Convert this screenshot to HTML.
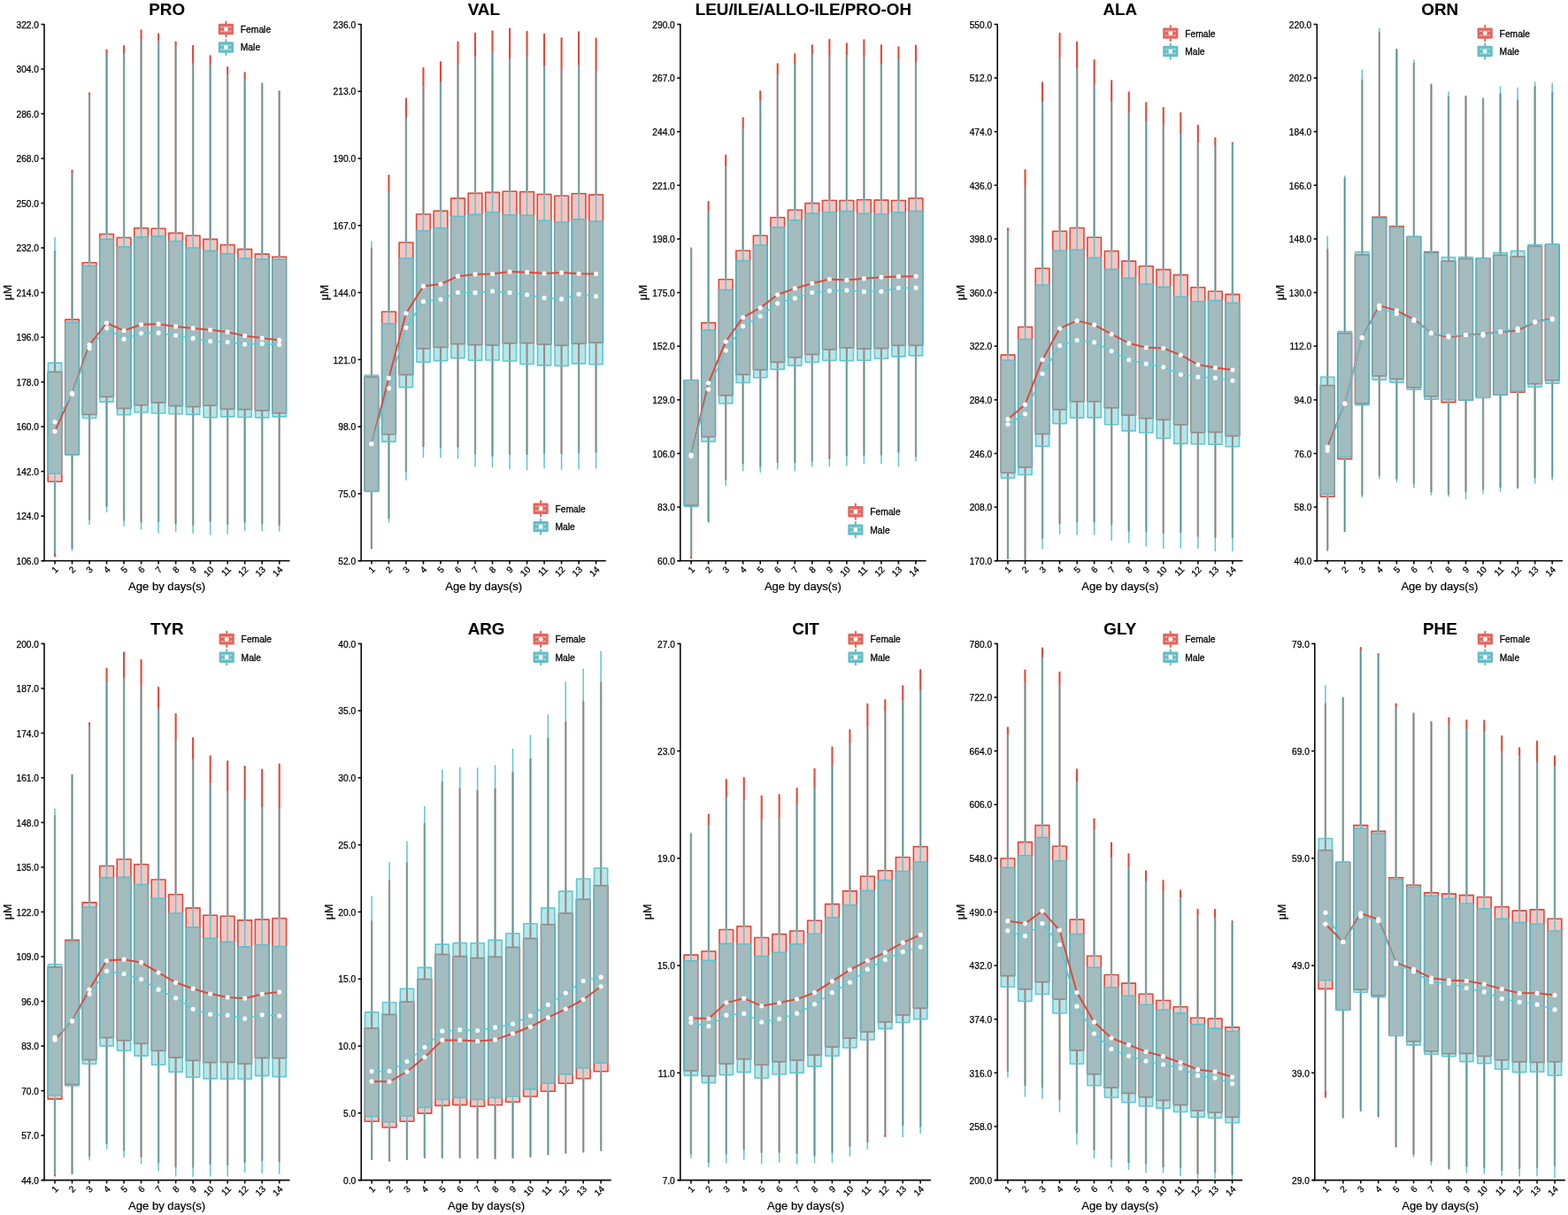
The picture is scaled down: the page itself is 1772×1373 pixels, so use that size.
<!DOCTYPE html>
<html lang="en">
<head>
<meta charset="utf-8">
<title>Amino acid concentrations by age in days</title>
<style>
html,body{margin:0;padding:0;background:#fff;}
body{width:1772px;height:1373px;overflow:hidden;}
svg{display:block;font-family:"Liberation Sans", sans-serif;}
</style>
</head>
<body>
<svg width="1772" height="1373" viewBox="0 0 1772 1373">
<rect width="1772" height="1373" fill="#fff"/>
<g>
<text x="188.7" y="17.2" text-anchor="middle" font-size="18.8" font-weight="bold" fill="#000" stroke="#000" stroke-width="0.1">PRO</text>
<g stroke="#dd4a3c" stroke-width="2.1" stroke-linecap="round" fill="none">
<line x1="62" x2="62" y1="284.2" y2="420.3"/>
<line x1="62" x2="62" y1="544.2" y2="628.5"/>
<line x1="81.52" x2="81.52" y1="192.7" y2="361.1"/>
<line x1="81.52" x2="81.52" y1="513.6" y2="618.9"/>
<line x1="101.03" x2="101.03" y1="105.4" y2="296.7"/>
<line x1="101.03" x2="101.03" y1="468.4" y2="586.8"/>
<line x1="120.55" x2="120.55" y1="56.5" y2="264.5"/>
<line x1="120.55" x2="120.55" y1="448.4" y2="571.8"/>
<line x1="140.06" x2="140.06" y1="52" y2="268.5"/>
<line x1="140.06" x2="140.06" y1="461.5" y2="587.4"/>
<line x1="159.58" x2="159.58" y1="34.2" y2="257.7"/>
<line x1="159.58" x2="159.58" y1="457.8" y2="589.5"/>
<line x1="179.09" x2="179.09" y1="38.3" y2="258.3"/>
<line x1="179.09" x2="179.09" y1="455" y2="588.9"/>
<line x1="198.61" x2="198.61" y1="47.5" y2="263.4"/>
<line x1="198.61" x2="198.61" y1="458.6" y2="591.1"/>
<line x1="218.12" x2="218.12" y1="51.8" y2="266.3"/>
<line x1="218.12" x2="218.12" y1="459.6" y2="593.1"/>
<line x1="237.64" x2="237.64" y1="63.2" y2="270.4"/>
<line x1="237.64" x2="237.64" y1="458.2" y2="588.5"/>
<line x1="257.15" x2="257.15" y1="76.1" y2="276.7"/>
<line x1="257.15" x2="257.15" y1="462.3" y2="591.7"/>
<line x1="276.67" x2="276.67" y1="82.4" y2="281.6"/>
<line x1="276.67" x2="276.67" y1="462.7" y2="589.5"/>
<line x1="296.18" x2="296.18" y1="94.8" y2="287.1"/>
<line x1="296.18" x2="296.18" y1="463.9" y2="591.5"/>
<line x1="315.7" x2="315.7" y1="103.4" y2="290.2"/>
<line x1="315.7" x2="315.7" y1="466.8" y2="593.1"/>
</g>
<g stroke="#db4a3d" stroke-width="1.6" stroke-linejoin="round" fill="#f3c5c1">
<rect x="54.15" y="420.3" width="15.7" height="123.9"/>
<rect x="73.67" y="361.1" width="15.7" height="152.5"/>
<rect x="93.18" y="296.7" width="15.7" height="171.7"/>
<rect x="112.7" y="264.5" width="15.7" height="183.9"/>
<rect x="132.21" y="268.5" width="15.7" height="193"/>
<rect x="151.73" y="257.7" width="15.7" height="200.1"/>
<rect x="171.24" y="258.3" width="15.7" height="196.7"/>
<rect x="190.76" y="263.4" width="15.7" height="195.2"/>
<rect x="210.27" y="266.3" width="15.7" height="193.3"/>
<rect x="229.79" y="270.4" width="15.7" height="187.8"/>
<rect x="249.3" y="276.7" width="15.7" height="185.6"/>
<rect x="268.82" y="281.6" width="15.7" height="181.1"/>
<rect x="288.33" y="287.1" width="15.7" height="176.8"/>
<rect x="307.85" y="290.2" width="15.7" height="176.6"/>
</g>
<g fill="#a4bbbe"><rect x="54.4" y="420.3" width="15.2" height="114.9"/><rect x="73.92" y="364" width="15.2" height="149.6"/><rect x="93.43" y="300.2" width="15.2" height="168.2"/><rect x="112.95" y="270.2" width="15.2" height="178.2"/><rect x="132.46" y="278.9" width="15.2" height="182.6"/><rect x="151.98" y="267.7" width="15.2" height="190.1"/><rect x="171.49" y="266.9" width="15.2" height="188.1"/><rect x="191.01" y="272.6" width="15.2" height="186"/><rect x="210.52" y="280" width="15.2" height="179.6"/><rect x="230.04" y="283.4" width="15.2" height="174.8"/><rect x="249.55" y="286.9" width="15.2" height="175.4"/><rect x="269.07" y="292" width="15.2" height="170.7"/><rect x="288.58" y="292.8" width="15.2" height="171.1"/><rect x="308.1" y="293" width="15.2" height="173.8"/></g>
<g fill="#b6e6e9"><rect x="54.4" y="410.1" width="15.2" height="10.2"/><rect x="93.43" y="468.4" width="15.2" height="4.1"/><rect x="112.95" y="448.4" width="15.2" height="5.7"/><rect x="132.46" y="461.5" width="15.2" height="7.3"/><rect x="151.98" y="457.8" width="15.2" height="8.2"/><rect x="171.49" y="455" width="15.2" height="12"/><rect x="191.01" y="458.6" width="15.2" height="9.2"/><rect x="210.52" y="459.6" width="15.2" height="8.8"/><rect x="230.04" y="458.2" width="15.2" height="13.5"/><rect x="249.55" y="462.3" width="15.2" height="8.6"/><rect x="269.07" y="462.7" width="15.2" height="8.8"/><rect x="288.58" y="463.9" width="15.2" height="8"/><rect x="308.1" y="466.8" width="15.2" height="4.1"/></g>
<g stroke="#968a88" stroke-width="1.7" fill="none">
<line x1="55.1" x2="68.9" y1="420.3" y2="420.3"/>
<line x1="62" x2="62" y1="410.9" y2="420.3" stroke-width="2.1"/>
<line x1="94.13" x2="107.93" y1="468.4" y2="468.4"/>
<line x1="101.03" x2="101.03" y1="468.4" y2="471.7" stroke-width="2.1"/>
<line x1="113.65" x2="127.45" y1="448.4" y2="448.4"/>
<line x1="120.55" x2="120.55" y1="448.4" y2="453.3" stroke-width="2.1"/>
<line x1="133.16" x2="146.96" y1="461.5" y2="461.5"/>
<line x1="140.06" x2="140.06" y1="461.5" y2="468" stroke-width="2.1"/>
<line x1="152.68" x2="166.48" y1="457.8" y2="457.8"/>
<line x1="159.58" x2="159.58" y1="457.8" y2="465.2" stroke-width="2.1"/>
<line x1="172.19" x2="185.99" y1="455" y2="455"/>
<line x1="179.09" x2="179.09" y1="455" y2="466.2" stroke-width="2.1"/>
<line x1="191.71" x2="205.51" y1="458.6" y2="458.6"/>
<line x1="198.61" x2="198.61" y1="458.6" y2="467" stroke-width="2.1"/>
<line x1="211.22" x2="225.02" y1="459.6" y2="459.6"/>
<line x1="218.12" x2="218.12" y1="459.6" y2="467.6" stroke-width="2.1"/>
<line x1="230.74" x2="244.54" y1="458.2" y2="458.2"/>
<line x1="237.64" x2="237.64" y1="458.2" y2="470.9" stroke-width="2.1"/>
<line x1="250.25" x2="264.05" y1="462.3" y2="462.3"/>
<line x1="257.15" x2="257.15" y1="462.3" y2="470.1" stroke-width="2.1"/>
<line x1="269.77" x2="283.57" y1="462.7" y2="462.7"/>
<line x1="276.67" x2="276.67" y1="462.7" y2="470.7" stroke-width="2.1"/>
<line x1="289.28" x2="303.08" y1="463.9" y2="463.9"/>
<line x1="296.18" x2="296.18" y1="463.9" y2="471.1" stroke-width="2.1"/>
<line x1="308.8" x2="322.6" y1="466.8" y2="466.8"/>
<line x1="315.7" x2="315.7" y1="466.8" y2="470.1" stroke-width="2.1"/>
</g>
<g stroke="#62c4ce" stroke-width="1.5" stroke-linecap="round" fill="none">
<line x1="62" x2="62" y1="268.6" y2="410.1"/>
<line x1="62" x2="62" y1="535.2" y2="624.3"/>
<line x1="81.52" x2="81.52" y1="196.1" y2="364"/>
<line x1="81.52" x2="81.52" y1="513.6" y2="621.9"/>
<line x1="101.03" x2="101.03" y1="107.8" y2="300.2"/>
<line x1="101.03" x2="101.03" y1="472.5" y2="592.4"/>
<line x1="120.55" x2="120.55" y1="62.5" y2="270.2"/>
<line x1="120.55" x2="120.55" y1="454.1" y2="578.6"/>
<line x1="140.06" x2="140.06" y1="61.5" y2="278.9"/>
<line x1="140.06" x2="140.06" y1="468.8" y2="594.2"/>
<line x1="159.58" x2="159.58" y1="45.6" y2="267.7"/>
<line x1="159.58" x2="159.58" y1="466" y2="597.9"/>
<line x1="179.09" x2="179.09" y1="46.6" y2="266.9"/>
<line x1="179.09" x2="179.09" y1="467" y2="602"/>
<line x1="198.61" x2="198.61" y1="53.1" y2="272.6"/>
<line x1="198.61" x2="198.61" y1="467.8" y2="600.7"/>
<line x1="218.12" x2="218.12" y1="72.5" y2="280"/>
<line x1="218.12" x2="218.12" y1="468.4" y2="602.6"/>
<line x1="237.64" x2="237.64" y1="74.1" y2="283.4"/>
<line x1="237.64" x2="237.64" y1="471.7" y2="604"/>
<line x1="257.15" x2="257.15" y1="85.5" y2="286.9"/>
<line x1="257.15" x2="257.15" y1="470.9" y2="602.8"/>
<line x1="276.67" x2="276.67" y1="91.1" y2="292"/>
<line x1="276.67" x2="276.67" y1="471.5" y2="599.3"/>
<line x1="296.18" x2="296.18" y1="94.5" y2="292.8"/>
<line x1="296.18" x2="296.18" y1="471.9" y2="599.7"/>
<line x1="315.7" x2="315.7" y1="103.1" y2="293"/>
<line x1="315.7" x2="315.7" y1="470.9" y2="600.1"/>
</g>
<g stroke="#e8c9c4" stroke-width="2.5" fill="none"><line x1="62" x2="62" y1="283.2" y2="410.1"/><line x1="62" x2="62" y1="544.2" y2="625"/><line x1="81.52" x2="81.52" y1="195.4" y2="361.1"/><line x1="81.52" x2="81.52" y1="513.6" y2="619.9"/><line x1="101.03" x2="101.03" y1="107.1" y2="296.7"/><line x1="101.03" x2="101.03" y1="472.5" y2="587.8"/><line x1="120.55" x2="120.55" y1="61.8" y2="264.5"/><line x1="120.55" x2="120.55" y1="454.1" y2="572.8"/><line x1="140.06" x2="140.06" y1="60.8" y2="268.5"/><line x1="140.06" x2="140.06" y1="468.8" y2="588.4"/><line x1="159.58" x2="159.58" y1="44.9" y2="257.7"/><line x1="159.58" x2="159.58" y1="466" y2="590.5"/><line x1="179.09" x2="179.09" y1="45.9" y2="258.3"/><line x1="179.09" x2="179.09" y1="467" y2="589.9"/><line x1="198.61" x2="198.61" y1="52.4" y2="263.4"/><line x1="198.61" x2="198.61" y1="467.8" y2="592.1"/><line x1="218.12" x2="218.12" y1="71.8" y2="266.3"/><line x1="218.12" x2="218.12" y1="468.4" y2="594.1"/><line x1="237.64" x2="237.64" y1="73.4" y2="270.4"/><line x1="237.64" x2="237.64" y1="471.7" y2="589.5"/><line x1="257.15" x2="257.15" y1="84.8" y2="276.7"/><line x1="257.15" x2="257.15" y1="470.9" y2="592.7"/><line x1="276.67" x2="276.67" y1="90.4" y2="281.6"/><line x1="276.67" x2="276.67" y1="471.5" y2="590.5"/><line x1="296.18" x2="296.18" y1="93.8" y2="287.1"/><line x1="296.18" x2="296.18" y1="471.9" y2="592.5"/><line x1="315.7" x2="315.7" y1="102.4" y2="290.2"/><line x1="315.7" x2="315.7" y1="470.9" y2="594.1"/></g>
<g stroke="#4f979b" stroke-width="1.5" fill="none"><line x1="62" x2="62" y1="283.2" y2="410.1"/><line x1="62" x2="62" y1="544.2" y2="625"/><line x1="81.52" x2="81.52" y1="195.4" y2="361.1"/><line x1="81.52" x2="81.52" y1="513.6" y2="619.9"/><line x1="101.03" x2="101.03" y1="107.1" y2="296.7"/><line x1="101.03" x2="101.03" y1="472.5" y2="587.8"/><line x1="120.55" x2="120.55" y1="61.8" y2="264.5"/><line x1="120.55" x2="120.55" y1="454.1" y2="572.8"/><line x1="140.06" x2="140.06" y1="60.8" y2="268.5"/><line x1="140.06" x2="140.06" y1="468.8" y2="588.4"/><line x1="159.58" x2="159.58" y1="44.9" y2="257.7"/><line x1="159.58" x2="159.58" y1="466" y2="590.5"/><line x1="179.09" x2="179.09" y1="45.9" y2="258.3"/><line x1="179.09" x2="179.09" y1="467" y2="589.9"/><line x1="198.61" x2="198.61" y1="52.4" y2="263.4"/><line x1="198.61" x2="198.61" y1="467.8" y2="592.1"/><line x1="218.12" x2="218.12" y1="71.8" y2="266.3"/><line x1="218.12" x2="218.12" y1="468.4" y2="594.1"/><line x1="237.64" x2="237.64" y1="73.4" y2="270.4"/><line x1="237.64" x2="237.64" y1="471.7" y2="589.5"/><line x1="257.15" x2="257.15" y1="84.8" y2="276.7"/><line x1="257.15" x2="257.15" y1="470.9" y2="592.7"/><line x1="276.67" x2="276.67" y1="90.4" y2="281.6"/><line x1="276.67" x2="276.67" y1="471.5" y2="590.5"/><line x1="296.18" x2="296.18" y1="93.8" y2="287.1"/><line x1="296.18" x2="296.18" y1="471.9" y2="592.5"/><line x1="315.7" x2="315.7" y1="102.4" y2="290.2"/><line x1="315.7" x2="315.7" y1="470.9" y2="594.1"/></g>
<g stroke="rgba(78,192,203,0.85)" stroke-width="1.6" stroke-linejoin="round" fill="none">
<rect x="54.4" y="410.1" width="15.2" height="125.1"/>
<rect x="73.92" y="364" width="15.2" height="149.6"/>
<rect x="93.43" y="300.2" width="15.2" height="172.3"/>
<rect x="112.95" y="270.2" width="15.2" height="183.9"/>
<rect x="132.46" y="278.9" width="15.2" height="189.9"/>
<rect x="151.98" y="267.7" width="15.2" height="198.3"/>
<rect x="171.49" y="266.9" width="15.2" height="200.1"/>
<rect x="191.01" y="272.6" width="15.2" height="195.2"/>
<rect x="210.52" y="280" width="15.2" height="188.4"/>
<rect x="230.04" y="283.4" width="15.2" height="188.3"/>
<rect x="249.55" y="286.9" width="15.2" height="184"/>
<rect x="269.07" y="292" width="15.2" height="179.5"/>
<rect x="288.58" y="292.8" width="15.2" height="179.1"/>
<rect x="308.1" y="293" width="15.2" height="177.9"/>
</g>
<polyline points="62,487.4 81.52,444.4 101.03,389.7 120.55,365 140.06,373.6 159.58,366.8 179.09,366.2 198.61,368.9 218.12,370.9 237.64,372.8 257.15,375.2 276.67,379.5 296.18,382.1 315.7,384.4" fill="none" stroke="#e0493b" stroke-width="2.0" stroke-linejoin="round"/>
<polyline points="62,476.8 81.52,445.4 101.03,393.6 120.55,370.9 140.06,383.2 159.58,376.6 179.09,376.2 198.61,379.1 218.12,382.3 237.64,385.6 257.15,386.6 276.67,389.1 296.18,388.5 315.7,389.5" fill="none" stroke="#5ccbd6" stroke-width="1.6" stroke-linejoin="round"/>
<g fill="#fff">
<circle cx="62" cy="487.4" r="2.6"/>
<circle cx="81.52" cy="444.4" r="2.6"/>
<circle cx="101.03" cy="389.7" r="2.6"/>
<circle cx="120.55" cy="365" r="2.6"/>
<circle cx="140.06" cy="373.6" r="2.6"/>
<circle cx="159.58" cy="366.8" r="2.6"/>
<circle cx="179.09" cy="366.2" r="2.6"/>
<circle cx="198.61" cy="368.9" r="2.6"/>
<circle cx="218.12" cy="370.9" r="2.6"/>
<circle cx="237.64" cy="372.8" r="2.6"/>
<circle cx="257.15" cy="375.2" r="2.6"/>
<circle cx="276.67" cy="379.5" r="2.6"/>
<circle cx="296.18" cy="382.1" r="2.6"/>
<circle cx="315.7" cy="384.4" r="2.6"/>
</g>
<g fill="#fff">
<circle cx="62" cy="476.8" r="2.6"/>
<circle cx="81.52" cy="445.4" r="2.6"/>
<circle cx="101.03" cy="393.6" r="2.6"/>
<circle cx="120.55" cy="370.9" r="2.6"/>
<circle cx="140.06" cy="383.2" r="2.6"/>
<circle cx="159.58" cy="376.6" r="2.6"/>
<circle cx="179.09" cy="376.2" r="2.6"/>
<circle cx="198.61" cy="379.1" r="2.6"/>
<circle cx="218.12" cy="382.3" r="2.6"/>
<circle cx="237.64" cy="385.6" r="2.6"/>
<circle cx="257.15" cy="386.6" r="2.6"/>
<circle cx="276.67" cy="389.1" r="2.6"/>
<circle cx="296.18" cy="388.5" r="2.6"/>
<circle cx="315.7" cy="389.5" r="2.6"/>
</g>
<g stroke="#0a0a0a" stroke-width="1.6" fill="none">
<line x1="50" x2="50" y1="26.9" y2="634.35"/>
<line x1="47.4" x2="327.5" y1="633.7" y2="633.7"/>
<line x1="46.4" x2="50" y1="27.5" y2="27.5"/>
<line x1="46.4" x2="50" y1="78.02" y2="78.02"/>
<line x1="46.4" x2="50" y1="128.53" y2="128.53"/>
<line x1="46.4" x2="50" y1="179.05" y2="179.05"/>
<line x1="46.4" x2="50" y1="229.57" y2="229.57"/>
<line x1="46.4" x2="50" y1="280.08" y2="280.08"/>
<line x1="46.4" x2="50" y1="330.6" y2="330.6"/>
<line x1="46.4" x2="50" y1="381.12" y2="381.12"/>
<line x1="46.4" x2="50" y1="431.63" y2="431.63"/>
<line x1="46.4" x2="50" y1="482.15" y2="482.15"/>
<line x1="46.4" x2="50" y1="532.67" y2="532.67"/>
<line x1="46.4" x2="50" y1="583.18" y2="583.18"/>
<line x1="46.4" x2="50" y1="633.7" y2="633.7"/>
<line x1="62" x2="62" y1="633.7" y2="637.5"/>
<line x1="81.52" x2="81.52" y1="633.7" y2="637.5"/>
<line x1="101.03" x2="101.03" y1="633.7" y2="637.5"/>
<line x1="120.55" x2="120.55" y1="633.7" y2="637.5"/>
<line x1="140.06" x2="140.06" y1="633.7" y2="637.5"/>
<line x1="159.58" x2="159.58" y1="633.7" y2="637.5"/>
<line x1="179.09" x2="179.09" y1="633.7" y2="637.5"/>
<line x1="198.61" x2="198.61" y1="633.7" y2="637.5"/>
<line x1="218.12" x2="218.12" y1="633.7" y2="637.5"/>
<line x1="237.64" x2="237.64" y1="633.7" y2="637.5"/>
<line x1="257.15" x2="257.15" y1="633.7" y2="637.5"/>
<line x1="276.67" x2="276.67" y1="633.7" y2="637.5"/>
<line x1="296.18" x2="296.18" y1="633.7" y2="637.5"/>
<line x1="315.7" x2="315.7" y1="633.7" y2="637.5"/>
</g>
<g font-size="10.2" fill="#000" stroke="#000" stroke-width="0.25" text-anchor="end">
<text x="44" y="31.7">322.0</text>
<text x="44" y="82.22">304.0</text>
<text x="44" y="132.73">286.0</text>
<text x="44" y="183.25">268.0</text>
<text x="44" y="233.77">250.0</text>
<text x="44" y="284.28">232.0</text>
<text x="44" y="334.8">214.0</text>
<text x="44" y="385.32">196.0</text>
<text x="44" y="435.83">178.0</text>
<text x="44" y="486.35">160.0</text>
<text x="44" y="536.87">142.0</text>
<text x="44" y="587.38">124.0</text>
<text x="44" y="637.9">106.0</text>
</g>
<g font-size="10.2" fill="#000" stroke="#000" stroke-width="0.25" text-anchor="end">
<text transform="translate(66.6,644.3) rotate(-45)">1</text>
<text transform="translate(86.12,644.3) rotate(-45)">2</text>
<text transform="translate(105.63,644.3) rotate(-45)">3</text>
<text transform="translate(125.15,644.3) rotate(-45)">4</text>
<text transform="translate(144.66,644.3) rotate(-45)">5</text>
<text transform="translate(164.18,644.3) rotate(-45)">6</text>
<text transform="translate(183.69,644.3) rotate(-45)">7</text>
<text transform="translate(203.21,644.3) rotate(-45)">8</text>
<text transform="translate(222.72,644.3) rotate(-45)">9</text>
<text transform="translate(242.24,644.3) rotate(-45)">10</text>
<text transform="translate(261.75,644.3) rotate(-45)">11</text>
<text transform="translate(281.27,644.3) rotate(-45)">12</text>
<text transform="translate(300.78,644.3) rotate(-45)">13</text>
<text transform="translate(320.3,644.3) rotate(-45)">14</text>
</g>
<text x="188.6" y="667.4" text-anchor="middle" font-size="13.05" fill="#000" stroke="#000" stroke-width="0.2">Age by days(s)</text>
<text transform="translate(12.5,330.6) rotate(-90)" text-anchor="middle" font-size="12.4" fill="#000" stroke="#000" stroke-width="0.2">μM</text>
<line x1="255.4" x2="255.4" y1="24.4" y2="41.6" stroke="#e1675f" stroke-width="2" stroke-linecap="round"/>
<rect x="246.8" y="26.8" width="17.2" height="12.4" rx="1.2" fill="#e1675f"/>
<path d="M249.2 30.6H261.6M249.2 35.4H261.6" stroke="#fff" stroke-opacity="0.45" stroke-width="1.6" stroke-dasharray="2.6 0.6" fill="none"/>
<circle cx="255.4" cy="33" r="2.4" fill="#fff"/>
<text x="271.8" y="37" font-size="10.3" fill="#000" stroke="#000" stroke-width="0.3">Female</text>
<line x1="255.4" x2="255.4" y1="44.85" y2="62.05" stroke="#64bdc6" stroke-width="2" stroke-linecap="round"/>
<rect x="246.8" y="47.25" width="17.2" height="12.4" rx="1.2" fill="#64bdc6"/>
<path d="M249.2 51.05H261.6M249.2 55.85H261.6" stroke="#fff" stroke-opacity="0.45" stroke-width="1.6" stroke-dasharray="2.6 0.6" fill="none"/>
<circle cx="255.4" cy="53.45" r="2.4" fill="#fff"/>
<text x="271.8" y="57.45" font-size="10.3" fill="#000" stroke="#000" stroke-width="0.3">Male</text>
</g>
<g>
<text x="546.8" y="17.2" text-anchor="middle" font-size="18.8" font-weight="bold" fill="#000" stroke="#000" stroke-width="0.1">VAL</text>
<g stroke="#dd4a3c" stroke-width="2.1" stroke-linecap="round" fill="none">
<line x1="419.9" x2="419.9" y1="281.2" y2="426"/>
<line x1="419.9" x2="419.9" y1="554.8" y2="619.4"/>
<line x1="439.42" x2="439.42" y1="198.2" y2="352.2"/>
<line x1="439.42" x2="439.42" y1="490.8" y2="585.3"/>
<line x1="458.93" x2="458.93" y1="111.5" y2="274"/>
<line x1="458.93" x2="458.93" y1="423.5" y2="532.5"/>
<line x1="478.45" x2="478.45" y1="77.1" y2="242"/>
<line x1="478.45" x2="478.45" y1="394" y2="504"/>
<line x1="497.96" x2="497.96" y1="70.3" y2="238.4"/>
<line x1="497.96" x2="497.96" y1="392.5" y2="505.2"/>
<line x1="517.48" x2="517.48" y1="47.9" y2="224.1"/>
<line x1="517.48" x2="517.48" y1="388.7" y2="504.6"/>
<line x1="536.99" x2="536.99" y1="37.7" y2="218.4"/>
<line x1="536.99" x2="536.99" y1="389.7" y2="512.5"/>
<line x1="556.51" x2="556.51" y1="35.3" y2="217.4"/>
<line x1="556.51" x2="556.51" y1="390.1" y2="514.8"/>
<line x1="576.02" x2="576.02" y1="32.6" y2="216.2"/>
<line x1="576.02" x2="576.02" y1="387.9" y2="513"/>
<line x1="595.54" x2="595.54" y1="35.9" y2="216.8"/>
<line x1="595.54" x2="595.54" y1="387.7" y2="512.8"/>
<line x1="615.05" x2="615.05" y1="38.7" y2="219.5"/>
<line x1="615.05" x2="615.05" y1="389.1" y2="512.1"/>
<line x1="634.57" x2="634.57" y1="43.2" y2="221.3"/>
<line x1="634.57" x2="634.57" y1="390.3" y2="512.1"/>
<line x1="654.08" x2="654.08" y1="36.3" y2="218.8"/>
<line x1="654.08" x2="654.08" y1="388.3" y2="511.1"/>
<line x1="673.6" x2="673.6" y1="43.6" y2="220.1"/>
<line x1="673.6" x2="673.6" y1="387.2" y2="510.5"/>
</g>
<g stroke="#db4a3d" stroke-width="1.6" stroke-linejoin="round" fill="#f3c5c1">
<rect x="412.05" y="426" width="15.7" height="128.8"/>
<rect x="431.57" y="352.2" width="15.7" height="138.6"/>
<rect x="451.08" y="274" width="15.7" height="149.5"/>
<rect x="470.6" y="242" width="15.7" height="152"/>
<rect x="490.11" y="238.4" width="15.7" height="154.1"/>
<rect x="509.63" y="224.1" width="15.7" height="164.6"/>
<rect x="529.14" y="218.4" width="15.7" height="171.3"/>
<rect x="548.66" y="217.4" width="15.7" height="172.7"/>
<rect x="568.17" y="216.2" width="15.7" height="171.7"/>
<rect x="587.69" y="216.8" width="15.7" height="170.9"/>
<rect x="607.2" y="219.5" width="15.7" height="169.6"/>
<rect x="626.72" y="221.3" width="15.7" height="169"/>
<rect x="646.23" y="218.8" width="15.7" height="169.5"/>
<rect x="665.75" y="220.1" width="15.7" height="167.1"/>
</g>
<g fill="#a4bbbe"><rect x="412.3" y="426" width="15.2" height="128.8"/><rect x="431.82" y="365.8" width="15.2" height="125"/><rect x="451.33" y="291.8" width="15.2" height="131.7"/><rect x="470.85" y="260.8" width="15.2" height="133.2"/><rect x="490.36" y="257.7" width="15.2" height="134.8"/><rect x="509.88" y="244.5" width="15.2" height="144.2"/><rect x="529.39" y="242.4" width="15.2" height="147.3"/><rect x="548.91" y="239.8" width="15.2" height="150.3"/><rect x="568.42" y="242.8" width="15.2" height="145.1"/><rect x="587.94" y="243.3" width="15.2" height="144.4"/><rect x="607.45" y="249.2" width="15.2" height="139.9"/><rect x="626.97" y="251" width="15.2" height="139.3"/><rect x="646.48" y="247.9" width="15.2" height="140.4"/><rect x="666" y="250" width="15.2" height="137.2"/></g>
<g fill="#b6e6e9"><rect x="412.3" y="424" width="15.2" height="2"/><rect x="412.3" y="554.8" width="15.2" height="0.6"/><rect x="431.82" y="490.8" width="15.2" height="8.3"/><rect x="451.33" y="423.5" width="15.2" height="14.1"/><rect x="470.85" y="394" width="15.2" height="15.3"/><rect x="490.36" y="392.5" width="15.2" height="15.1"/><rect x="509.88" y="388.7" width="15.2" height="15.9"/><rect x="529.39" y="389.7" width="15.2" height="17.5"/><rect x="548.91" y="390.1" width="15.2" height="16.9"/><rect x="568.42" y="387.9" width="15.2" height="20.1"/><rect x="587.94" y="387.7" width="15.2" height="23.8"/><rect x="607.45" y="389.1" width="15.2" height="23.8"/><rect x="626.97" y="390.3" width="15.2" height="23.1"/><rect x="646.48" y="388.3" width="15.2" height="22.6"/><rect x="666" y="387.2" width="15.2" height="24.5"/></g>
<g stroke="#968a88" stroke-width="1.7" fill="none">
<line x1="413" x2="426.8" y1="426" y2="426"/>
<line x1="419.9" x2="419.9" y1="424.8" y2="426" stroke-width="2.1"/>
<line x1="432.52" x2="446.32" y1="490.8" y2="490.8"/>
<line x1="439.42" x2="439.42" y1="490.8" y2="498.3" stroke-width="2.1"/>
<line x1="452.03" x2="465.83" y1="423.5" y2="423.5"/>
<line x1="458.93" x2="458.93" y1="423.5" y2="436.8" stroke-width="2.1"/>
<line x1="471.55" x2="485.35" y1="394" y2="394"/>
<line x1="478.45" x2="478.45" y1="394" y2="408.5" stroke-width="2.1"/>
<line x1="491.06" x2="504.86" y1="392.5" y2="392.5"/>
<line x1="497.96" x2="497.96" y1="392.5" y2="406.8" stroke-width="2.1"/>
<line x1="510.58" x2="524.38" y1="388.7" y2="388.7"/>
<line x1="517.48" x2="517.48" y1="388.7" y2="403.8" stroke-width="2.1"/>
<line x1="530.09" x2="543.89" y1="389.7" y2="389.7"/>
<line x1="536.99" x2="536.99" y1="389.7" y2="406.4" stroke-width="2.1"/>
<line x1="549.61" x2="563.41" y1="390.1" y2="390.1"/>
<line x1="556.51" x2="556.51" y1="390.1" y2="406.2" stroke-width="2.1"/>
<line x1="569.12" x2="582.92" y1="387.9" y2="387.9"/>
<line x1="576.02" x2="576.02" y1="387.9" y2="407.2" stroke-width="2.1"/>
<line x1="588.64" x2="602.44" y1="387.7" y2="387.7"/>
<line x1="595.54" x2="595.54" y1="387.7" y2="410.7" stroke-width="2.1"/>
<line x1="608.15" x2="621.95" y1="389.1" y2="389.1"/>
<line x1="615.05" x2="615.05" y1="389.1" y2="412.1" stroke-width="2.1"/>
<line x1="627.67" x2="641.47" y1="390.3" y2="390.3"/>
<line x1="634.57" x2="634.57" y1="390.3" y2="412.6" stroke-width="2.1"/>
<line x1="647.18" x2="660.98" y1="388.3" y2="388.3"/>
<line x1="654.08" x2="654.08" y1="388.3" y2="410.1" stroke-width="2.1"/>
<line x1="666.7" x2="680.5" y1="387.2" y2="387.2"/>
<line x1="673.6" x2="673.6" y1="387.2" y2="410.9" stroke-width="2.1"/>
</g>
<g stroke="#62c4ce" stroke-width="1.5" stroke-linecap="round" fill="none">
<line x1="419.9" x2="419.9" y1="272.7" y2="424"/>
<line x1="419.9" x2="419.9" y1="555.4" y2="617.7"/>
<line x1="439.42" x2="439.42" y1="216.9" y2="365.8"/>
<line x1="439.42" x2="439.42" y1="499.1" y2="590.3"/>
<line x1="458.93" x2="458.93" y1="133.7" y2="291.8"/>
<line x1="458.93" x2="458.93" y1="437.6" y2="542.3"/>
<line x1="478.45" x2="478.45" y1="99.2" y2="260.8"/>
<line x1="478.45" x2="478.45" y1="409.3" y2="516.5"/>
<line x1="497.96" x2="497.96" y1="93.5" y2="257.7"/>
<line x1="497.96" x2="497.96" y1="407.6" y2="516.7"/>
<line x1="517.48" x2="517.48" y1="72.7" y2="244.5"/>
<line x1="517.48" x2="517.48" y1="404.6" y2="517.9"/>
<line x1="536.99" x2="536.99" y1="64.9" y2="242.4"/>
<line x1="536.99" x2="536.99" y1="407.2" y2="527.3"/>
<line x1="556.51" x2="556.51" y1="61.1" y2="239.8"/>
<line x1="556.51" x2="556.51" y1="407" y2="527.7"/>
<line x1="576.02" x2="576.02" y1="66.6" y2="242.8"/>
<line x1="576.02" x2="576.02" y1="408" y2="529.9"/>
<line x1="595.54" x2="595.54" y1="64.5" y2="243.3"/>
<line x1="595.54" x2="595.54" y1="411.5" y2="530.7"/>
<line x1="615.05" x2="615.05" y1="75.3" y2="249.2"/>
<line x1="615.05" x2="615.05" y1="412.9" y2="529.1"/>
<line x1="634.57" x2="634.57" y1="79.4" y2="251"/>
<line x1="634.57" x2="634.57" y1="413.4" y2="530.5"/>
<line x1="654.08" x2="654.08" y1="74.3" y2="247.9"/>
<line x1="654.08" x2="654.08" y1="410.9" y2="530.1"/>
<line x1="673.6" x2="673.6" y1="80.7" y2="250"/>
<line x1="673.6" x2="673.6" y1="411.7" y2="529.1"/>
</g>
<g stroke="#e8c9c4" stroke-width="2.5" fill="none"><line x1="419.9" x2="419.9" y1="280.2" y2="424"/><line x1="419.9" x2="419.9" y1="555.4" y2="618.4"/><line x1="439.42" x2="439.42" y1="216.2" y2="352.2"/><line x1="439.42" x2="439.42" y1="499.1" y2="586.3"/><line x1="458.93" x2="458.93" y1="133" y2="274"/><line x1="458.93" x2="458.93" y1="437.6" y2="533.5"/><line x1="478.45" x2="478.45" y1="98.5" y2="242"/><line x1="478.45" x2="478.45" y1="409.3" y2="505"/><line x1="497.96" x2="497.96" y1="92.8" y2="238.4"/><line x1="497.96" x2="497.96" y1="407.6" y2="506.2"/><line x1="517.48" x2="517.48" y1="72" y2="224.1"/><line x1="517.48" x2="517.48" y1="404.6" y2="505.6"/><line x1="536.99" x2="536.99" y1="64.2" y2="218.4"/><line x1="536.99" x2="536.99" y1="407.2" y2="513.5"/><line x1="556.51" x2="556.51" y1="60.4" y2="217.4"/><line x1="556.51" x2="556.51" y1="407" y2="515.8"/><line x1="576.02" x2="576.02" y1="65.9" y2="216.2"/><line x1="576.02" x2="576.02" y1="408" y2="514"/><line x1="595.54" x2="595.54" y1="63.8" y2="216.8"/><line x1="595.54" x2="595.54" y1="411.5" y2="513.8"/><line x1="615.05" x2="615.05" y1="74.6" y2="219.5"/><line x1="615.05" x2="615.05" y1="412.9" y2="513.1"/><line x1="634.57" x2="634.57" y1="78.7" y2="221.3"/><line x1="634.57" x2="634.57" y1="413.4" y2="513.1"/><line x1="654.08" x2="654.08" y1="73.6" y2="218.8"/><line x1="654.08" x2="654.08" y1="410.9" y2="512.1"/><line x1="673.6" x2="673.6" y1="80" y2="220.1"/><line x1="673.6" x2="673.6" y1="411.7" y2="511.5"/></g>
<g stroke="#4f979b" stroke-width="1.5" fill="none"><line x1="419.9" x2="419.9" y1="280.2" y2="424"/><line x1="419.9" x2="419.9" y1="555.4" y2="618.4"/><line x1="439.42" x2="439.42" y1="216.2" y2="352.2"/><line x1="439.42" x2="439.42" y1="499.1" y2="586.3"/><line x1="458.93" x2="458.93" y1="133" y2="274"/><line x1="458.93" x2="458.93" y1="437.6" y2="533.5"/><line x1="478.45" x2="478.45" y1="98.5" y2="242"/><line x1="478.45" x2="478.45" y1="409.3" y2="505"/><line x1="497.96" x2="497.96" y1="92.8" y2="238.4"/><line x1="497.96" x2="497.96" y1="407.6" y2="506.2"/><line x1="517.48" x2="517.48" y1="72" y2="224.1"/><line x1="517.48" x2="517.48" y1="404.6" y2="505.6"/><line x1="536.99" x2="536.99" y1="64.2" y2="218.4"/><line x1="536.99" x2="536.99" y1="407.2" y2="513.5"/><line x1="556.51" x2="556.51" y1="60.4" y2="217.4"/><line x1="556.51" x2="556.51" y1="407" y2="515.8"/><line x1="576.02" x2="576.02" y1="65.9" y2="216.2"/><line x1="576.02" x2="576.02" y1="408" y2="514"/><line x1="595.54" x2="595.54" y1="63.8" y2="216.8"/><line x1="595.54" x2="595.54" y1="411.5" y2="513.8"/><line x1="615.05" x2="615.05" y1="74.6" y2="219.5"/><line x1="615.05" x2="615.05" y1="412.9" y2="513.1"/><line x1="634.57" x2="634.57" y1="78.7" y2="221.3"/><line x1="634.57" x2="634.57" y1="413.4" y2="513.1"/><line x1="654.08" x2="654.08" y1="73.6" y2="218.8"/><line x1="654.08" x2="654.08" y1="410.9" y2="512.1"/><line x1="673.6" x2="673.6" y1="80" y2="220.1"/><line x1="673.6" x2="673.6" y1="411.7" y2="511.5"/></g>
<g stroke="rgba(78,192,203,0.85)" stroke-width="1.6" stroke-linejoin="round" fill="none">
<rect x="412.3" y="424" width="15.2" height="131.4"/>
<rect x="431.82" y="365.8" width="15.2" height="133.3"/>
<rect x="451.33" y="291.8" width="15.2" height="145.8"/>
<rect x="470.85" y="260.8" width="15.2" height="148.5"/>
<rect x="490.36" y="257.7" width="15.2" height="149.9"/>
<rect x="509.88" y="244.5" width="15.2" height="160.1"/>
<rect x="529.39" y="242.4" width="15.2" height="164.8"/>
<rect x="548.91" y="239.8" width="15.2" height="167.2"/>
<rect x="568.42" y="242.8" width="15.2" height="165.2"/>
<rect x="587.94" y="243.3" width="15.2" height="168.2"/>
<rect x="607.45" y="249.2" width="15.2" height="163.7"/>
<rect x="626.97" y="251" width="15.2" height="162.4"/>
<rect x="646.48" y="247.9" width="15.2" height="163"/>
<rect x="666" y="250" width="15.2" height="161.7"/>
</g>
<polyline points="419.9,501.6 439.42,427.2 458.93,354 478.45,323.4 497.96,321 517.48,312.2 536.99,309.9 556.51,309.5 576.02,307.1 595.54,307.7 615.05,309.1 634.57,308.1 654.08,309.3 673.6,309.5" fill="none" stroke="#e0493b" stroke-width="2.0" stroke-linejoin="round"/>
<polyline points="419.9,501.6 439.42,438.8 458.93,370.3 478.45,340.7 497.96,338.3 517.48,330.5 536.99,330.7 556.51,329.1 576.02,330.7 595.54,333 615.05,336.7 634.57,337.9 654.08,332.4 673.6,334.8" fill="none" stroke="#5ccbd6" stroke-width="1.6" stroke-linejoin="round"/>
<g fill="#fff">
<circle cx="419.9" cy="501.6" r="2.6"/>
<circle cx="439.42" cy="427.2" r="2.6"/>
<circle cx="458.93" cy="354" r="2.6"/>
<circle cx="478.45" cy="323.4" r="2.6"/>
<circle cx="497.96" cy="321" r="2.6"/>
<circle cx="517.48" cy="312.2" r="2.6"/>
<circle cx="536.99" cy="309.9" r="2.6"/>
<circle cx="556.51" cy="309.5" r="2.6"/>
<circle cx="576.02" cy="307.1" r="2.6"/>
<circle cx="595.54" cy="307.7" r="2.6"/>
<circle cx="615.05" cy="309.1" r="2.6"/>
<circle cx="634.57" cy="308.1" r="2.6"/>
<circle cx="654.08" cy="309.3" r="2.6"/>
<circle cx="673.6" cy="309.5" r="2.6"/>
</g>
<g fill="#fff">
<circle cx="419.9" cy="501.6" r="2.6"/>
<circle cx="439.42" cy="438.8" r="2.6"/>
<circle cx="458.93" cy="370.3" r="2.6"/>
<circle cx="478.45" cy="340.7" r="2.6"/>
<circle cx="497.96" cy="338.3" r="2.6"/>
<circle cx="517.48" cy="330.5" r="2.6"/>
<circle cx="536.99" cy="330.7" r="2.6"/>
<circle cx="556.51" cy="329.1" r="2.6"/>
<circle cx="576.02" cy="330.7" r="2.6"/>
<circle cx="595.54" cy="333" r="2.6"/>
<circle cx="615.05" cy="336.7" r="2.6"/>
<circle cx="634.57" cy="337.9" r="2.6"/>
<circle cx="654.08" cy="332.4" r="2.6"/>
<circle cx="673.6" cy="334.8" r="2.6"/>
</g>
<g stroke="#0a0a0a" stroke-width="1.6" fill="none">
<line x1="408.1" x2="408.1" y1="26.9" y2="634.35"/>
<line x1="405.5" x2="684.8" y1="633.7" y2="633.7"/>
<line x1="404.5" x2="408.1" y1="27.5" y2="27.5"/>
<line x1="404.5" x2="408.1" y1="103.28" y2="103.28"/>
<line x1="404.5" x2="408.1" y1="179.05" y2="179.05"/>
<line x1="404.5" x2="408.1" y1="254.83" y2="254.83"/>
<line x1="404.5" x2="408.1" y1="330.6" y2="330.6"/>
<line x1="404.5" x2="408.1" y1="406.38" y2="406.38"/>
<line x1="404.5" x2="408.1" y1="482.15" y2="482.15"/>
<line x1="404.5" x2="408.1" y1="557.93" y2="557.93"/>
<line x1="404.5" x2="408.1" y1="633.7" y2="633.7"/>
<line x1="419.9" x2="419.9" y1="633.7" y2="637.5"/>
<line x1="439.42" x2="439.42" y1="633.7" y2="637.5"/>
<line x1="458.93" x2="458.93" y1="633.7" y2="637.5"/>
<line x1="478.45" x2="478.45" y1="633.7" y2="637.5"/>
<line x1="497.96" x2="497.96" y1="633.7" y2="637.5"/>
<line x1="517.48" x2="517.48" y1="633.7" y2="637.5"/>
<line x1="536.99" x2="536.99" y1="633.7" y2="637.5"/>
<line x1="556.51" x2="556.51" y1="633.7" y2="637.5"/>
<line x1="576.02" x2="576.02" y1="633.7" y2="637.5"/>
<line x1="595.54" x2="595.54" y1="633.7" y2="637.5"/>
<line x1="615.05" x2="615.05" y1="633.7" y2="637.5"/>
<line x1="634.57" x2="634.57" y1="633.7" y2="637.5"/>
<line x1="654.08" x2="654.08" y1="633.7" y2="637.5"/>
<line x1="673.6" x2="673.6" y1="633.7" y2="637.5"/>
</g>
<g font-size="10.2" fill="#000" stroke="#000" stroke-width="0.25" text-anchor="end">
<text x="402.1" y="31.7">236.0</text>
<text x="402.1" y="107.48">213.0</text>
<text x="402.1" y="183.25">190.0</text>
<text x="402.1" y="259.03">167.0</text>
<text x="402.1" y="334.8">144.0</text>
<text x="402.1" y="410.57">121.0</text>
<text x="402.1" y="486.35">98.0</text>
<text x="402.1" y="562.13">75.0</text>
<text x="402.1" y="637.9">52.0</text>
</g>
<g font-size="10.2" fill="#000" stroke="#000" stroke-width="0.25" text-anchor="end">
<text transform="translate(424.5,644.3) rotate(-45)">1</text>
<text transform="translate(444.02,644.3) rotate(-45)">2</text>
<text transform="translate(463.53,644.3) rotate(-45)">3</text>
<text transform="translate(483.05,644.3) rotate(-45)">4</text>
<text transform="translate(502.56,644.3) rotate(-45)">5</text>
<text transform="translate(522.08,644.3) rotate(-45)">6</text>
<text transform="translate(541.59,644.3) rotate(-45)">7</text>
<text transform="translate(561.11,644.3) rotate(-45)">8</text>
<text transform="translate(580.62,644.3) rotate(-45)">9</text>
<text transform="translate(600.14,644.3) rotate(-45)">10</text>
<text transform="translate(619.65,644.3) rotate(-45)">11</text>
<text transform="translate(639.17,644.3) rotate(-45)">12</text>
<text transform="translate(658.68,644.3) rotate(-45)">13</text>
<text transform="translate(678.2,644.3) rotate(-45)">14</text>
</g>
<text x="546.7" y="667.4" text-anchor="middle" font-size="13.05" fill="#000" stroke="#000" stroke-width="0.2">Age by days(s)</text>
<text transform="translate(370.6,330.6) rotate(-90)" text-anchor="middle" font-size="12.4" fill="#000" stroke="#000" stroke-width="0.2">μM</text>
<line x1="611.1" x2="611.1" y1="566.1" y2="583.3" stroke="#e1675f" stroke-width="2" stroke-linecap="round"/>
<rect x="602.5" y="568.5" width="17.2" height="12.4" rx="1.2" fill="#e1675f"/>
<path d="M604.9 572.3H617.3M604.9 577.1H617.3" stroke="#fff" stroke-opacity="0.45" stroke-width="1.6" stroke-dasharray="2.6 0.6" fill="none"/>
<circle cx="611.1" cy="574.7" r="2.4" fill="#fff"/>
<text x="627.5" y="578.7" font-size="10.3" fill="#000" stroke="#000" stroke-width="0.3">Female</text>
<line x1="611.1" x2="611.1" y1="586.55" y2="603.75" stroke="#64bdc6" stroke-width="2" stroke-linecap="round"/>
<rect x="602.5" y="588.95" width="17.2" height="12.4" rx="1.2" fill="#64bdc6"/>
<path d="M604.9 592.75H617.3M604.9 597.55H617.3" stroke="#fff" stroke-opacity="0.45" stroke-width="1.6" stroke-dasharray="2.6 0.6" fill="none"/>
<circle cx="611.1" cy="595.15" r="2.4" fill="#fff"/>
<text x="627.5" y="599.15" font-size="10.3" fill="#000" stroke="#000" stroke-width="0.3">Male</text>
</g>
<g>
<text x="907.9" y="17.2" text-anchor="middle" font-size="18.8" font-weight="bold" fill="#000" stroke="#000" stroke-width="0.1">LEU/ILE/ALLO-ILE/PRO-OH</text>
<g stroke="#dd4a3c" stroke-width="2.1" stroke-linecap="round" fill="none">
<line x1="781.1" x2="781.1" y1="281.6" y2="429.9"/>
<line x1="781.1" x2="781.1" y1="571" y2="630.4"/>
<line x1="800.63" x2="800.63" y1="228" y2="364.8"/>
<line x1="800.63" x2="800.63" y1="493.6" y2="588.3"/>
<line x1="820.16" x2="820.16" y1="175.6" y2="315.7"/>
<line x1="820.16" x2="820.16" y1="446.8" y2="541.6"/>
<line x1="839.69" x2="839.69" y1="133.2" y2="283.2"/>
<line x1="839.69" x2="839.69" y1="423.3" y2="523.3"/>
<line x1="859.22" x2="859.22" y1="103.2" y2="266.3"/>
<line x1="859.22" x2="859.22" y1="417.8" y2="526.8"/>
<line x1="878.75" x2="878.75" y1="72.4" y2="245.7"/>
<line x1="878.75" x2="878.75" y1="409.3" y2="521.9"/>
<line x1="898.28" x2="898.28" y1="61.2" y2="237.3"/>
<line x1="898.28" x2="898.28" y1="403.8" y2="522.3"/>
<line x1="917.82" x2="917.82" y1="51.2" y2="229.6"/>
<line x1="917.82" x2="917.82" y1="400.5" y2="520.7"/>
<line x1="937.35" x2="937.35" y1="44.9" y2="226.5"/>
<line x1="937.35" x2="937.35" y1="395" y2="517.8"/>
<line x1="956.88" x2="956.88" y1="49.3" y2="226.5"/>
<line x1="956.88" x2="956.88" y1="393" y2="514.6"/>
<line x1="976.41" x2="976.41" y1="45.3" y2="225.7"/>
<line x1="976.41" x2="976.41" y1="394.2" y2="513.8"/>
<line x1="995.94" x2="995.94" y1="51.2" y2="226.1"/>
<line x1="995.94" x2="995.94" y1="393.6" y2="513.6"/>
<line x1="1015.47" x2="1015.47" y1="53.2" y2="226.5"/>
<line x1="1015.47" x2="1015.47" y1="390.3" y2="510.5"/>
<line x1="1035" x2="1035" y1="51.6" y2="224.1"/>
<line x1="1035" x2="1035" y1="390.3" y2="515.2"/>
</g>
<g stroke="#db4a3d" stroke-width="1.6" stroke-linejoin="round" fill="#f3c5c1">
<rect x="773.25" y="429.9" width="15.7" height="141.1"/>
<rect x="792.78" y="364.8" width="15.7" height="128.8"/>
<rect x="812.31" y="315.7" width="15.7" height="131.1"/>
<rect x="831.84" y="283.2" width="15.7" height="140.1"/>
<rect x="851.37" y="266.3" width="15.7" height="151.5"/>
<rect x="870.9" y="245.7" width="15.7" height="163.6"/>
<rect x="890.43" y="237.3" width="15.7" height="166.5"/>
<rect x="909.97" y="229.6" width="15.7" height="170.9"/>
<rect x="929.5" y="226.5" width="15.7" height="168.5"/>
<rect x="949.03" y="226.5" width="15.7" height="166.5"/>
<rect x="968.56" y="225.7" width="15.7" height="168.5"/>
<rect x="988.09" y="226.1" width="15.7" height="167.5"/>
<rect x="1007.62" y="226.5" width="15.7" height="163.8"/>
<rect x="1027.15" y="224.1" width="15.7" height="166.2"/>
</g>
<g fill="#a4bbbe"><rect x="773.5" y="429.9" width="15.2" height="141.1"/><rect x="793.03" y="373" width="15.2" height="120.6"/><rect x="812.56" y="327.5" width="15.2" height="119.3"/><rect x="832.09" y="294.6" width="15.2" height="128.7"/><rect x="851.62" y="277.1" width="15.2" height="140.7"/><rect x="871.15" y="256.9" width="15.2" height="152.4"/><rect x="890.68" y="248.8" width="15.2" height="155"/><rect x="910.22" y="241" width="15.2" height="159.5"/><rect x="929.75" y="239.8" width="15.2" height="155.2"/><rect x="949.28" y="238.6" width="15.2" height="154.4"/><rect x="968.81" y="241.4" width="15.2" height="152.8"/><rect x="988.34" y="242" width="15.2" height="151.6"/><rect x="1007.87" y="240" width="15.2" height="150.3"/><rect x="1027.4" y="238.6" width="15.2" height="151.7"/></g>
<g fill="#b6e6e9"><rect x="773.5" y="429.5" width="15.2" height="0.4"/><rect x="773.5" y="571" width="15.2" height="1.5"/><rect x="793.03" y="493.6" width="15.2" height="5.3"/><rect x="812.56" y="446.8" width="15.2" height="9.2"/><rect x="832.09" y="423.3" width="15.2" height="9.2"/><rect x="851.62" y="417.8" width="15.2" height="9"/><rect x="871.15" y="409.3" width="15.2" height="8.1"/><rect x="890.68" y="403.8" width="15.2" height="9.3"/><rect x="910.22" y="400.5" width="15.2" height="8.8"/><rect x="929.75" y="395" width="15.2" height="12.2"/><rect x="949.28" y="393" width="15.2" height="14.6"/><rect x="968.81" y="394.2" width="15.2" height="13"/><rect x="988.34" y="393.6" width="15.2" height="11.6"/><rect x="1007.87" y="390.3" width="15.2" height="12.6"/><rect x="1027.4" y="390.3" width="15.2" height="11.6"/></g>
<g stroke="#968a88" stroke-width="1.7" fill="none">
<line x1="774.2" x2="788" y1="571" y2="571"/>
<line x1="781.1" x2="781.1" y1="571" y2="571.7" stroke-width="2.1"/>
<line x1="793.73" x2="807.53" y1="493.6" y2="493.6"/>
<line x1="800.63" x2="800.63" y1="493.6" y2="498.1" stroke-width="2.1"/>
<line x1="813.26" x2="827.06" y1="446.8" y2="446.8"/>
<line x1="820.16" x2="820.16" y1="446.8" y2="455.2" stroke-width="2.1"/>
<line x1="832.79" x2="846.59" y1="423.3" y2="423.3"/>
<line x1="839.69" x2="839.69" y1="423.3" y2="431.7" stroke-width="2.1"/>
<line x1="852.32" x2="866.12" y1="417.8" y2="417.8"/>
<line x1="859.22" x2="859.22" y1="417.8" y2="426" stroke-width="2.1"/>
<line x1="871.85" x2="885.65" y1="409.3" y2="409.3"/>
<line x1="878.75" x2="878.75" y1="409.3" y2="416.6" stroke-width="2.1"/>
<line x1="891.38" x2="905.18" y1="403.8" y2="403.8"/>
<line x1="898.28" x2="898.28" y1="403.8" y2="412.3" stroke-width="2.1"/>
<line x1="910.92" x2="924.72" y1="400.5" y2="400.5"/>
<line x1="917.82" x2="917.82" y1="400.5" y2="408.5" stroke-width="2.1"/>
<line x1="930.45" x2="944.25" y1="395" y2="395"/>
<line x1="937.35" x2="937.35" y1="395" y2="406.4" stroke-width="2.1"/>
<line x1="949.98" x2="963.78" y1="393" y2="393"/>
<line x1="956.88" x2="956.88" y1="393" y2="406.8" stroke-width="2.1"/>
<line x1="969.51" x2="983.31" y1="394.2" y2="394.2"/>
<line x1="976.41" x2="976.41" y1="394.2" y2="406.4" stroke-width="2.1"/>
<line x1="989.04" x2="1002.84" y1="393.6" y2="393.6"/>
<line x1="995.94" x2="995.94" y1="393.6" y2="404.4" stroke-width="2.1"/>
<line x1="1008.57" x2="1022.37" y1="390.3" y2="390.3"/>
<line x1="1015.47" x2="1015.47" y1="390.3" y2="402.1" stroke-width="2.1"/>
<line x1="1028.1" x2="1041.9" y1="390.3" y2="390.3"/>
<line x1="1035" x2="1035" y1="390.3" y2="401.1" stroke-width="2.1"/>
</g>
<g stroke="#62c4ce" stroke-width="1.5" stroke-linecap="round" fill="none">
<line x1="781.1" x2="781.1" y1="279.8" y2="429.5"/>
<line x1="781.1" x2="781.1" y1="572.5" y2="628.2"/>
<line x1="800.63" x2="800.63" y1="238.9" y2="373"/>
<line x1="800.63" x2="800.63" y1="498.9" y2="590.7"/>
<line x1="820.16" x2="820.16" y1="189" y2="327.5"/>
<line x1="820.16" x2="820.16" y1="456" y2="548.4"/>
<line x1="839.69" x2="839.69" y1="146.1" y2="294.6"/>
<line x1="839.69" x2="839.69" y1="432.5" y2="532.1"/>
<line x1="859.22" x2="859.22" y1="114.9" y2="277.1"/>
<line x1="859.22" x2="859.22" y1="426.8" y2="533.6"/>
<line x1="878.75" x2="878.75" y1="85.3" y2="256.9"/>
<line x1="878.75" x2="878.75" y1="417.4" y2="529.9"/>
<line x1="898.28" x2="898.28" y1="73.1" y2="248.8"/>
<line x1="898.28" x2="898.28" y1="413.1" y2="531.9"/>
<line x1="917.82" x2="917.82" y1="62.5" y2="241"/>
<line x1="917.82" x2="917.82" y1="409.3" y2="526.9"/>
<line x1="937.35" x2="937.35" y1="62.7" y2="239.8"/>
<line x1="937.35" x2="937.35" y1="407.2" y2="526.7"/>
<line x1="956.88" x2="956.88" y1="63.3" y2="238.6"/>
<line x1="956.88" x2="956.88" y1="407.6" y2="526.3"/>
<line x1="976.41" x2="976.41" y1="64.9" y2="241.4"/>
<line x1="976.41" x2="976.41" y1="407.2" y2="523.8"/>
<line x1="995.94" x2="995.94" y1="72.7" y2="242"/>
<line x1="995.94" x2="995.94" y1="405.2" y2="523.4"/>
<line x1="1015.47" x2="1015.47" y1="67.8" y2="240"/>
<line x1="1015.47" x2="1015.47" y1="402.9" y2="526.7"/>
<line x1="1035" x2="1035" y1="71.3" y2="238.6"/>
<line x1="1035" x2="1035" y1="401.9" y2="520.8"/>
</g>
<g stroke="#e8c9c4" stroke-width="2.5" fill="none"><line x1="781.1" x2="781.1" y1="280.6" y2="429.5"/><line x1="781.1" x2="781.1" y1="572.5" y2="628.9"/><line x1="800.63" x2="800.63" y1="238.2" y2="364.8"/><line x1="800.63" x2="800.63" y1="498.9" y2="589.3"/><line x1="820.16" x2="820.16" y1="188.3" y2="315.7"/><line x1="820.16" x2="820.16" y1="456" y2="542.6"/><line x1="839.69" x2="839.69" y1="145.4" y2="283.2"/><line x1="839.69" x2="839.69" y1="432.5" y2="524.3"/><line x1="859.22" x2="859.22" y1="114.2" y2="266.3"/><line x1="859.22" x2="859.22" y1="426.8" y2="527.8"/><line x1="878.75" x2="878.75" y1="84.6" y2="245.7"/><line x1="878.75" x2="878.75" y1="417.4" y2="522.9"/><line x1="898.28" x2="898.28" y1="72.4" y2="237.3"/><line x1="898.28" x2="898.28" y1="413.1" y2="523.3"/><line x1="917.82" x2="917.82" y1="61.8" y2="229.6"/><line x1="917.82" x2="917.82" y1="409.3" y2="521.7"/><line x1="937.35" x2="937.35" y1="62" y2="226.5"/><line x1="937.35" x2="937.35" y1="407.2" y2="518.8"/><line x1="956.88" x2="956.88" y1="62.6" y2="226.5"/><line x1="956.88" x2="956.88" y1="407.6" y2="515.6"/><line x1="976.41" x2="976.41" y1="64.2" y2="225.7"/><line x1="976.41" x2="976.41" y1="407.2" y2="514.8"/><line x1="995.94" x2="995.94" y1="72" y2="226.1"/><line x1="995.94" x2="995.94" y1="405.2" y2="514.6"/><line x1="1015.47" x2="1015.47" y1="67.1" y2="226.5"/><line x1="1015.47" x2="1015.47" y1="402.9" y2="511.5"/><line x1="1035" x2="1035" y1="70.6" y2="224.1"/><line x1="1035" x2="1035" y1="401.9" y2="516.2"/></g>
<g stroke="#4f979b" stroke-width="1.5" fill="none"><line x1="781.1" x2="781.1" y1="280.6" y2="429.5"/><line x1="781.1" x2="781.1" y1="572.5" y2="628.9"/><line x1="800.63" x2="800.63" y1="238.2" y2="364.8"/><line x1="800.63" x2="800.63" y1="498.9" y2="589.3"/><line x1="820.16" x2="820.16" y1="188.3" y2="315.7"/><line x1="820.16" x2="820.16" y1="456" y2="542.6"/><line x1="839.69" x2="839.69" y1="145.4" y2="283.2"/><line x1="839.69" x2="839.69" y1="432.5" y2="524.3"/><line x1="859.22" x2="859.22" y1="114.2" y2="266.3"/><line x1="859.22" x2="859.22" y1="426.8" y2="527.8"/><line x1="878.75" x2="878.75" y1="84.6" y2="245.7"/><line x1="878.75" x2="878.75" y1="417.4" y2="522.9"/><line x1="898.28" x2="898.28" y1="72.4" y2="237.3"/><line x1="898.28" x2="898.28" y1="413.1" y2="523.3"/><line x1="917.82" x2="917.82" y1="61.8" y2="229.6"/><line x1="917.82" x2="917.82" y1="409.3" y2="521.7"/><line x1="937.35" x2="937.35" y1="62" y2="226.5"/><line x1="937.35" x2="937.35" y1="407.2" y2="518.8"/><line x1="956.88" x2="956.88" y1="62.6" y2="226.5"/><line x1="956.88" x2="956.88" y1="407.6" y2="515.6"/><line x1="976.41" x2="976.41" y1="64.2" y2="225.7"/><line x1="976.41" x2="976.41" y1="407.2" y2="514.8"/><line x1="995.94" x2="995.94" y1="72" y2="226.1"/><line x1="995.94" x2="995.94" y1="405.2" y2="514.6"/><line x1="1015.47" x2="1015.47" y1="67.1" y2="226.5"/><line x1="1015.47" x2="1015.47" y1="402.9" y2="511.5"/><line x1="1035" x2="1035" y1="70.6" y2="224.1"/><line x1="1035" x2="1035" y1="401.9" y2="516.2"/></g>
<g stroke="rgba(78,192,203,0.85)" stroke-width="1.6" stroke-linejoin="round" fill="none">
<rect x="773.5" y="429.5" width="15.2" height="143"/>
<rect x="793.03" y="373" width="15.2" height="125.9"/>
<rect x="812.56" y="327.5" width="15.2" height="128.5"/>
<rect x="832.09" y="294.6" width="15.2" height="137.9"/>
<rect x="851.62" y="277.1" width="15.2" height="149.7"/>
<rect x="871.15" y="256.9" width="15.2" height="160.5"/>
<rect x="890.68" y="248.8" width="15.2" height="164.3"/>
<rect x="910.22" y="241" width="15.2" height="168.3"/>
<rect x="929.75" y="239.8" width="15.2" height="167.4"/>
<rect x="949.28" y="238.6" width="15.2" height="169"/>
<rect x="968.81" y="241.4" width="15.2" height="165.8"/>
<rect x="988.34" y="242" width="15.2" height="163.2"/>
<rect x="1007.87" y="240" width="15.2" height="162.9"/>
<rect x="1027.4" y="238.6" width="15.2" height="163.3"/>
</g>
<polyline points="781.1,514.2 800.63,432.9 820.16,386 839.69,358.7 859.22,347.9 878.75,333 898.28,325.9 917.82,320.3 937.35,315.5 956.88,316.5 976.41,314.8 995.94,313.2 1015.47,312.4 1035,312.2" fill="none" stroke="#e0493b" stroke-width="2.0" stroke-linejoin="round"/>
<polyline points="781.1,515.6 800.63,439.9 820.16,396 839.69,368.7 859.22,357.3 878.75,342.8 898.28,337.1 917.82,330.5 937.35,328.7 956.88,328.1 976.41,329.7 995.94,329.3 1015.47,325.4 1035,325.2" fill="none" stroke="#5ccbd6" stroke-width="1.6" stroke-linejoin="round"/>
<g fill="#fff">
<circle cx="781.1" cy="514.2" r="2.6"/>
<circle cx="800.63" cy="432.9" r="2.6"/>
<circle cx="820.16" cy="386" r="2.6"/>
<circle cx="839.69" cy="358.7" r="2.6"/>
<circle cx="859.22" cy="347.9" r="2.6"/>
<circle cx="878.75" cy="333" r="2.6"/>
<circle cx="898.28" cy="325.9" r="2.6"/>
<circle cx="917.82" cy="320.3" r="2.6"/>
<circle cx="937.35" cy="315.5" r="2.6"/>
<circle cx="956.88" cy="316.5" r="2.6"/>
<circle cx="976.41" cy="314.8" r="2.6"/>
<circle cx="995.94" cy="313.2" r="2.6"/>
<circle cx="1015.47" cy="312.4" r="2.6"/>
<circle cx="1035" cy="312.2" r="2.6"/>
</g>
<g fill="#fff">
<circle cx="781.1" cy="515.6" r="2.6"/>
<circle cx="800.63" cy="439.9" r="2.6"/>
<circle cx="820.16" cy="396" r="2.6"/>
<circle cx="839.69" cy="368.7" r="2.6"/>
<circle cx="859.22" cy="357.3" r="2.6"/>
<circle cx="878.75" cy="342.8" r="2.6"/>
<circle cx="898.28" cy="337.1" r="2.6"/>
<circle cx="917.82" cy="330.5" r="2.6"/>
<circle cx="937.35" cy="328.7" r="2.6"/>
<circle cx="956.88" cy="328.1" r="2.6"/>
<circle cx="976.41" cy="329.7" r="2.6"/>
<circle cx="995.94" cy="329.3" r="2.6"/>
<circle cx="1015.47" cy="325.4" r="2.6"/>
<circle cx="1035" cy="325.2" r="2.6"/>
</g>
<g stroke="#0a0a0a" stroke-width="1.6" fill="none">
<line x1="768.8" x2="768.8" y1="26.9" y2="634.35"/>
<line x1="766.2" x2="1046.6" y1="633.7" y2="633.7"/>
<line x1="765.2" x2="768.8" y1="27.5" y2="27.5"/>
<line x1="765.2" x2="768.8" y1="88.12" y2="88.12"/>
<line x1="765.2" x2="768.8" y1="148.74" y2="148.74"/>
<line x1="765.2" x2="768.8" y1="209.36" y2="209.36"/>
<line x1="765.2" x2="768.8" y1="269.98" y2="269.98"/>
<line x1="765.2" x2="768.8" y1="330.6" y2="330.6"/>
<line x1="765.2" x2="768.8" y1="391.22" y2="391.22"/>
<line x1="765.2" x2="768.8" y1="451.84" y2="451.84"/>
<line x1="765.2" x2="768.8" y1="512.46" y2="512.46"/>
<line x1="765.2" x2="768.8" y1="573.08" y2="573.08"/>
<line x1="765.2" x2="768.8" y1="633.7" y2="633.7"/>
<line x1="781.1" x2="781.1" y1="633.7" y2="637.5"/>
<line x1="800.63" x2="800.63" y1="633.7" y2="637.5"/>
<line x1="820.16" x2="820.16" y1="633.7" y2="637.5"/>
<line x1="839.69" x2="839.69" y1="633.7" y2="637.5"/>
<line x1="859.22" x2="859.22" y1="633.7" y2="637.5"/>
<line x1="878.75" x2="878.75" y1="633.7" y2="637.5"/>
<line x1="898.28" x2="898.28" y1="633.7" y2="637.5"/>
<line x1="917.82" x2="917.82" y1="633.7" y2="637.5"/>
<line x1="937.35" x2="937.35" y1="633.7" y2="637.5"/>
<line x1="956.88" x2="956.88" y1="633.7" y2="637.5"/>
<line x1="976.41" x2="976.41" y1="633.7" y2="637.5"/>
<line x1="995.94" x2="995.94" y1="633.7" y2="637.5"/>
<line x1="1015.47" x2="1015.47" y1="633.7" y2="637.5"/>
<line x1="1035" x2="1035" y1="633.7" y2="637.5"/>
</g>
<g font-size="10.2" fill="#000" stroke="#000" stroke-width="0.25" text-anchor="end">
<text x="762.8" y="31.7">290.0</text>
<text x="762.8" y="92.32">267.0</text>
<text x="762.8" y="152.94">244.0</text>
<text x="762.8" y="213.56">221.0</text>
<text x="762.8" y="274.18">198.0</text>
<text x="762.8" y="334.8">175.0</text>
<text x="762.8" y="395.42">152.0</text>
<text x="762.8" y="456.04">129.0</text>
<text x="762.8" y="516.66">106.0</text>
<text x="762.8" y="577.28">83.0</text>
<text x="762.8" y="637.9">60.0</text>
</g>
<g font-size="10.2" fill="#000" stroke="#000" stroke-width="0.25" text-anchor="end">
<text transform="translate(785.7,644.3) rotate(-45)">1</text>
<text transform="translate(805.23,644.3) rotate(-45)">2</text>
<text transform="translate(824.76,644.3) rotate(-45)">3</text>
<text transform="translate(844.29,644.3) rotate(-45)">4</text>
<text transform="translate(863.82,644.3) rotate(-45)">5</text>
<text transform="translate(883.35,644.3) rotate(-45)">6</text>
<text transform="translate(902.88,644.3) rotate(-45)">7</text>
<text transform="translate(922.42,644.3) rotate(-45)">8</text>
<text transform="translate(941.95,644.3) rotate(-45)">9</text>
<text transform="translate(961.48,644.3) rotate(-45)">10</text>
<text transform="translate(981.01,644.3) rotate(-45)">11</text>
<text transform="translate(1000.54,644.3) rotate(-45)">12</text>
<text transform="translate(1020.07,644.3) rotate(-45)">13</text>
<text transform="translate(1039.6,644.3) rotate(-45)">14</text>
</g>
<text x="907.4" y="667.4" text-anchor="middle" font-size="13.05" fill="#000" stroke="#000" stroke-width="0.2">Age by days(s)</text>
<text transform="translate(731.3,330.6) rotate(-90)" text-anchor="middle" font-size="12.4" fill="#000" stroke="#000" stroke-width="0.2">μM</text>
<line x1="966.9" x2="966.9" y1="569.6" y2="586.8" stroke="#e1675f" stroke-width="2" stroke-linecap="round"/>
<rect x="958.3" y="572" width="17.2" height="12.4" rx="1.2" fill="#e1675f"/>
<path d="M960.7 575.8H973.1M960.7 580.6H973.1" stroke="#fff" stroke-opacity="0.45" stroke-width="1.6" stroke-dasharray="2.6 0.6" fill="none"/>
<circle cx="966.9" cy="578.2" r="2.4" fill="#fff"/>
<text x="983.3" y="582.2" font-size="10.3" fill="#000" stroke="#000" stroke-width="0.3">Female</text>
<line x1="966.9" x2="966.9" y1="590.05" y2="607.25" stroke="#64bdc6" stroke-width="2" stroke-linecap="round"/>
<rect x="958.3" y="592.45" width="17.2" height="12.4" rx="1.2" fill="#64bdc6"/>
<path d="M960.7 596.25H973.1M960.7 601.05H973.1" stroke="#fff" stroke-opacity="0.45" stroke-width="1.6" stroke-dasharray="2.6 0.6" fill="none"/>
<circle cx="966.9" cy="598.65" r="2.4" fill="#fff"/>
<text x="983.3" y="602.65" font-size="10.3" fill="#000" stroke="#000" stroke-width="0.3">Male</text>
</g>
<g>
<text x="1265.8" y="17.2" text-anchor="middle" font-size="18.8" font-weight="bold" fill="#000" stroke="#000" stroke-width="0.1">ALA</text>
<g stroke="#dd4a3c" stroke-width="2.1" stroke-linecap="round" fill="none">
<line x1="1139" x2="1139" y1="258.3" y2="401.1"/>
<line x1="1139" x2="1139" y1="534.3" y2="631"/>
<line x1="1158.53" x2="1158.53" y1="192.3" y2="369.5"/>
<line x1="1158.53" x2="1158.53" y1="528" y2="632.4"/>
<line x1="1178.06" x2="1178.06" y1="93.4" y2="303.2"/>
<line x1="1178.06" x2="1178.06" y1="490.4" y2="608"/>
<line x1="1197.59" x2="1197.59" y1="37.9" y2="261.2"/>
<line x1="1197.59" x2="1197.59" y1="462.8" y2="591"/>
<line x1="1217.12" x2="1217.12" y1="47.7" y2="257.5"/>
<line x1="1217.12" x2="1217.12" y1="453.8" y2="589.3"/>
<line x1="1236.65" x2="1236.65" y1="68.1" y2="268.3"/>
<line x1="1236.65" x2="1236.65" y1="453.8" y2="589.3"/>
<line x1="1256.18" x2="1256.18" y1="91.4" y2="283.8"/>
<line x1="1256.18" x2="1256.18" y1="460.9" y2="592"/>
<line x1="1275.72" x2="1275.72" y1="104.4" y2="295.1"/>
<line x1="1275.72" x2="1275.72" y1="469.1" y2="599.7"/>
<line x1="1295.25" x2="1295.25" y1="116.4" y2="300.8"/>
<line x1="1295.25" x2="1295.25" y1="472.7" y2="600.1"/>
<line x1="1314.78" x2="1314.78" y1="121.7" y2="304.6"/>
<line x1="1314.78" x2="1314.78" y1="474.3" y2="601.9"/>
<line x1="1334.31" x2="1334.31" y1="127.9" y2="310.6"/>
<line x1="1334.31" x2="1334.31" y1="480" y2="601.1"/>
<line x1="1353.84" x2="1353.84" y1="141.9" y2="324.8"/>
<line x1="1353.84" x2="1353.84" y1="488.8" y2="605.6"/>
<line x1="1373.37" x2="1373.37" y1="156" y2="329.3"/>
<line x1="1373.37" x2="1373.37" y1="488.4" y2="606.6"/>
<line x1="1392.9" x2="1392.9" y1="161.5" y2="332.6"/>
<line x1="1392.9" x2="1392.9" y1="492.6" y2="606.8"/>
</g>
<g stroke="#db4a3d" stroke-width="1.6" stroke-linejoin="round" fill="#f3c5c1">
<rect x="1131.15" y="401.1" width="15.7" height="133.2"/>
<rect x="1150.68" y="369.5" width="15.7" height="158.5"/>
<rect x="1170.21" y="303.2" width="15.7" height="187.2"/>
<rect x="1189.74" y="261.2" width="15.7" height="201.6"/>
<rect x="1209.27" y="257.5" width="15.7" height="196.3"/>
<rect x="1228.8" y="268.3" width="15.7" height="185.5"/>
<rect x="1248.33" y="283.8" width="15.7" height="177.1"/>
<rect x="1267.87" y="295.1" width="15.7" height="174"/>
<rect x="1287.4" y="300.8" width="15.7" height="171.9"/>
<rect x="1306.93" y="304.6" width="15.7" height="169.7"/>
<rect x="1326.46" y="310.6" width="15.7" height="169.4"/>
<rect x="1345.99" y="324.8" width="15.7" height="164"/>
<rect x="1365.52" y="329.3" width="15.7" height="159.1"/>
<rect x="1385.05" y="332.6" width="15.7" height="160"/>
</g>
<g fill="#a4bbbe"><rect x="1131.4" y="407" width="15.2" height="127.3"/><rect x="1150.93" y="383.4" width="15.2" height="144.6"/><rect x="1170.46" y="322" width="15.2" height="168.4"/><rect x="1189.99" y="283.2" width="15.2" height="179.6"/><rect x="1209.52" y="282.2" width="15.2" height="171.6"/><rect x="1229.05" y="291.2" width="15.2" height="162.6"/><rect x="1248.58" y="304.4" width="15.2" height="156.5"/><rect x="1268.12" y="314.4" width="15.2" height="154.7"/><rect x="1287.65" y="321" width="15.2" height="151.7"/><rect x="1307.18" y="324.4" width="15.2" height="149.9"/><rect x="1326.71" y="335.2" width="15.2" height="144.8"/><rect x="1346.24" y="340.7" width="15.2" height="148.1"/><rect x="1365.77" y="339.5" width="15.2" height="148.9"/><rect x="1385.3" y="342.4" width="15.2" height="150.2"/></g>
<g fill="#b6e6e9"><rect x="1131.4" y="534.3" width="15.2" height="5.9"/><rect x="1150.93" y="528" width="15.2" height="8.5"/><rect x="1170.46" y="490.4" width="15.2" height="14"/><rect x="1189.99" y="462.8" width="15.2" height="15.8"/><rect x="1209.52" y="453.8" width="15.2" height="18.3"/><rect x="1229.05" y="453.8" width="15.2" height="18.1"/><rect x="1248.58" y="460.9" width="15.2" height="18.9"/><rect x="1268.12" y="469.1" width="15.2" height="17.8"/><rect x="1287.65" y="472.7" width="15.2" height="16.3"/><rect x="1307.18" y="474.3" width="15.2" height="21"/><rect x="1326.71" y="480" width="15.2" height="21.4"/><rect x="1346.24" y="488.8" width="15.2" height="13"/><rect x="1365.77" y="488.4" width="15.2" height="13.8"/><rect x="1385.3" y="492.6" width="15.2" height="12.2"/></g>
<g stroke="#968a88" stroke-width="1.7" fill="none">
<line x1="1132.1" x2="1145.9" y1="534.3" y2="534.3"/>
<line x1="1139" x2="1139" y1="534.3" y2="539.4" stroke-width="2.1"/>
<line x1="1151.63" x2="1165.43" y1="528" y2="528"/>
<line x1="1158.53" x2="1158.53" y1="528" y2="535.7" stroke-width="2.1"/>
<line x1="1171.16" x2="1184.96" y1="490.4" y2="490.4"/>
<line x1="1178.06" x2="1178.06" y1="490.4" y2="503.6" stroke-width="2.1"/>
<line x1="1190.69" x2="1204.49" y1="462.8" y2="462.8"/>
<line x1="1197.59" x2="1197.59" y1="462.8" y2="477.8" stroke-width="2.1"/>
<line x1="1210.22" x2="1224.02" y1="453.8" y2="453.8"/>
<line x1="1217.12" x2="1217.12" y1="453.8" y2="471.3" stroke-width="2.1"/>
<line x1="1229.75" x2="1243.55" y1="453.8" y2="453.8"/>
<line x1="1236.65" x2="1236.65" y1="453.8" y2="471.1" stroke-width="2.1"/>
<line x1="1249.28" x2="1263.08" y1="460.9" y2="460.9"/>
<line x1="1256.18" x2="1256.18" y1="460.9" y2="479" stroke-width="2.1"/>
<line x1="1268.82" x2="1282.62" y1="469.1" y2="469.1"/>
<line x1="1275.72" x2="1275.72" y1="469.1" y2="486.1" stroke-width="2.1"/>
<line x1="1288.35" x2="1302.15" y1="472.7" y2="472.7"/>
<line x1="1295.25" x2="1295.25" y1="472.7" y2="488.2" stroke-width="2.1"/>
<line x1="1307.88" x2="1321.68" y1="474.3" y2="474.3"/>
<line x1="1314.78" x2="1314.78" y1="474.3" y2="494.5" stroke-width="2.1"/>
<line x1="1327.41" x2="1341.21" y1="480" y2="480"/>
<line x1="1334.31" x2="1334.31" y1="480" y2="500.6" stroke-width="2.1"/>
<line x1="1346.94" x2="1360.74" y1="488.8" y2="488.8"/>
<line x1="1353.84" x2="1353.84" y1="488.8" y2="501" stroke-width="2.1"/>
<line x1="1366.47" x2="1380.27" y1="488.4" y2="488.4"/>
<line x1="1373.37" x2="1373.37" y1="488.4" y2="501.4" stroke-width="2.1"/>
<line x1="1386" x2="1399.8" y1="492.6" y2="492.6"/>
<line x1="1392.9" x2="1392.9" y1="492.6" y2="504" stroke-width="2.1"/>
</g>
<g stroke="#62c4ce" stroke-width="1.5" stroke-linecap="round" fill="none">
<line x1="1139" x2="1139" y1="262.1" y2="407"/>
<line x1="1139" x2="1139" y1="540.2" y2="630.9"/>
<line x1="1158.53" x2="1158.53" y1="211.6" y2="383.4"/>
<line x1="1158.53" x2="1158.53" y1="536.5" y2="632.7"/>
<line x1="1178.06" x2="1178.06" y1="116.3" y2="322"/>
<line x1="1178.06" x2="1178.06" y1="504.4" y2="620.1"/>
<line x1="1197.59" x2="1197.59" y1="66" y2="283.2"/>
<line x1="1197.59" x2="1197.59" y1="478.6" y2="603.5"/>
<line x1="1217.12" x2="1217.12" y1="78.2" y2="282.2"/>
<line x1="1217.12" x2="1217.12" y1="472.1" y2="603.9"/>
<line x1="1236.65" x2="1236.65" y1="96.6" y2="291.2"/>
<line x1="1236.65" x2="1236.65" y1="471.9" y2="603.9"/>
<line x1="1256.18" x2="1256.18" y1="115.5" y2="304.4"/>
<line x1="1256.18" x2="1256.18" y1="479.8" y2="610.4"/>
<line x1="1275.72" x2="1275.72" y1="128.4" y2="314.4"/>
<line x1="1275.72" x2="1275.72" y1="486.9" y2="613.2"/>
<line x1="1295.25" x2="1295.25" y1="138" y2="321"/>
<line x1="1295.25" x2="1295.25" y1="489" y2="617.1"/>
<line x1="1314.78" x2="1314.78" y1="142" y2="324.4"/>
<line x1="1314.78" x2="1314.78" y1="495.3" y2="619.5"/>
<line x1="1334.31" x2="1334.31" y1="152.4" y2="335.2"/>
<line x1="1334.31" x2="1334.31" y1="501.4" y2="619.3"/>
<line x1="1353.84" x2="1353.84" y1="162.2" y2="340.7"/>
<line x1="1353.84" x2="1353.84" y1="501.8" y2="619.5"/>
<line x1="1373.37" x2="1373.37" y1="165.1" y2="339.5"/>
<line x1="1373.37" x2="1373.37" y1="502.2" y2="622.4"/>
<line x1="1392.9" x2="1392.9" y1="162.8" y2="342.4"/>
<line x1="1392.9" x2="1392.9" y1="504.8" y2="622.8"/>
</g>
<g stroke="#e8c9c4" stroke-width="2.5" fill="none"><line x1="1139" x2="1139" y1="261.4" y2="401.1"/><line x1="1139" x2="1139" y1="540.2" y2="631.6"/><line x1="1158.53" x2="1158.53" y1="210.9" y2="369.5"/><line x1="1158.53" x2="1158.53" y1="536.5" y2="633.4"/><line x1="1178.06" x2="1178.06" y1="115.6" y2="303.2"/><line x1="1178.06" x2="1178.06" y1="504.4" y2="609"/><line x1="1197.59" x2="1197.59" y1="65.3" y2="261.2"/><line x1="1197.59" x2="1197.59" y1="478.6" y2="592"/><line x1="1217.12" x2="1217.12" y1="77.5" y2="257.5"/><line x1="1217.12" x2="1217.12" y1="472.1" y2="590.3"/><line x1="1236.65" x2="1236.65" y1="95.9" y2="268.3"/><line x1="1236.65" x2="1236.65" y1="471.9" y2="590.3"/><line x1="1256.18" x2="1256.18" y1="114.8" y2="283.8"/><line x1="1256.18" x2="1256.18" y1="479.8" y2="593"/><line x1="1275.72" x2="1275.72" y1="127.7" y2="295.1"/><line x1="1275.72" x2="1275.72" y1="486.9" y2="600.7"/><line x1="1295.25" x2="1295.25" y1="137.3" y2="300.8"/><line x1="1295.25" x2="1295.25" y1="489" y2="601.1"/><line x1="1314.78" x2="1314.78" y1="141.3" y2="304.6"/><line x1="1314.78" x2="1314.78" y1="495.3" y2="602.9"/><line x1="1334.31" x2="1334.31" y1="151.7" y2="310.6"/><line x1="1334.31" x2="1334.31" y1="501.4" y2="602.1"/><line x1="1353.84" x2="1353.84" y1="161.5" y2="324.8"/><line x1="1353.84" x2="1353.84" y1="501.8" y2="606.6"/><line x1="1373.37" x2="1373.37" y1="164.4" y2="329.3"/><line x1="1373.37" x2="1373.37" y1="502.2" y2="607.6"/><line x1="1392.9" x2="1392.9" y1="162.1" y2="332.6"/><line x1="1392.9" x2="1392.9" y1="504.8" y2="607.8"/></g>
<g stroke="#4f979b" stroke-width="1.5" fill="none"><line x1="1139" x2="1139" y1="261.4" y2="401.1"/><line x1="1139" x2="1139" y1="540.2" y2="631.6"/><line x1="1158.53" x2="1158.53" y1="210.9" y2="369.5"/><line x1="1158.53" x2="1158.53" y1="536.5" y2="633.4"/><line x1="1178.06" x2="1178.06" y1="115.6" y2="303.2"/><line x1="1178.06" x2="1178.06" y1="504.4" y2="609"/><line x1="1197.59" x2="1197.59" y1="65.3" y2="261.2"/><line x1="1197.59" x2="1197.59" y1="478.6" y2="592"/><line x1="1217.12" x2="1217.12" y1="77.5" y2="257.5"/><line x1="1217.12" x2="1217.12" y1="472.1" y2="590.3"/><line x1="1236.65" x2="1236.65" y1="95.9" y2="268.3"/><line x1="1236.65" x2="1236.65" y1="471.9" y2="590.3"/><line x1="1256.18" x2="1256.18" y1="114.8" y2="283.8"/><line x1="1256.18" x2="1256.18" y1="479.8" y2="593"/><line x1="1275.72" x2="1275.72" y1="127.7" y2="295.1"/><line x1="1275.72" x2="1275.72" y1="486.9" y2="600.7"/><line x1="1295.25" x2="1295.25" y1="137.3" y2="300.8"/><line x1="1295.25" x2="1295.25" y1="489" y2="601.1"/><line x1="1314.78" x2="1314.78" y1="141.3" y2="304.6"/><line x1="1314.78" x2="1314.78" y1="495.3" y2="602.9"/><line x1="1334.31" x2="1334.31" y1="151.7" y2="310.6"/><line x1="1334.31" x2="1334.31" y1="501.4" y2="602.1"/><line x1="1353.84" x2="1353.84" y1="161.5" y2="324.8"/><line x1="1353.84" x2="1353.84" y1="501.8" y2="606.6"/><line x1="1373.37" x2="1373.37" y1="164.4" y2="329.3"/><line x1="1373.37" x2="1373.37" y1="502.2" y2="607.6"/><line x1="1392.9" x2="1392.9" y1="162.1" y2="332.6"/><line x1="1392.9" x2="1392.9" y1="504.8" y2="607.8"/></g>
<g stroke="rgba(78,192,203,0.85)" stroke-width="1.6" stroke-linejoin="round" fill="none">
<rect x="1131.4" y="407" width="15.2" height="133.2"/>
<rect x="1150.93" y="383.4" width="15.2" height="153.1"/>
<rect x="1170.46" y="322" width="15.2" height="182.4"/>
<rect x="1189.99" y="283.2" width="15.2" height="195.4"/>
<rect x="1209.52" y="282.2" width="15.2" height="189.9"/>
<rect x="1229.05" y="291.2" width="15.2" height="180.7"/>
<rect x="1248.58" y="304.4" width="15.2" height="175.4"/>
<rect x="1268.12" y="314.4" width="15.2" height="172.5"/>
<rect x="1287.65" y="321" width="15.2" height="168"/>
<rect x="1307.18" y="324.4" width="15.2" height="170.9"/>
<rect x="1326.71" y="335.2" width="15.2" height="166.2"/>
<rect x="1346.24" y="340.7" width="15.2" height="161.1"/>
<rect x="1365.77" y="339.5" width="15.2" height="162.7"/>
<rect x="1385.3" y="342.4" width="15.2" height="162.4"/>
</g>
<polyline points="1139,473.7 1158.53,457.2 1178.06,406.4 1197.59,371.1 1217.12,362.4 1236.65,367.1 1256.18,377.7 1275.72,387.9 1295.25,392.8 1314.78,393.6 1334.31,401.1 1353.84,412.1 1373.37,415.6 1392.9,418" fill="none" stroke="#e0493b" stroke-width="2.0" stroke-linejoin="round"/>
<polyline points="1139,479.6 1158.53,467.8 1178.06,422.3 1197.59,390.5 1217.12,384.6 1236.65,386.8 1256.18,396.8 1275.72,406.6 1295.25,411.1 1314.78,414.8 1334.31,423.3 1353.84,426 1373.37,427 1392.9,430.1" fill="none" stroke="#5ccbd6" stroke-width="1.6" stroke-linejoin="round"/>
<g fill="#fff">
<circle cx="1139" cy="473.7" r="2.6"/>
<circle cx="1158.53" cy="457.2" r="2.6"/>
<circle cx="1178.06" cy="406.4" r="2.6"/>
<circle cx="1197.59" cy="371.1" r="2.6"/>
<circle cx="1217.12" cy="362.4" r="2.6"/>
<circle cx="1236.65" cy="367.1" r="2.6"/>
<circle cx="1256.18" cy="377.7" r="2.6"/>
<circle cx="1275.72" cy="387.9" r="2.6"/>
<circle cx="1295.25" cy="392.8" r="2.6"/>
<circle cx="1314.78" cy="393.6" r="2.6"/>
<circle cx="1334.31" cy="401.1" r="2.6"/>
<circle cx="1353.84" cy="412.1" r="2.6"/>
<circle cx="1373.37" cy="415.6" r="2.6"/>
<circle cx="1392.9" cy="418" r="2.6"/>
</g>
<g fill="#fff">
<circle cx="1139" cy="479.6" r="2.6"/>
<circle cx="1158.53" cy="467.8" r="2.6"/>
<circle cx="1178.06" cy="422.3" r="2.6"/>
<circle cx="1197.59" cy="390.5" r="2.6"/>
<circle cx="1217.12" cy="384.6" r="2.6"/>
<circle cx="1236.65" cy="386.8" r="2.6"/>
<circle cx="1256.18" cy="396.8" r="2.6"/>
<circle cx="1275.72" cy="406.6" r="2.6"/>
<circle cx="1295.25" cy="411.1" r="2.6"/>
<circle cx="1314.78" cy="414.8" r="2.6"/>
<circle cx="1334.31" cy="423.3" r="2.6"/>
<circle cx="1353.84" cy="426" r="2.6"/>
<circle cx="1373.37" cy="427" r="2.6"/>
<circle cx="1392.9" cy="430.1" r="2.6"/>
</g>
<g stroke="#0a0a0a" stroke-width="1.6" fill="none">
<line x1="1127.2" x2="1127.2" y1="26.9" y2="634.35"/>
<line x1="1124.6" x2="1404.4" y1="633.7" y2="633.7"/>
<line x1="1123.6" x2="1127.2" y1="27.5" y2="27.5"/>
<line x1="1123.6" x2="1127.2" y1="88.12" y2="88.12"/>
<line x1="1123.6" x2="1127.2" y1="148.74" y2="148.74"/>
<line x1="1123.6" x2="1127.2" y1="209.36" y2="209.36"/>
<line x1="1123.6" x2="1127.2" y1="269.98" y2="269.98"/>
<line x1="1123.6" x2="1127.2" y1="330.6" y2="330.6"/>
<line x1="1123.6" x2="1127.2" y1="391.22" y2="391.22"/>
<line x1="1123.6" x2="1127.2" y1="451.84" y2="451.84"/>
<line x1="1123.6" x2="1127.2" y1="512.46" y2="512.46"/>
<line x1="1123.6" x2="1127.2" y1="573.08" y2="573.08"/>
<line x1="1123.6" x2="1127.2" y1="633.7" y2="633.7"/>
<line x1="1139" x2="1139" y1="633.7" y2="637.5"/>
<line x1="1158.53" x2="1158.53" y1="633.7" y2="637.5"/>
<line x1="1178.06" x2="1178.06" y1="633.7" y2="637.5"/>
<line x1="1197.59" x2="1197.59" y1="633.7" y2="637.5"/>
<line x1="1217.12" x2="1217.12" y1="633.7" y2="637.5"/>
<line x1="1236.65" x2="1236.65" y1="633.7" y2="637.5"/>
<line x1="1256.18" x2="1256.18" y1="633.7" y2="637.5"/>
<line x1="1275.72" x2="1275.72" y1="633.7" y2="637.5"/>
<line x1="1295.25" x2="1295.25" y1="633.7" y2="637.5"/>
<line x1="1314.78" x2="1314.78" y1="633.7" y2="637.5"/>
<line x1="1334.31" x2="1334.31" y1="633.7" y2="637.5"/>
<line x1="1353.84" x2="1353.84" y1="633.7" y2="637.5"/>
<line x1="1373.37" x2="1373.37" y1="633.7" y2="637.5"/>
<line x1="1392.9" x2="1392.9" y1="633.7" y2="637.5"/>
</g>
<g font-size="10.2" fill="#000" stroke="#000" stroke-width="0.25" text-anchor="end">
<text x="1121.2" y="31.7">550.0</text>
<text x="1121.2" y="92.32">512.0</text>
<text x="1121.2" y="152.94">474.0</text>
<text x="1121.2" y="213.56">436.0</text>
<text x="1121.2" y="274.18">398.0</text>
<text x="1121.2" y="334.8">360.0</text>
<text x="1121.2" y="395.42">322.0</text>
<text x="1121.2" y="456.04">284.0</text>
<text x="1121.2" y="516.66">246.0</text>
<text x="1121.2" y="577.28">208.0</text>
<text x="1121.2" y="637.9">170.0</text>
</g>
<g font-size="10.2" fill="#000" stroke="#000" stroke-width="0.25" text-anchor="end">
<text transform="translate(1143.6,644.3) rotate(-45)">1</text>
<text transform="translate(1163.13,644.3) rotate(-45)">2</text>
<text transform="translate(1182.66,644.3) rotate(-45)">3</text>
<text transform="translate(1202.19,644.3) rotate(-45)">4</text>
<text transform="translate(1221.72,644.3) rotate(-45)">5</text>
<text transform="translate(1241.25,644.3) rotate(-45)">6</text>
<text transform="translate(1260.78,644.3) rotate(-45)">7</text>
<text transform="translate(1280.32,644.3) rotate(-45)">8</text>
<text transform="translate(1299.85,644.3) rotate(-45)">9</text>
<text transform="translate(1319.38,644.3) rotate(-45)">10</text>
<text transform="translate(1338.91,644.3) rotate(-45)">11</text>
<text transform="translate(1358.44,644.3) rotate(-45)">12</text>
<text transform="translate(1377.97,644.3) rotate(-45)">13</text>
<text transform="translate(1397.5,644.3) rotate(-45)">14</text>
</g>
<text x="1265.8" y="667.4" text-anchor="middle" font-size="13.05" fill="#000" stroke="#000" stroke-width="0.2">Age by days(s)</text>
<text transform="translate(1089.7,330.6) rotate(-90)" text-anchor="middle" font-size="12.4" fill="#000" stroke="#000" stroke-width="0.2">μM</text>
<line x1="1322.8" x2="1322.8" y1="29" y2="46.2" stroke="#e1675f" stroke-width="2" stroke-linecap="round"/>
<rect x="1314.2" y="31.4" width="17.2" height="12.4" rx="1.2" fill="#e1675f"/>
<path d="M1316.6 35.2H1329M1316.6 40H1329" stroke="#fff" stroke-opacity="0.45" stroke-width="1.6" stroke-dasharray="2.6 0.6" fill="none"/>
<circle cx="1322.8" cy="37.6" r="2.4" fill="#fff"/>
<text x="1339.2" y="41.6" font-size="10.3" fill="#000" stroke="#000" stroke-width="0.3">Female</text>
<line x1="1322.8" x2="1322.8" y1="49.45" y2="66.65" stroke="#64bdc6" stroke-width="2" stroke-linecap="round"/>
<rect x="1314.2" y="51.85" width="17.2" height="12.4" rx="1.2" fill="#64bdc6"/>
<path d="M1316.6 55.65H1329M1316.6 60.45H1329" stroke="#fff" stroke-opacity="0.45" stroke-width="1.6" stroke-dasharray="2.6 0.6" fill="none"/>
<circle cx="1322.8" cy="58.05" r="2.4" fill="#fff"/>
<text x="1339.2" y="62.05" font-size="10.3" fill="#000" stroke="#000" stroke-width="0.3">Male</text>
</g>
<g>
<text x="1627.2" y="17.2" text-anchor="middle" font-size="18.8" font-weight="bold" fill="#000" stroke="#000" stroke-width="0.1">ORN</text>
<g stroke="#dd4a3c" stroke-width="2.1" stroke-linecap="round" fill="none">
<line x1="1500.2" x2="1500.2" y1="282.2" y2="435.6"/>
<line x1="1500.2" x2="1500.2" y1="561.3" y2="620.8"/>
<line x1="1519.74" x2="1519.74" y1="201.9" y2="376.6"/>
<line x1="1519.74" x2="1519.74" y1="518.8" y2="600.1"/>
<line x1="1539.28" x2="1539.28" y1="90.7" y2="287.9"/>
<line x1="1539.28" x2="1539.28" y1="456" y2="558.9"/>
<line x1="1558.82" x2="1558.82" y1="36.7" y2="245.3"/>
<line x1="1558.82" x2="1558.82" y1="424.8" y2="537.1"/>
<line x1="1578.35" x2="1578.35" y1="56.1" y2="255.7"/>
<line x1="1578.35" x2="1578.35" y1="428.4" y2="540.6"/>
<line x1="1597.89" x2="1597.89" y1="72" y2="267.5"/>
<line x1="1597.89" x2="1597.89" y1="437.8" y2="546.1"/>
<line x1="1617.43" x2="1617.43" y1="96" y2="284.9"/>
<line x1="1617.43" x2="1617.43" y1="448" y2="555.2"/>
<line x1="1636.97" x2="1636.97" y1="110.1" y2="295.1"/>
<line x1="1636.97" x2="1636.97" y1="454.6" y2="557.9"/>
<line x1="1656.51" x2="1656.51" y1="109.5" y2="292.4"/>
<line x1="1656.51" x2="1656.51" y1="452.1" y2="555.2"/>
<line x1="1676.05" x2="1676.05" y1="112.8" y2="292"/>
<line x1="1676.05" x2="1676.05" y1="448.4" y2="552.2"/>
<line x1="1695.58" x2="1695.58" y1="106.6" y2="288.3"/>
<line x1="1695.58" x2="1695.58" y1="446" y2="550.1"/>
<line x1="1715.12" x2="1715.12" y1="113.6" y2="290"/>
<line x1="1715.12" x2="1715.12" y1="443.3" y2="551.1"/>
<line x1="1734.66" x2="1734.66" y1="98.3" y2="278.3"/>
<line x1="1734.66" x2="1734.66" y1="433.7" y2="539.2"/>
<line x1="1754.2" x2="1754.2" y1="104.4" y2="276.7"/>
<line x1="1754.2" x2="1754.2" y1="429.7" y2="538.6"/>
</g>
<g stroke="#db4a3d" stroke-width="1.6" stroke-linejoin="round" fill="#f3c5c1">
<rect x="1492.35" y="435.6" width="15.7" height="125.7"/>
<rect x="1511.89" y="376.6" width="15.7" height="142.2"/>
<rect x="1531.43" y="287.9" width="15.7" height="168.1"/>
<rect x="1550.97" y="245.3" width="15.7" height="179.5"/>
<rect x="1570.5" y="255.7" width="15.7" height="172.7"/>
<rect x="1590.04" y="267.5" width="15.7" height="170.3"/>
<rect x="1609.58" y="284.9" width="15.7" height="163.1"/>
<rect x="1629.12" y="295.1" width="15.7" height="159.5"/>
<rect x="1648.66" y="292.4" width="15.7" height="159.7"/>
<rect x="1668.2" y="292" width="15.7" height="156.4"/>
<rect x="1687.73" y="288.3" width="15.7" height="157.7"/>
<rect x="1707.27" y="290" width="15.7" height="153.3"/>
<rect x="1726.81" y="278.3" width="15.7" height="155.4"/>
<rect x="1746.35" y="276.7" width="15.7" height="153"/>
</g>
<g fill="#a4bbbe"><rect x="1492.6" y="435.6" width="15.2" height="122.6"/><rect x="1512.14" y="376.6" width="15.2" height="140.2"/><rect x="1531.68" y="287.9" width="15.2" height="168.1"/><rect x="1551.22" y="246.7" width="15.2" height="178.1"/><rect x="1570.75" y="257.3" width="15.2" height="171.1"/><rect x="1590.29" y="267.5" width="15.2" height="170.3"/><rect x="1609.83" y="285.9" width="15.2" height="162.1"/><rect x="1629.37" y="295.1" width="15.2" height="156.4"/><rect x="1648.91" y="292.4" width="15.2" height="159.7"/><rect x="1668.45" y="292" width="15.2" height="156.4"/><rect x="1687.98" y="288.3" width="15.2" height="157.7"/><rect x="1707.52" y="290" width="15.2" height="151.9"/><rect x="1727.06" y="278.3" width="15.2" height="155.4"/><rect x="1746.6" y="276.7" width="15.2" height="153"/></g>
<g fill="#b6e6e9"><rect x="1492.6" y="426" width="15.2" height="9.6"/><rect x="1512.14" y="374.6" width="15.2" height="2"/><rect x="1531.68" y="284.9" width="15.2" height="3"/><rect x="1531.68" y="456" width="15.2" height="1.6"/><rect x="1551.22" y="424.8" width="15.2" height="4.3"/><rect x="1570.75" y="428.4" width="15.2" height="3.7"/><rect x="1590.29" y="437.8" width="15.2" height="2.5"/><rect x="1609.83" y="448" width="15.2" height="3.1"/><rect x="1629.37" y="290.8" width="15.2" height="4.3"/><rect x="1648.91" y="290.6" width="15.2" height="1.8"/><rect x="1668.45" y="448.4" width="15.2" height="1.1"/><rect x="1687.98" y="285.5" width="15.2" height="2.8"/><rect x="1707.52" y="283.6" width="15.2" height="6.4"/><rect x="1727.06" y="276.5" width="15.2" height="1.8"/><rect x="1727.06" y="433.7" width="15.2" height="3.5"/><rect x="1746.6" y="275.9" width="15.2" height="0.8"/><rect x="1746.6" y="429.7" width="15.2" height="3.4"/></g>
<g stroke="#968a88" stroke-width="1.7" fill="none">
<line x1="1493.3" x2="1507.1" y1="435.6" y2="435.6"/>
<line x1="1500.2" x2="1500.2" y1="426.8" y2="435.6" stroke-width="2.1"/>
<line x1="1512.84" x2="1526.64" y1="376.6" y2="376.6"/>
<line x1="1519.74" x2="1519.74" y1="375.4" y2="376.6" stroke-width="2.1"/>
<line x1="1532.38" x2="1546.18" y1="456" y2="456"/>
<line x1="1539.28" x2="1539.28" y1="456" y2="456.8" stroke-width="2.1"/>
<line x1="1532.38" x2="1546.18" y1="287.9" y2="287.9"/>
<line x1="1539.28" x2="1539.28" y1="285.7" y2="287.9" stroke-width="2.1"/>
<line x1="1551.92" x2="1565.72" y1="424.8" y2="424.8"/>
<line x1="1558.82" x2="1558.82" y1="424.8" y2="428.3" stroke-width="2.1"/>
<line x1="1571.45" x2="1585.25" y1="428.4" y2="428.4"/>
<line x1="1578.35" x2="1578.35" y1="428.4" y2="431.3" stroke-width="2.1"/>
<line x1="1590.99" x2="1604.79" y1="437.8" y2="437.8"/>
<line x1="1597.89" x2="1597.89" y1="437.8" y2="439.5" stroke-width="2.1"/>
<line x1="1610.53" x2="1624.33" y1="448" y2="448"/>
<line x1="1617.43" x2="1617.43" y1="448" y2="450.3" stroke-width="2.1"/>
<line x1="1630.07" x2="1643.87" y1="295.1" y2="295.1"/>
<line x1="1636.97" x2="1636.97" y1="291.6" y2="295.1" stroke-width="2.1"/>
<line x1="1649.61" x2="1663.41" y1="292.4" y2="292.4"/>
<line x1="1656.51" x2="1656.51" y1="291.4" y2="292.4" stroke-width="2.1"/>
<line x1="1688.68" x2="1702.48" y1="288.3" y2="288.3"/>
<line x1="1695.58" x2="1695.58" y1="286.3" y2="288.3" stroke-width="2.1"/>
<line x1="1708.22" x2="1722.02" y1="290" y2="290"/>
<line x1="1715.12" x2="1715.12" y1="284.4" y2="290" stroke-width="2.1"/>
<line x1="1727.76" x2="1741.56" y1="433.7" y2="433.7"/>
<line x1="1734.66" x2="1734.66" y1="433.7" y2="436.4" stroke-width="2.1"/>
<line x1="1727.76" x2="1741.56" y1="278.3" y2="278.3"/>
<line x1="1734.66" x2="1734.66" y1="277.3" y2="278.3" stroke-width="2.1"/>
<line x1="1747.3" x2="1761.1" y1="429.7" y2="429.7"/>
<line x1="1754.2" x2="1754.2" y1="429.7" y2="432.3" stroke-width="2.1"/>
</g>
<g stroke="#62c4ce" stroke-width="1.5" stroke-linecap="round" fill="none">
<line x1="1500.2" x2="1500.2" y1="267" y2="426"/>
<line x1="1500.2" x2="1500.2" y1="558.2" y2="622.8"/>
<line x1="1519.74" x2="1519.74" y1="198.9" y2="374.6"/>
<line x1="1519.74" x2="1519.74" y1="516.8" y2="598.8"/>
<line x1="1539.28" x2="1539.28" y1="79.2" y2="284.9"/>
<line x1="1539.28" x2="1539.28" y1="457.6" y2="561.8"/>
<line x1="1558.82" x2="1558.82" y1="32.3" y2="246.7"/>
<line x1="1558.82" x2="1558.82" y1="429.1" y2="540.9"/>
<line x1="1578.35" x2="1578.35" y1="56.8" y2="257.3"/>
<line x1="1578.35" x2="1578.35" y1="432.1" y2="544.5"/>
<line x1="1597.89" x2="1597.89" y1="68" y2="267.3"/>
<line x1="1597.89" x2="1597.89" y1="440.3" y2="551"/>
<line x1="1617.43" x2="1617.43" y1="95.1" y2="285.9"/>
<line x1="1617.43" x2="1617.43" y1="451.1" y2="559.2"/>
<line x1="1636.97" x2="1636.97" y1="104.1" y2="290.8"/>
<line x1="1636.97" x2="1636.97" y1="451.5" y2="560.8"/>
<line x1="1656.51" x2="1656.51" y1="108.2" y2="290.6"/>
<line x1="1656.51" x2="1656.51" y1="452.1" y2="563.6"/>
<line x1="1676.05" x2="1676.05" y1="110.4" y2="291.8"/>
<line x1="1676.05" x2="1676.05" y1="449.5" y2="557.7"/>
<line x1="1695.58" x2="1695.58" y1="98.2" y2="285.5"/>
<line x1="1695.58" x2="1695.58" y1="446" y2="555.5"/>
<line x1="1715.12" x2="1715.12" y1="99.4" y2="283.6"/>
<line x1="1715.12" x2="1715.12" y1="441.9" y2="551.4"/>
<line x1="1734.66" x2="1734.66" y1="93.1" y2="276.5"/>
<line x1="1734.66" x2="1734.66" y1="437.2" y2="546"/>
<line x1="1754.2" x2="1754.2" y1="94.5" y2="275.9"/>
<line x1="1754.2" x2="1754.2" y1="433.1" y2="542.3"/>
</g>
<g stroke="#e8c9c4" stroke-width="2.5" fill="none"><line x1="1500.2" x2="1500.2" y1="281.2" y2="426"/><line x1="1500.2" x2="1500.2" y1="561.3" y2="621.8"/><line x1="1519.74" x2="1519.74" y1="200.9" y2="374.6"/><line x1="1519.74" x2="1519.74" y1="518.8" y2="599.5"/><line x1="1539.28" x2="1539.28" y1="89.7" y2="284.9"/><line x1="1539.28" x2="1539.28" y1="457.6" y2="559.9"/><line x1="1558.82" x2="1558.82" y1="35.7" y2="245.3"/><line x1="1558.82" x2="1558.82" y1="429.1" y2="538.1"/><line x1="1578.35" x2="1578.35" y1="56.1" y2="255.7"/><line x1="1578.35" x2="1578.35" y1="432.1" y2="541.6"/><line x1="1597.89" x2="1597.89" y1="71" y2="267.3"/><line x1="1597.89" x2="1597.89" y1="440.3" y2="547.1"/><line x1="1617.43" x2="1617.43" y1="95" y2="284.9"/><line x1="1617.43" x2="1617.43" y1="451.1" y2="556.2"/><line x1="1636.97" x2="1636.97" y1="109.1" y2="290.8"/><line x1="1636.97" x2="1636.97" y1="454.6" y2="558.9"/><line x1="1656.51" x2="1656.51" y1="108.5" y2="290.6"/><line x1="1656.51" x2="1656.51" y1="452.1" y2="556.2"/><line x1="1676.05" x2="1676.05" y1="111.8" y2="291.8"/><line x1="1676.05" x2="1676.05" y1="449.5" y2="553.2"/><line x1="1695.58" x2="1695.58" y1="105.6" y2="285.5"/><line x1="1695.58" x2="1695.58" y1="446" y2="551.1"/><line x1="1715.12" x2="1715.12" y1="112.6" y2="283.6"/><line x1="1715.12" x2="1715.12" y1="443.3" y2="552.1"/><line x1="1734.66" x2="1734.66" y1="97.3" y2="276.5"/><line x1="1734.66" x2="1734.66" y1="437.2" y2="540.2"/><line x1="1754.2" x2="1754.2" y1="103.4" y2="275.9"/><line x1="1754.2" x2="1754.2" y1="433.1" y2="539.6"/></g>
<g stroke="#4f979b" stroke-width="1.5" fill="none"><line x1="1500.2" x2="1500.2" y1="281.2" y2="426"/><line x1="1500.2" x2="1500.2" y1="561.3" y2="621.8"/><line x1="1519.74" x2="1519.74" y1="200.9" y2="374.6"/><line x1="1519.74" x2="1519.74" y1="518.8" y2="599.5"/><line x1="1539.28" x2="1539.28" y1="89.7" y2="284.9"/><line x1="1539.28" x2="1539.28" y1="457.6" y2="559.9"/><line x1="1558.82" x2="1558.82" y1="35.7" y2="245.3"/><line x1="1558.82" x2="1558.82" y1="429.1" y2="538.1"/><line x1="1578.35" x2="1578.35" y1="56.1" y2="255.7"/><line x1="1578.35" x2="1578.35" y1="432.1" y2="541.6"/><line x1="1597.89" x2="1597.89" y1="71" y2="267.3"/><line x1="1597.89" x2="1597.89" y1="440.3" y2="547.1"/><line x1="1617.43" x2="1617.43" y1="95" y2="284.9"/><line x1="1617.43" x2="1617.43" y1="451.1" y2="556.2"/><line x1="1636.97" x2="1636.97" y1="109.1" y2="290.8"/><line x1="1636.97" x2="1636.97" y1="454.6" y2="558.9"/><line x1="1656.51" x2="1656.51" y1="108.5" y2="290.6"/><line x1="1656.51" x2="1656.51" y1="452.1" y2="556.2"/><line x1="1676.05" x2="1676.05" y1="111.8" y2="291.8"/><line x1="1676.05" x2="1676.05" y1="449.5" y2="553.2"/><line x1="1695.58" x2="1695.58" y1="105.6" y2="285.5"/><line x1="1695.58" x2="1695.58" y1="446" y2="551.1"/><line x1="1715.12" x2="1715.12" y1="112.6" y2="283.6"/><line x1="1715.12" x2="1715.12" y1="443.3" y2="552.1"/><line x1="1734.66" x2="1734.66" y1="97.3" y2="276.5"/><line x1="1734.66" x2="1734.66" y1="437.2" y2="540.2"/><line x1="1754.2" x2="1754.2" y1="103.4" y2="275.9"/><line x1="1754.2" x2="1754.2" y1="433.1" y2="539.6"/></g>
<g stroke="rgba(78,192,203,0.85)" stroke-width="1.6" stroke-linejoin="round" fill="none">
<rect x="1492.6" y="426" width="15.2" height="132.2"/>
<rect x="1512.14" y="374.6" width="15.2" height="142.2"/>
<rect x="1531.68" y="284.9" width="15.2" height="172.7"/>
<rect x="1551.22" y="246.7" width="15.2" height="182.4"/>
<rect x="1570.75" y="257.3" width="15.2" height="174.8"/>
<rect x="1590.29" y="267.3" width="15.2" height="173"/>
<rect x="1609.83" y="285.9" width="15.2" height="165.2"/>
<rect x="1629.37" y="290.8" width="15.2" height="160.7"/>
<rect x="1648.91" y="290.6" width="15.2" height="161.5"/>
<rect x="1668.45" y="291.8" width="15.2" height="157.7"/>
<rect x="1687.98" y="285.5" width="15.2" height="160.5"/>
<rect x="1707.52" y="283.6" width="15.2" height="158.3"/>
<rect x="1727.06" y="276.5" width="15.2" height="160.7"/>
<rect x="1746.6" y="275.9" width="15.2" height="157.2"/>
</g>
<polyline points="1500.2,505 1519.74,456 1539.28,381.7 1558.82,345.4 1578.35,350.9 1597.89,361.1 1617.43,376.4 1636.97,381.1 1656.51,378.5 1676.05,377.7 1695.58,375 1715.12,373.4 1734.66,363.8 1754.2,360.1" fill="none" stroke="#e0493b" stroke-width="2.0" stroke-linejoin="round"/>
<polyline points="1500.2,509.1 1519.74,456 1539.28,381.7 1558.82,348.5 1578.35,354.6 1597.89,362.4 1617.43,376.4 1636.97,379.7 1656.51,378.5 1676.05,378.9 1695.58,374.6 1715.12,371.3 1734.66,363.8 1754.2,361.1" fill="none" stroke="#5ccbd6" stroke-width="1.6" stroke-linejoin="round"/>
<g fill="#fff">
<circle cx="1500.2" cy="505" r="2.6"/>
<circle cx="1519.74" cy="456" r="2.6"/>
<circle cx="1539.28" cy="381.7" r="2.6"/>
<circle cx="1558.82" cy="345.4" r="2.6"/>
<circle cx="1578.35" cy="350.9" r="2.6"/>
<circle cx="1597.89" cy="361.1" r="2.6"/>
<circle cx="1617.43" cy="376.4" r="2.6"/>
<circle cx="1636.97" cy="381.1" r="2.6"/>
<circle cx="1656.51" cy="378.5" r="2.6"/>
<circle cx="1676.05" cy="377.7" r="2.6"/>
<circle cx="1695.58" cy="375" r="2.6"/>
<circle cx="1715.12" cy="373.4" r="2.6"/>
<circle cx="1734.66" cy="363.8" r="2.6"/>
<circle cx="1754.2" cy="360.1" r="2.6"/>
</g>
<g fill="#fff">
<circle cx="1500.2" cy="509.1" r="2.6"/>
<circle cx="1519.74" cy="456" r="2.6"/>
<circle cx="1539.28" cy="381.7" r="2.6"/>
<circle cx="1558.82" cy="348.5" r="2.6"/>
<circle cx="1578.35" cy="354.6" r="2.6"/>
<circle cx="1597.89" cy="362.4" r="2.6"/>
<circle cx="1617.43" cy="376.4" r="2.6"/>
<circle cx="1636.97" cy="379.7" r="2.6"/>
<circle cx="1656.51" cy="378.5" r="2.6"/>
<circle cx="1676.05" cy="378.9" r="2.6"/>
<circle cx="1695.58" cy="374.6" r="2.6"/>
<circle cx="1715.12" cy="371.3" r="2.6"/>
<circle cx="1734.66" cy="363.8" r="2.6"/>
<circle cx="1754.2" cy="361.1" r="2.6"/>
</g>
<g stroke="#0a0a0a" stroke-width="1.6" fill="none">
<line x1="1488.3" x2="1488.3" y1="26.9" y2="634.35"/>
<line x1="1485.7" x2="1765.9" y1="633.7" y2="633.7"/>
<line x1="1484.7" x2="1488.3" y1="27.5" y2="27.5"/>
<line x1="1484.7" x2="1488.3" y1="88.12" y2="88.12"/>
<line x1="1484.7" x2="1488.3" y1="148.74" y2="148.74"/>
<line x1="1484.7" x2="1488.3" y1="209.36" y2="209.36"/>
<line x1="1484.7" x2="1488.3" y1="269.98" y2="269.98"/>
<line x1="1484.7" x2="1488.3" y1="330.6" y2="330.6"/>
<line x1="1484.7" x2="1488.3" y1="391.22" y2="391.22"/>
<line x1="1484.7" x2="1488.3" y1="451.84" y2="451.84"/>
<line x1="1484.7" x2="1488.3" y1="512.46" y2="512.46"/>
<line x1="1484.7" x2="1488.3" y1="573.08" y2="573.08"/>
<line x1="1484.7" x2="1488.3" y1="633.7" y2="633.7"/>
<line x1="1500.2" x2="1500.2" y1="633.7" y2="637.5"/>
<line x1="1519.74" x2="1519.74" y1="633.7" y2="637.5"/>
<line x1="1539.28" x2="1539.28" y1="633.7" y2="637.5"/>
<line x1="1558.82" x2="1558.82" y1="633.7" y2="637.5"/>
<line x1="1578.35" x2="1578.35" y1="633.7" y2="637.5"/>
<line x1="1597.89" x2="1597.89" y1="633.7" y2="637.5"/>
<line x1="1617.43" x2="1617.43" y1="633.7" y2="637.5"/>
<line x1="1636.97" x2="1636.97" y1="633.7" y2="637.5"/>
<line x1="1656.51" x2="1656.51" y1="633.7" y2="637.5"/>
<line x1="1676.05" x2="1676.05" y1="633.7" y2="637.5"/>
<line x1="1695.58" x2="1695.58" y1="633.7" y2="637.5"/>
<line x1="1715.12" x2="1715.12" y1="633.7" y2="637.5"/>
<line x1="1734.66" x2="1734.66" y1="633.7" y2="637.5"/>
<line x1="1754.2" x2="1754.2" y1="633.7" y2="637.5"/>
</g>
<g font-size="10.2" fill="#000" stroke="#000" stroke-width="0.25" text-anchor="end">
<text x="1482.3" y="31.7">220.0</text>
<text x="1482.3" y="92.32">202.0</text>
<text x="1482.3" y="152.94">184.0</text>
<text x="1482.3" y="213.56">166.0</text>
<text x="1482.3" y="274.18">148.0</text>
<text x="1482.3" y="334.8">130.0</text>
<text x="1482.3" y="395.42">112.0</text>
<text x="1482.3" y="456.04">94.0</text>
<text x="1482.3" y="516.66">76.0</text>
<text x="1482.3" y="577.28">58.0</text>
<text x="1482.3" y="637.9">40.0</text>
</g>
<g font-size="10.2" fill="#000" stroke="#000" stroke-width="0.25" text-anchor="end">
<text transform="translate(1504.8,644.3) rotate(-45)">1</text>
<text transform="translate(1524.34,644.3) rotate(-45)">2</text>
<text transform="translate(1543.88,644.3) rotate(-45)">3</text>
<text transform="translate(1563.42,644.3) rotate(-45)">4</text>
<text transform="translate(1582.95,644.3) rotate(-45)">5</text>
<text transform="translate(1602.49,644.3) rotate(-45)">6</text>
<text transform="translate(1622.03,644.3) rotate(-45)">7</text>
<text transform="translate(1641.57,644.3) rotate(-45)">8</text>
<text transform="translate(1661.11,644.3) rotate(-45)">9</text>
<text transform="translate(1680.65,644.3) rotate(-45)">10</text>
<text transform="translate(1700.18,644.3) rotate(-45)">11</text>
<text transform="translate(1719.72,644.3) rotate(-45)">12</text>
<text transform="translate(1739.26,644.3) rotate(-45)">13</text>
<text transform="translate(1758.8,644.3) rotate(-45)">14</text>
</g>
<text x="1626.9" y="667.4" text-anchor="middle" font-size="13.05" fill="#000" stroke="#000" stroke-width="0.2">Age by days(s)</text>
<text transform="translate(1450.8,330.6) rotate(-90)" text-anchor="middle" font-size="12.4" fill="#000" stroke="#000" stroke-width="0.2">μM</text>
<line x1="1678.2" x2="1678.2" y1="29" y2="46.2" stroke="#e1675f" stroke-width="2" stroke-linecap="round"/>
<rect x="1669.6" y="31.4" width="17.2" height="12.4" rx="1.2" fill="#e1675f"/>
<path d="M1672 35.2H1684.4M1672 40H1684.4" stroke="#fff" stroke-opacity="0.45" stroke-width="1.6" stroke-dasharray="2.6 0.6" fill="none"/>
<circle cx="1678.2" cy="37.6" r="2.4" fill="#fff"/>
<text x="1694.6" y="41.6" font-size="10.3" fill="#000" stroke="#000" stroke-width="0.3">Female</text>
<line x1="1678.2" x2="1678.2" y1="49.45" y2="66.65" stroke="#64bdc6" stroke-width="2" stroke-linecap="round"/>
<rect x="1669.6" y="51.85" width="17.2" height="12.4" rx="1.2" fill="#64bdc6"/>
<path d="M1672 55.65H1684.4M1672 60.45H1684.4" stroke="#fff" stroke-opacity="0.45" stroke-width="1.6" stroke-dasharray="2.6 0.6" fill="none"/>
<circle cx="1678.2" cy="58.05" r="2.4" fill="#fff"/>
<text x="1694.6" y="62.05" font-size="10.3" fill="#000" stroke="#000" stroke-width="0.3">Male</text>
</g>
<g>
<text x="188.7" y="717.1" text-anchor="middle" font-size="18.8" font-weight="bold" fill="#000" stroke="#000" stroke-width="0.1">TYR</text>
<g stroke="#dd4a3c" stroke-width="2.1" stroke-linecap="round" fill="none">
<line x1="62" x2="62" y1="922.3" y2="1092.8"/>
<line x1="62" x2="62" y1="1241.9" y2="1328.6"/>
<line x1="81.52" x2="81.52" y1="875.8" y2="1062.2"/>
<line x1="81.52" x2="81.52" y1="1225.6" y2="1325.8"/>
<line x1="101.03" x2="101.03" y1="817.3" y2="1019.9"/>
<line x1="101.03" x2="101.03" y1="1197.6" y2="1306.3"/>
<line x1="120.55" x2="120.55" y1="755.5" y2="978.5"/>
<line x1="120.55" x2="120.55" y1="1172.6" y2="1291.6"/>
<line x1="140.06" x2="140.06" y1="737.3" y2="971"/>
<line x1="140.06" x2="140.06" y1="1175.8" y2="1299.8"/>
<line x1="159.58" x2="159.58" y1="745.9" y2="976.7"/>
<line x1="159.58" x2="159.58" y1="1179.3" y2="1306.9"/>
<line x1="179.09" x2="179.09" y1="776.9" y2="994"/>
<line x1="179.09" x2="179.09" y1="1187.4" y2="1313.6"/>
<line x1="198.61" x2="198.61" y1="806.9" y2="1010.8"/>
<line x1="198.61" x2="198.61" y1="1195.1" y2="1318.1"/>
<line x1="218.12" x2="218.12" y1="834" y2="1026.1"/>
<line x1="218.12" x2="218.12" y1="1198.4" y2="1318.5"/>
<line x1="237.64" x2="237.64" y1="854.6" y2="1034.2"/>
<line x1="237.64" x2="237.64" y1="1200.6" y2="1315"/>
<line x1="257.15" x2="257.15" y1="860.3" y2="1035.2"/>
<line x1="257.15" x2="257.15" y1="1200.4" y2="1316"/>
<line x1="276.67" x2="276.67" y1="866.2" y2="1039.9"/>
<line x1="276.67" x2="276.67" y1="1202.2" y2="1313"/>
<line x1="296.18" x2="296.18" y1="869.9" y2="1039.1"/>
<line x1="296.18" x2="296.18" y1="1195.5" y2="1310.9"/>
<line x1="315.7" x2="315.7" y1="863.8" y2="1037.7"/>
<line x1="315.7" x2="315.7" y1="1195.7" y2="1312"/>
</g>
<g stroke="#db4a3d" stroke-width="1.6" stroke-linejoin="round" fill="#f3c5c1">
<rect x="54.15" y="1092.8" width="15.7" height="149.1"/>
<rect x="73.67" y="1062.2" width="15.7" height="163.4"/>
<rect x="93.18" y="1019.9" width="15.7" height="177.7"/>
<rect x="112.7" y="978.5" width="15.7" height="194.1"/>
<rect x="132.21" y="971" width="15.7" height="204.8"/>
<rect x="151.73" y="976.7" width="15.7" height="202.6"/>
<rect x="171.24" y="994" width="15.7" height="193.4"/>
<rect x="190.76" y="1010.8" width="15.7" height="184.3"/>
<rect x="210.27" y="1026.1" width="15.7" height="172.3"/>
<rect x="229.79" y="1034.2" width="15.7" height="166.4"/>
<rect x="249.3" y="1035.2" width="15.7" height="165.2"/>
<rect x="268.82" y="1039.9" width="15.7" height="162.3"/>
<rect x="288.33" y="1039.1" width="15.7" height="156.4"/>
<rect x="307.85" y="1037.7" width="15.7" height="158"/>
</g>
<g fill="#a4bbbe"><rect x="54.4" y="1092.8" width="15.2" height="145"/><rect x="73.92" y="1063.8" width="15.2" height="161.8"/><rect x="93.43" y="1025" width="15.2" height="172.6"/><rect x="112.95" y="991.8" width="15.2" height="180.8"/><rect x="132.46" y="991.4" width="15.2" height="184.4"/><rect x="151.98" y="999.5" width="15.2" height="179.8"/><rect x="171.49" y="1015.2" width="15.2" height="172.2"/><rect x="191.01" y="1032" width="15.2" height="163.1"/><rect x="210.52" y="1047.9" width="15.2" height="150.5"/><rect x="230.04" y="1060.3" width="15.2" height="140.3"/><rect x="249.55" y="1064.4" width="15.2" height="136"/><rect x="269.07" y="1069.9" width="15.2" height="132.3"/><rect x="288.58" y="1067.7" width="15.2" height="127.8"/><rect x="308.1" y="1069.5" width="15.2" height="126.2"/></g>
<g fill="#b6e6e9"><rect x="54.4" y="1089.7" width="15.2" height="3.1"/><rect x="73.92" y="1225.6" width="15.2" height="1.4"/><rect x="93.43" y="1197.6" width="15.2" height="4.6"/><rect x="112.95" y="1172.6" width="15.2" height="9.3"/><rect x="132.46" y="1175.8" width="15.2" height="11.4"/><rect x="151.98" y="1179.3" width="15.2" height="13.8"/><rect x="171.49" y="1187.4" width="15.2" height="15.9"/><rect x="191.01" y="1195.1" width="15.2" height="16.3"/><rect x="210.52" y="1198.4" width="15.2" height="18.9"/><rect x="230.04" y="1200.6" width="15.2" height="18.3"/><rect x="249.55" y="1200.4" width="15.2" height="18.9"/><rect x="269.07" y="1202.2" width="15.2" height="17.1"/><rect x="288.58" y="1195.5" width="15.2" height="20.1"/><rect x="308.1" y="1195.7" width="15.2" height="21"/></g>
<g stroke="#968a88" stroke-width="1.7" fill="none">
<line x1="55.1" x2="68.9" y1="1092.8" y2="1092.8"/>
<line x1="62" x2="62" y1="1090.5" y2="1092.8" stroke-width="2.1"/>
<line x1="74.62" x2="88.42" y1="1225.6" y2="1225.6"/>
<line x1="81.52" x2="81.52" y1="1225.6" y2="1226.2" stroke-width="2.1"/>
<line x1="94.13" x2="107.93" y1="1197.6" y2="1197.6"/>
<line x1="101.03" x2="101.03" y1="1197.6" y2="1201.4" stroke-width="2.1"/>
<line x1="113.65" x2="127.45" y1="1172.6" y2="1172.6"/>
<line x1="120.55" x2="120.55" y1="1172.6" y2="1181.1" stroke-width="2.1"/>
<line x1="133.16" x2="146.96" y1="1175.8" y2="1175.8"/>
<line x1="140.06" x2="140.06" y1="1175.8" y2="1186.4" stroke-width="2.1"/>
<line x1="152.68" x2="166.48" y1="1179.3" y2="1179.3"/>
<line x1="159.58" x2="159.58" y1="1179.3" y2="1192.3" stroke-width="2.1"/>
<line x1="172.19" x2="185.99" y1="1187.4" y2="1187.4"/>
<line x1="179.09" x2="179.09" y1="1187.4" y2="1202.5" stroke-width="2.1"/>
<line x1="191.71" x2="205.51" y1="1195.1" y2="1195.1"/>
<line x1="198.61" x2="198.61" y1="1195.1" y2="1210.6" stroke-width="2.1"/>
<line x1="211.22" x2="225.02" y1="1198.4" y2="1198.4"/>
<line x1="218.12" x2="218.12" y1="1198.4" y2="1216.5" stroke-width="2.1"/>
<line x1="230.74" x2="244.54" y1="1200.6" y2="1200.6"/>
<line x1="237.64" x2="237.64" y1="1200.6" y2="1218.1" stroke-width="2.1"/>
<line x1="250.25" x2="264.05" y1="1200.4" y2="1200.4"/>
<line x1="257.15" x2="257.15" y1="1200.4" y2="1218.5" stroke-width="2.1"/>
<line x1="269.77" x2="283.57" y1="1202.2" y2="1202.2"/>
<line x1="276.67" x2="276.67" y1="1202.2" y2="1218.5" stroke-width="2.1"/>
<line x1="289.28" x2="303.08" y1="1195.5" y2="1195.5"/>
<line x1="296.18" x2="296.18" y1="1195.5" y2="1214.8" stroke-width="2.1"/>
<line x1="308.8" x2="322.6" y1="1195.7" y2="1195.7"/>
<line x1="315.7" x2="315.7" y1="1195.7" y2="1215.9" stroke-width="2.1"/>
</g>
<g stroke="#62c4ce" stroke-width="1.5" stroke-linecap="round" fill="none">
<line x1="62" x2="62" y1="914.2" y2="1089.7"/>
<line x1="62" x2="62" y1="1237.8" y2="1326.5"/>
<line x1="81.52" x2="81.52" y1="876.1" y2="1063.8"/>
<line x1="81.52" x2="81.52" y1="1227" y2="1326.5"/>
<line x1="101.03" x2="101.03" y1="820.6" y2="1025"/>
<line x1="101.03" x2="101.03" y1="1202.2" y2="1310.8"/>
<line x1="120.55" x2="120.55" y1="772.1" y2="991.8"/>
<line x1="120.55" x2="120.55" y1="1181.9" y2="1298"/>
<line x1="140.06" x2="140.06" y1="767.4" y2="991.4"/>
<line x1="140.06" x2="140.06" y1="1187.2" y2="1307.8"/>
<line x1="159.58" x2="159.58" y1="776.2" y2="999.5"/>
<line x1="159.58" x2="159.58" y1="1193.1" y2="1314.9"/>
<line x1="179.09" x2="179.09" y1="801.5" y2="1015.2"/>
<line x1="179.09" x2="179.09" y1="1203.3" y2="1323"/>
<line x1="198.61" x2="198.61" y1="837.4" y2="1032"/>
<line x1="198.61" x2="198.61" y1="1211.4" y2="1328.9"/>
<line x1="218.12" x2="218.12" y1="858.8" y2="1047.9"/>
<line x1="218.12" x2="218.12" y1="1217.3" y2="1329.5"/>
<line x1="237.64" x2="237.64" y1="886.3" y2="1060.3"/>
<line x1="237.64" x2="237.64" y1="1218.9" y2="1328.9"/>
<line x1="257.15" x2="257.15" y1="895.1" y2="1064.4"/>
<line x1="257.15" x2="257.15" y1="1219.3" y2="1328.9"/>
<line x1="276.67" x2="276.67" y1="904.7" y2="1069.9"/>
<line x1="276.67" x2="276.67" y1="1219.3" y2="1324.5"/>
<line x1="296.18" x2="296.18" y1="912.8" y2="1067.7"/>
<line x1="296.18" x2="296.18" y1="1215.6" y2="1325.5"/>
<line x1="315.7" x2="315.7" y1="913.8" y2="1069.5"/>
<line x1="315.7" x2="315.7" y1="1216.7" y2="1325.9"/>
</g>
<g stroke="#e8c9c4" stroke-width="2.5" fill="none"><line x1="62" x2="62" y1="921.3" y2="1089.7"/><line x1="62" x2="62" y1="1241.9" y2="1327.2"/><line x1="81.52" x2="81.52" y1="875.4" y2="1062.2"/><line x1="81.52" x2="81.52" y1="1227" y2="1326.8"/><line x1="101.03" x2="101.03" y1="819.9" y2="1019.9"/><line x1="101.03" x2="101.03" y1="1202.2" y2="1307.3"/><line x1="120.55" x2="120.55" y1="771.4" y2="978.5"/><line x1="120.55" x2="120.55" y1="1181.9" y2="1292.6"/><line x1="140.06" x2="140.06" y1="766.7" y2="971"/><line x1="140.06" x2="140.06" y1="1187.2" y2="1300.8"/><line x1="159.58" x2="159.58" y1="775.5" y2="976.7"/><line x1="159.58" x2="159.58" y1="1193.1" y2="1307.9"/><line x1="179.09" x2="179.09" y1="800.8" y2="994"/><line x1="179.09" x2="179.09" y1="1203.3" y2="1314.6"/><line x1="198.61" x2="198.61" y1="836.7" y2="1010.8"/><line x1="198.61" x2="198.61" y1="1211.4" y2="1319.1"/><line x1="218.12" x2="218.12" y1="858.1" y2="1026.1"/><line x1="218.12" x2="218.12" y1="1217.3" y2="1319.5"/><line x1="237.64" x2="237.64" y1="885.6" y2="1034.2"/><line x1="237.64" x2="237.64" y1="1218.9" y2="1316"/><line x1="257.15" x2="257.15" y1="894.4" y2="1035.2"/><line x1="257.15" x2="257.15" y1="1219.3" y2="1317"/><line x1="276.67" x2="276.67" y1="904" y2="1039.9"/><line x1="276.67" x2="276.67" y1="1219.3" y2="1314"/><line x1="296.18" x2="296.18" y1="912.1" y2="1039.1"/><line x1="296.18" x2="296.18" y1="1215.6" y2="1311.9"/><line x1="315.7" x2="315.7" y1="913.1" y2="1037.7"/><line x1="315.7" x2="315.7" y1="1216.7" y2="1313"/></g>
<g stroke="#4f979b" stroke-width="1.5" fill="none"><line x1="62" x2="62" y1="921.3" y2="1089.7"/><line x1="62" x2="62" y1="1241.9" y2="1327.2"/><line x1="81.52" x2="81.52" y1="875.4" y2="1062.2"/><line x1="81.52" x2="81.52" y1="1227" y2="1326.8"/><line x1="101.03" x2="101.03" y1="819.9" y2="1019.9"/><line x1="101.03" x2="101.03" y1="1202.2" y2="1307.3"/><line x1="120.55" x2="120.55" y1="771.4" y2="978.5"/><line x1="120.55" x2="120.55" y1="1181.9" y2="1292.6"/><line x1="140.06" x2="140.06" y1="766.7" y2="971"/><line x1="140.06" x2="140.06" y1="1187.2" y2="1300.8"/><line x1="159.58" x2="159.58" y1="775.5" y2="976.7"/><line x1="159.58" x2="159.58" y1="1193.1" y2="1307.9"/><line x1="179.09" x2="179.09" y1="800.8" y2="994"/><line x1="179.09" x2="179.09" y1="1203.3" y2="1314.6"/><line x1="198.61" x2="198.61" y1="836.7" y2="1010.8"/><line x1="198.61" x2="198.61" y1="1211.4" y2="1319.1"/><line x1="218.12" x2="218.12" y1="858.1" y2="1026.1"/><line x1="218.12" x2="218.12" y1="1217.3" y2="1319.5"/><line x1="237.64" x2="237.64" y1="885.6" y2="1034.2"/><line x1="237.64" x2="237.64" y1="1218.9" y2="1316"/><line x1="257.15" x2="257.15" y1="894.4" y2="1035.2"/><line x1="257.15" x2="257.15" y1="1219.3" y2="1317"/><line x1="276.67" x2="276.67" y1="904" y2="1039.9"/><line x1="276.67" x2="276.67" y1="1219.3" y2="1314"/><line x1="296.18" x2="296.18" y1="912.1" y2="1039.1"/><line x1="296.18" x2="296.18" y1="1215.6" y2="1311.9"/><line x1="315.7" x2="315.7" y1="913.1" y2="1037.7"/><line x1="315.7" x2="315.7" y1="1216.7" y2="1313"/></g>
<g stroke="rgba(78,192,203,0.85)" stroke-width="1.6" stroke-linejoin="round" fill="none">
<rect x="54.4" y="1089.7" width="15.2" height="148.1"/>
<rect x="73.92" y="1063.8" width="15.2" height="163.2"/>
<rect x="93.43" y="1025" width="15.2" height="177.2"/>
<rect x="112.95" y="991.8" width="15.2" height="190.1"/>
<rect x="132.46" y="991.4" width="15.2" height="195.8"/>
<rect x="151.98" y="999.5" width="15.2" height="193.6"/>
<rect x="171.49" y="1015.2" width="15.2" height="188.1"/>
<rect x="191.01" y="1032" width="15.2" height="179.4"/>
<rect x="210.52" y="1047.9" width="15.2" height="169.4"/>
<rect x="230.04" y="1060.3" width="15.2" height="158.6"/>
<rect x="249.55" y="1064.4" width="15.2" height="154.9"/>
<rect x="269.07" y="1069.9" width="15.2" height="149.4"/>
<rect x="288.58" y="1067.7" width="15.2" height="147.9"/>
<rect x="308.1" y="1069.5" width="15.2" height="147.2"/>
</g>
<polyline points="62,1174.9 81.52,1153.5 101.03,1118.2 120.55,1085.6 140.06,1084.2 159.58,1087.7 179.09,1099.1 198.61,1110.3 218.12,1117.2 237.64,1123.1 257.15,1127 276.67,1128.2 296.18,1123.3 315.7,1121.1" fill="none" stroke="#e0493b" stroke-width="2.0" stroke-linejoin="round"/>
<polyline points="62,1172.3 81.52,1154.1 101.03,1123.3 120.55,1097.4 140.06,1100.5 159.58,1106.6 179.09,1118.2 198.61,1127.8 218.12,1140.3 237.64,1146.2 257.15,1147.2 276.67,1151.1 296.18,1146.8 315.7,1148" fill="none" stroke="#5ccbd6" stroke-width="1.6" stroke-linejoin="round"/>
<g fill="#fff">
<circle cx="62" cy="1174.9" r="2.6"/>
<circle cx="81.52" cy="1153.5" r="2.6"/>
<circle cx="101.03" cy="1118.2" r="2.6"/>
<circle cx="120.55" cy="1085.6" r="2.6"/>
<circle cx="140.06" cy="1084.2" r="2.6"/>
<circle cx="159.58" cy="1087.7" r="2.6"/>
<circle cx="179.09" cy="1099.1" r="2.6"/>
<circle cx="198.61" cy="1110.3" r="2.6"/>
<circle cx="218.12" cy="1117.2" r="2.6"/>
<circle cx="237.64" cy="1123.1" r="2.6"/>
<circle cx="257.15" cy="1127" r="2.6"/>
<circle cx="276.67" cy="1128.2" r="2.6"/>
<circle cx="296.18" cy="1123.3" r="2.6"/>
<circle cx="315.7" cy="1121.1" r="2.6"/>
</g>
<g fill="#fff">
<circle cx="62" cy="1172.3" r="2.6"/>
<circle cx="81.52" cy="1154.1" r="2.6"/>
<circle cx="101.03" cy="1123.3" r="2.6"/>
<circle cx="120.55" cy="1097.4" r="2.6"/>
<circle cx="140.06" cy="1100.5" r="2.6"/>
<circle cx="159.58" cy="1106.6" r="2.6"/>
<circle cx="179.09" cy="1118.2" r="2.6"/>
<circle cx="198.61" cy="1127.8" r="2.6"/>
<circle cx="218.12" cy="1140.3" r="2.6"/>
<circle cx="237.64" cy="1146.2" r="2.6"/>
<circle cx="257.15" cy="1147.2" r="2.6"/>
<circle cx="276.67" cy="1151.1" r="2.6"/>
<circle cx="296.18" cy="1146.8" r="2.6"/>
<circle cx="315.7" cy="1148" r="2.6"/>
</g>
<g stroke="#0a0a0a" stroke-width="1.6" fill="none">
<line x1="50" x2="50" y1="726.8" y2="1334.25"/>
<line x1="47.4" x2="327.5" y1="1333.6" y2="1333.6"/>
<line x1="46.4" x2="50" y1="727.4" y2="727.4"/>
<line x1="46.4" x2="50" y1="777.92" y2="777.92"/>
<line x1="46.4" x2="50" y1="828.43" y2="828.43"/>
<line x1="46.4" x2="50" y1="878.95" y2="878.95"/>
<line x1="46.4" x2="50" y1="929.47" y2="929.47"/>
<line x1="46.4" x2="50" y1="979.98" y2="979.98"/>
<line x1="46.4" x2="50" y1="1030.5" y2="1030.5"/>
<line x1="46.4" x2="50" y1="1081.02" y2="1081.02"/>
<line x1="46.4" x2="50" y1="1131.53" y2="1131.53"/>
<line x1="46.4" x2="50" y1="1182.05" y2="1182.05"/>
<line x1="46.4" x2="50" y1="1232.57" y2="1232.57"/>
<line x1="46.4" x2="50" y1="1283.08" y2="1283.08"/>
<line x1="46.4" x2="50" y1="1333.6" y2="1333.6"/>
<line x1="62" x2="62" y1="1333.6" y2="1337.4"/>
<line x1="81.52" x2="81.52" y1="1333.6" y2="1337.4"/>
<line x1="101.03" x2="101.03" y1="1333.6" y2="1337.4"/>
<line x1="120.55" x2="120.55" y1="1333.6" y2="1337.4"/>
<line x1="140.06" x2="140.06" y1="1333.6" y2="1337.4"/>
<line x1="159.58" x2="159.58" y1="1333.6" y2="1337.4"/>
<line x1="179.09" x2="179.09" y1="1333.6" y2="1337.4"/>
<line x1="198.61" x2="198.61" y1="1333.6" y2="1337.4"/>
<line x1="218.12" x2="218.12" y1="1333.6" y2="1337.4"/>
<line x1="237.64" x2="237.64" y1="1333.6" y2="1337.4"/>
<line x1="257.15" x2="257.15" y1="1333.6" y2="1337.4"/>
<line x1="276.67" x2="276.67" y1="1333.6" y2="1337.4"/>
<line x1="296.18" x2="296.18" y1="1333.6" y2="1337.4"/>
<line x1="315.7" x2="315.7" y1="1333.6" y2="1337.4"/>
</g>
<g font-size="10.2" fill="#000" stroke="#000" stroke-width="0.25" text-anchor="end">
<text x="44" y="731.6">200.0</text>
<text x="44" y="782.12">187.0</text>
<text x="44" y="832.63">174.0</text>
<text x="44" y="883.15">161.0</text>
<text x="44" y="933.67">148.0</text>
<text x="44" y="984.18">135.0</text>
<text x="44" y="1034.7">122.0</text>
<text x="44" y="1085.22">109.0</text>
<text x="44" y="1135.73">96.0</text>
<text x="44" y="1186.25">83.0</text>
<text x="44" y="1236.77">70.0</text>
<text x="44" y="1287.28">57.0</text>
<text x="44" y="1337.8">44.0</text>
</g>
<g font-size="10.2" fill="#000" stroke="#000" stroke-width="0.25" text-anchor="end">
<text transform="translate(66.6,1344.2) rotate(-45)">1</text>
<text transform="translate(86.12,1344.2) rotate(-45)">2</text>
<text transform="translate(105.63,1344.2) rotate(-45)">3</text>
<text transform="translate(125.15,1344.2) rotate(-45)">4</text>
<text transform="translate(144.66,1344.2) rotate(-45)">5</text>
<text transform="translate(164.18,1344.2) rotate(-45)">6</text>
<text transform="translate(183.69,1344.2) rotate(-45)">7</text>
<text transform="translate(203.21,1344.2) rotate(-45)">8</text>
<text transform="translate(222.72,1344.2) rotate(-45)">9</text>
<text transform="translate(242.24,1344.2) rotate(-45)">10</text>
<text transform="translate(261.75,1344.2) rotate(-45)">11</text>
<text transform="translate(281.27,1344.2) rotate(-45)">12</text>
<text transform="translate(300.78,1344.2) rotate(-45)">13</text>
<text transform="translate(320.3,1344.2) rotate(-45)">14</text>
</g>
<text x="188.6" y="1367.3" text-anchor="middle" font-size="13.05" fill="#000" stroke="#000" stroke-width="0.2">Age by days(s)</text>
<text transform="translate(12.5,1030.5) rotate(-90)" text-anchor="middle" font-size="12.4" fill="#000" stroke="#000" stroke-width="0.2">μM</text>
<line x1="256.2" x2="256.2" y1="713.7" y2="730.9" stroke="#e1675f" stroke-width="2" stroke-linecap="round"/>
<rect x="247.6" y="716.1" width="17.2" height="12.4" rx="1.2" fill="#e1675f"/>
<path d="M250 719.9H262.4M250 724.7H262.4" stroke="#fff" stroke-opacity="0.45" stroke-width="1.6" stroke-dasharray="2.6 0.6" fill="none"/>
<circle cx="256.2" cy="722.3" r="2.4" fill="#fff"/>
<text x="272.6" y="726.3" font-size="10.3" fill="#000" stroke="#000" stroke-width="0.3">Female</text>
<line x1="256.2" x2="256.2" y1="734.15" y2="751.35" stroke="#64bdc6" stroke-width="2" stroke-linecap="round"/>
<rect x="247.6" y="736.55" width="17.2" height="12.4" rx="1.2" fill="#64bdc6"/>
<path d="M250 740.35H262.4M250 745.15H262.4" stroke="#fff" stroke-opacity="0.45" stroke-width="1.6" stroke-dasharray="2.6 0.6" fill="none"/>
<circle cx="256.2" cy="742.75" r="2.4" fill="#fff"/>
<text x="272.6" y="746.75" font-size="10.3" fill="#000" stroke="#000" stroke-width="0.3">Male</text>
</g>
<g>
<text x="549.5" y="717.1" text-anchor="middle" font-size="18.8" font-weight="bold" fill="#000" stroke="#000" stroke-width="0.1">ARG</text>
<g stroke="#dd4a3c" stroke-width="2.1" stroke-linecap="round" fill="none">
<line x1="420.1" x2="420.1" y1="1041.3" y2="1161.9"/>
<line x1="420.1" x2="420.1" y1="1267.3" y2="1309.9"/>
<line x1="440.02" x2="440.02" y1="995.4" y2="1146.4"/>
<line x1="440.02" x2="440.02" y1="1274" y2="1311.4"/>
<line x1="459.95" x2="459.95" y1="975.5" y2="1132.1"/>
<line x1="459.95" x2="459.95" y1="1267.3" y2="1309.9"/>
<line x1="479.87" x2="479.87" y1="930.9" y2="1106.6"/>
<line x1="479.87" x2="479.87" y1="1258.1" y2="1307.9"/>
<line x1="499.79" x2="499.79" y1="883.9" y2="1078.5"/>
<line x1="499.79" x2="499.79" y1="1249.4" y2="1307.9"/>
<line x1="519.72" x2="519.72" y1="891.5" y2="1080.7"/>
<line x1="519.72" x2="519.72" y1="1248.6" y2="1307.9"/>
<line x1="539.64" x2="539.64" y1="893.9" y2="1082.6"/>
<line x1="539.64" x2="539.64" y1="1250.2" y2="1308.5"/>
<line x1="559.56" x2="559.56" y1="891.7" y2="1081.3"/>
<line x1="559.56" x2="559.56" y1="1248.8" y2="1309.1"/>
<line x1="579.48" x2="579.48" y1="873.5" y2="1070.5"/>
<line x1="579.48" x2="579.48" y1="1245.3" y2="1308.3"/>
<line x1="599.41" x2="599.41" y1="858" y2="1060.5"/>
<line x1="599.41" x2="599.41" y1="1239" y2="1307.1"/>
<line x1="619.33" x2="619.33" y1="834.6" y2="1044.8"/>
<line x1="619.33" x2="619.33" y1="1233.3" y2="1304.2"/>
<line x1="639.25" x2="639.25" y1="816.2" y2="1032"/>
<line x1="639.25" x2="639.25" y1="1224.2" y2="1302.8"/>
<line x1="659.18" x2="659.18" y1="793.2" y2="1016.3"/>
<line x1="659.18" x2="659.18" y1="1218.7" y2="1301.4"/>
<line x1="679.1" x2="679.1" y1="771.4" y2="1000.8"/>
<line x1="679.1" x2="679.1" y1="1210.8" y2="1299.8"/>
</g>
<g stroke="#db4a3d" stroke-width="1.6" stroke-linejoin="round" fill="#f3c5c1">
<rect x="412.25" y="1161.9" width="15.7" height="105.4"/>
<rect x="432.17" y="1146.4" width="15.7" height="127.6"/>
<rect x="452.1" y="1132.1" width="15.7" height="135.2"/>
<rect x="472.02" y="1106.6" width="15.7" height="151.5"/>
<rect x="491.94" y="1078.5" width="15.7" height="170.9"/>
<rect x="511.87" y="1080.7" width="15.7" height="167.9"/>
<rect x="531.79" y="1082.6" width="15.7" height="167.6"/>
<rect x="551.71" y="1081.3" width="15.7" height="167.5"/>
<rect x="571.63" y="1070.5" width="15.7" height="174.8"/>
<rect x="591.56" y="1060.5" width="15.7" height="178.5"/>
<rect x="611.48" y="1044.8" width="15.7" height="188.5"/>
<rect x="631.4" y="1032" width="15.7" height="192.2"/>
<rect x="651.33" y="1016.3" width="15.7" height="202.4"/>
<rect x="671.25" y="1000.8" width="15.7" height="210"/>
</g>
<g fill="#a4bbbe"><rect x="412.5" y="1161.9" width="15.2" height="99.9"/><rect x="432.42" y="1146.4" width="15.2" height="121.3"/><rect x="452.35" y="1132.1" width="15.2" height="129.1"/><rect x="472.27" y="1106.6" width="15.2" height="144.8"/><rect x="492.19" y="1078.5" width="15.2" height="164"/><rect x="512.12" y="1080.7" width="15.2" height="159.7"/><rect x="532.04" y="1082.6" width="15.2" height="159.9"/><rect x="551.96" y="1081.3" width="15.2" height="159.1"/><rect x="571.88" y="1070.5" width="15.2" height="168.5"/><rect x="591.81" y="1060.5" width="15.2" height="170.4"/><rect x="611.73" y="1044.8" width="15.2" height="179.4"/><rect x="631.65" y="1032" width="15.2" height="182"/><rect x="651.58" y="1016.3" width="15.2" height="190.6"/><rect x="671.5" y="1000.8" width="15.2" height="200.4"/></g>
<g fill="#b6e6e9"><rect x="412.5" y="1143.9" width="15.2" height="18"/><rect x="432.42" y="1132.7" width="15.2" height="13.7"/><rect x="452.35" y="1117.2" width="15.2" height="14.9"/><rect x="472.27" y="1093.4" width="15.2" height="13.2"/><rect x="492.19" y="1067.1" width="15.2" height="11.4"/><rect x="512.12" y="1065.6" width="15.2" height="15.1"/><rect x="532.04" y="1065.8" width="15.2" height="16.8"/><rect x="551.96" y="1062.4" width="15.2" height="18.9"/><rect x="571.88" y="1054.8" width="15.2" height="15.7"/><rect x="591.81" y="1043.8" width="15.2" height="16.7"/><rect x="611.73" y="1026.1" width="15.2" height="18.7"/><rect x="631.65" y="1007.1" width="15.2" height="24.9"/><rect x="651.58" y="993" width="15.2" height="23.3"/><rect x="671.5" y="981" width="15.2" height="19.8"/></g>
<g stroke="#968a88" stroke-width="1.7" fill="none">
<line x1="413.2" x2="427" y1="1161.9" y2="1161.9"/>
<line x1="420.1" x2="420.1" y1="1144.7" y2="1161.9" stroke-width="2.1"/>
<line x1="433.12" x2="446.92" y1="1146.4" y2="1146.4"/>
<line x1="440.02" x2="440.02" y1="1133.5" y2="1146.4" stroke-width="2.1"/>
<line x1="453.05" x2="466.85" y1="1132.1" y2="1132.1"/>
<line x1="459.95" x2="459.95" y1="1118" y2="1132.1" stroke-width="2.1"/>
<line x1="472.97" x2="486.77" y1="1106.6" y2="1106.6"/>
<line x1="479.87" x2="479.87" y1="1094.2" y2="1106.6" stroke-width="2.1"/>
<line x1="492.89" x2="506.69" y1="1078.5" y2="1078.5"/>
<line x1="499.79" x2="499.79" y1="1067.9" y2="1078.5" stroke-width="2.1"/>
<line x1="512.82" x2="526.62" y1="1080.7" y2="1080.7"/>
<line x1="519.72" x2="519.72" y1="1066.4" y2="1080.7" stroke-width="2.1"/>
<line x1="532.74" x2="546.54" y1="1082.6" y2="1082.6"/>
<line x1="539.64" x2="539.64" y1="1066.6" y2="1082.6" stroke-width="2.1"/>
<line x1="552.66" x2="566.46" y1="1081.3" y2="1081.3"/>
<line x1="559.56" x2="559.56" y1="1063.2" y2="1081.3" stroke-width="2.1"/>
<line x1="572.58" x2="586.38" y1="1070.5" y2="1070.5"/>
<line x1="579.48" x2="579.48" y1="1055.6" y2="1070.5" stroke-width="2.1"/>
<line x1="592.51" x2="606.31" y1="1060.5" y2="1060.5"/>
<line x1="599.41" x2="599.41" y1="1044.6" y2="1060.5" stroke-width="2.1"/>
<line x1="612.43" x2="626.23" y1="1044.8" y2="1044.8"/>
<line x1="619.33" x2="619.33" y1="1026.9" y2="1044.8" stroke-width="2.1"/>
<line x1="632.35" x2="646.15" y1="1032" y2="1032"/>
<line x1="639.25" x2="639.25" y1="1007.9" y2="1032" stroke-width="2.1"/>
<line x1="652.28" x2="666.08" y1="1016.3" y2="1016.3"/>
<line x1="659.18" x2="659.18" y1="993.8" y2="1016.3" stroke-width="2.1"/>
<line x1="672.2" x2="686" y1="1000.8" y2="1000.8"/>
<line x1="679.1" x2="679.1" y1="981.8" y2="1000.8" stroke-width="2.1"/>
</g>
<g stroke="#62c4ce" stroke-width="1.5" stroke-linecap="round" fill="none">
<line x1="420.1" x2="420.1" y1="1012.9" y2="1143.9"/>
<line x1="420.1" x2="420.1" y1="1261.8" y2="1309.2"/>
<line x1="440.02" x2="440.02" y1="974.7" y2="1132.7"/>
<line x1="440.02" x2="440.02" y1="1267.7" y2="1310.2"/>
<line x1="459.95" x2="459.95" y1="951.3" y2="1117.2"/>
<line x1="459.95" x2="459.95" y1="1261.2" y2="1309.2"/>
<line x1="479.87" x2="479.87" y1="911.4" y2="1093.4"/>
<line x1="479.87" x2="479.87" y1="1251.4" y2="1307.2"/>
<line x1="499.79" x2="499.79" y1="870" y2="1067.1"/>
<line x1="499.79" x2="499.79" y1="1242.5" y2="1307.2"/>
<line x1="519.72" x2="519.72" y1="867.5" y2="1065.6"/>
<line x1="519.72" x2="519.72" y1="1240.4" y2="1307.2"/>
<line x1="539.64" x2="539.64" y1="867.9" y2="1065.8"/>
<line x1="539.64" x2="539.64" y1="1242.5" y2="1307.8"/>
<line x1="559.56" x2="559.56" y1="865.1" y2="1062.4"/>
<line x1="559.56" x2="559.56" y1="1240.4" y2="1307.8"/>
<line x1="579.48" x2="579.48" y1="846.5" y2="1054.8"/>
<line x1="579.48" x2="579.48" y1="1239" y2="1307.8"/>
<line x1="599.41" x2="599.41" y1="831.2" y2="1043.8"/>
<line x1="599.41" x2="599.41" y1="1230.9" y2="1306.4"/>
<line x1="619.33" x2="619.33" y1="807.8" y2="1026.1"/>
<line x1="619.33" x2="619.33" y1="1224.2" y2="1304.5"/>
<line x1="639.25" x2="639.25" y1="770.7" y2="1007.1"/>
<line x1="639.25" x2="639.25" y1="1214" y2="1301.5"/>
<line x1="659.18" x2="659.18" y1="756.2" y2="993"/>
<line x1="659.18" x2="659.18" y1="1206.9" y2="1300.1"/>
<line x1="679.1" x2="679.1" y1="736.2" y2="981"/>
<line x1="679.1" x2="679.1" y1="1201.2" y2="1300.1"/>
</g>
<g stroke="#e8c9c4" stroke-width="2.5" fill="none"><line x1="420.1" x2="420.1" y1="1040.3" y2="1143.9"/><line x1="420.1" x2="420.1" y1="1267.3" y2="1309.9"/><line x1="440.02" x2="440.02" y1="994.4" y2="1132.7"/><line x1="440.02" x2="440.02" y1="1274" y2="1310.9"/><line x1="459.95" x2="459.95" y1="974.5" y2="1117.2"/><line x1="459.95" x2="459.95" y1="1267.3" y2="1309.9"/><line x1="479.87" x2="479.87" y1="929.9" y2="1093.4"/><line x1="479.87" x2="479.87" y1="1258.1" y2="1307.9"/><line x1="499.79" x2="499.79" y1="882.9" y2="1067.1"/><line x1="499.79" x2="499.79" y1="1249.4" y2="1307.9"/><line x1="519.72" x2="519.72" y1="890.5" y2="1065.6"/><line x1="519.72" x2="519.72" y1="1248.6" y2="1307.9"/><line x1="539.64" x2="539.64" y1="892.9" y2="1065.8"/><line x1="539.64" x2="539.64" y1="1250.2" y2="1308.5"/><line x1="559.56" x2="559.56" y1="890.7" y2="1062.4"/><line x1="559.56" x2="559.56" y1="1248.8" y2="1308.5"/><line x1="579.48" x2="579.48" y1="872.5" y2="1054.8"/><line x1="579.48" x2="579.48" y1="1245.3" y2="1308.5"/><line x1="599.41" x2="599.41" y1="857" y2="1043.8"/><line x1="599.41" x2="599.41" y1="1239" y2="1307.1"/><line x1="619.33" x2="619.33" y1="833.6" y2="1026.1"/><line x1="619.33" x2="619.33" y1="1233.3" y2="1305.2"/><line x1="639.25" x2="639.25" y1="815.2" y2="1007.1"/><line x1="639.25" x2="639.25" y1="1224.2" y2="1302.2"/><line x1="659.18" x2="659.18" y1="792.2" y2="993"/><line x1="659.18" x2="659.18" y1="1218.7" y2="1300.8"/><line x1="679.1" x2="679.1" y1="770.4" y2="981"/><line x1="679.1" x2="679.1" y1="1210.8" y2="1300.8"/></g>
<g stroke="#4f979b" stroke-width="1.5" fill="none"><line x1="420.1" x2="420.1" y1="1040.3" y2="1143.9"/><line x1="420.1" x2="420.1" y1="1267.3" y2="1309.9"/><line x1="440.02" x2="440.02" y1="994.4" y2="1132.7"/><line x1="440.02" x2="440.02" y1="1274" y2="1310.9"/><line x1="459.95" x2="459.95" y1="974.5" y2="1117.2"/><line x1="459.95" x2="459.95" y1="1267.3" y2="1309.9"/><line x1="479.87" x2="479.87" y1="929.9" y2="1093.4"/><line x1="479.87" x2="479.87" y1="1258.1" y2="1307.9"/><line x1="499.79" x2="499.79" y1="882.9" y2="1067.1"/><line x1="499.79" x2="499.79" y1="1249.4" y2="1307.9"/><line x1="519.72" x2="519.72" y1="890.5" y2="1065.6"/><line x1="519.72" x2="519.72" y1="1248.6" y2="1307.9"/><line x1="539.64" x2="539.64" y1="892.9" y2="1065.8"/><line x1="539.64" x2="539.64" y1="1250.2" y2="1308.5"/><line x1="559.56" x2="559.56" y1="890.7" y2="1062.4"/><line x1="559.56" x2="559.56" y1="1248.8" y2="1308.5"/><line x1="579.48" x2="579.48" y1="872.5" y2="1054.8"/><line x1="579.48" x2="579.48" y1="1245.3" y2="1308.5"/><line x1="599.41" x2="599.41" y1="857" y2="1043.8"/><line x1="599.41" x2="599.41" y1="1239" y2="1307.1"/><line x1="619.33" x2="619.33" y1="833.6" y2="1026.1"/><line x1="619.33" x2="619.33" y1="1233.3" y2="1305.2"/><line x1="639.25" x2="639.25" y1="815.2" y2="1007.1"/><line x1="639.25" x2="639.25" y1="1224.2" y2="1302.2"/><line x1="659.18" x2="659.18" y1="792.2" y2="993"/><line x1="659.18" x2="659.18" y1="1218.7" y2="1300.8"/><line x1="679.1" x2="679.1" y1="770.4" y2="981"/><line x1="679.1" x2="679.1" y1="1210.8" y2="1300.8"/></g>
<g stroke="rgba(78,192,203,0.85)" stroke-width="1.6" stroke-linejoin="round" fill="none">
<rect x="412.5" y="1143.9" width="15.2" height="117.9"/>
<rect x="432.42" y="1132.7" width="15.2" height="135"/>
<rect x="452.35" y="1117.2" width="15.2" height="144"/>
<rect x="472.27" y="1093.4" width="15.2" height="158"/>
<rect x="492.19" y="1067.1" width="15.2" height="175.4"/>
<rect x="512.12" y="1065.6" width="15.2" height="174.8"/>
<rect x="532.04" y="1065.8" width="15.2" height="176.7"/>
<rect x="551.96" y="1062.4" width="15.2" height="178"/>
<rect x="571.88" y="1054.8" width="15.2" height="184.2"/>
<rect x="591.81" y="1043.8" width="15.2" height="187.1"/>
<rect x="611.73" y="1026.1" width="15.2" height="198.1"/>
<rect x="631.65" y="1007.1" width="15.2" height="206.9"/>
<rect x="651.58" y="993" width="15.2" height="213.9"/>
<rect x="671.5" y="981" width="15.2" height="220.2"/>
</g>
<polyline points="420.1,1222.1 440.02,1222.3 459.95,1211 479.87,1194.7 499.79,1175.4 519.72,1175.4 539.64,1176.6 559.56,1174.9 579.48,1168 599.41,1160.3 619.33,1149.9 639.25,1140.3 659.18,1129.5 679.1,1114.8" fill="none" stroke="#e0493b" stroke-width="2.0" stroke-linejoin="round"/>
<polyline points="420.1,1210.6 440.02,1210.4 459.95,1199.6 479.87,1183.5 499.79,1165.2 519.72,1163.7 539.64,1164.5 559.56,1161.1 579.48,1157 599.41,1147.8 619.33,1135.4 639.25,1122.1 659.18,1108.5 679.1,1104.2" fill="none" stroke="#5ccbd6" stroke-width="1.6" stroke-linejoin="round"/>
<g fill="#fff">
<circle cx="420.1" cy="1222.1" r="2.6"/>
<circle cx="440.02" cy="1222.3" r="2.6"/>
<circle cx="459.95" cy="1211" r="2.6"/>
<circle cx="479.87" cy="1194.7" r="2.6"/>
<circle cx="499.79" cy="1175.4" r="2.6"/>
<circle cx="519.72" cy="1175.4" r="2.6"/>
<circle cx="539.64" cy="1176.6" r="2.6"/>
<circle cx="559.56" cy="1174.9" r="2.6"/>
<circle cx="579.48" cy="1168" r="2.6"/>
<circle cx="599.41" cy="1160.3" r="2.6"/>
<circle cx="619.33" cy="1149.9" r="2.6"/>
<circle cx="639.25" cy="1140.3" r="2.6"/>
<circle cx="659.18" cy="1129.5" r="2.6"/>
<circle cx="679.1" cy="1114.8" r="2.6"/>
</g>
<g fill="#fff">
<circle cx="420.1" cy="1210.6" r="2.6"/>
<circle cx="440.02" cy="1210.4" r="2.6"/>
<circle cx="459.95" cy="1199.6" r="2.6"/>
<circle cx="479.87" cy="1183.5" r="2.6"/>
<circle cx="499.79" cy="1165.2" r="2.6"/>
<circle cx="519.72" cy="1163.7" r="2.6"/>
<circle cx="539.64" cy="1164.5" r="2.6"/>
<circle cx="559.56" cy="1161.1" r="2.6"/>
<circle cx="579.48" cy="1157" r="2.6"/>
<circle cx="599.41" cy="1147.8" r="2.6"/>
<circle cx="619.33" cy="1135.4" r="2.6"/>
<circle cx="639.25" cy="1122.1" r="2.6"/>
<circle cx="659.18" cy="1108.5" r="2.6"/>
<circle cx="679.1" cy="1104.2" r="2.6"/>
</g>
<g stroke="#0a0a0a" stroke-width="1.6" fill="none">
<line x1="408.2" x2="408.2" y1="726.8" y2="1334.25"/>
<line x1="405.6" x2="690.7" y1="1333.6" y2="1333.6"/>
<line x1="404.6" x2="408.2" y1="727.4" y2="727.4"/>
<line x1="404.6" x2="408.2" y1="803.17" y2="803.17"/>
<line x1="404.6" x2="408.2" y1="878.95" y2="878.95"/>
<line x1="404.6" x2="408.2" y1="954.72" y2="954.72"/>
<line x1="404.6" x2="408.2" y1="1030.5" y2="1030.5"/>
<line x1="404.6" x2="408.2" y1="1106.27" y2="1106.27"/>
<line x1="404.6" x2="408.2" y1="1182.05" y2="1182.05"/>
<line x1="404.6" x2="408.2" y1="1257.82" y2="1257.82"/>
<line x1="404.6" x2="408.2" y1="1333.6" y2="1333.6"/>
<line x1="420.1" x2="420.1" y1="1333.6" y2="1337.4"/>
<line x1="440.02" x2="440.02" y1="1333.6" y2="1337.4"/>
<line x1="459.95" x2="459.95" y1="1333.6" y2="1337.4"/>
<line x1="479.87" x2="479.87" y1="1333.6" y2="1337.4"/>
<line x1="499.79" x2="499.79" y1="1333.6" y2="1337.4"/>
<line x1="519.72" x2="519.72" y1="1333.6" y2="1337.4"/>
<line x1="539.64" x2="539.64" y1="1333.6" y2="1337.4"/>
<line x1="559.56" x2="559.56" y1="1333.6" y2="1337.4"/>
<line x1="579.48" x2="579.48" y1="1333.6" y2="1337.4"/>
<line x1="599.41" x2="599.41" y1="1333.6" y2="1337.4"/>
<line x1="619.33" x2="619.33" y1="1333.6" y2="1337.4"/>
<line x1="639.25" x2="639.25" y1="1333.6" y2="1337.4"/>
<line x1="659.18" x2="659.18" y1="1333.6" y2="1337.4"/>
<line x1="679.1" x2="679.1" y1="1333.6" y2="1337.4"/>
</g>
<g font-size="10.2" fill="#000" stroke="#000" stroke-width="0.25" text-anchor="end">
<text x="402.2" y="731.6">40.0</text>
<text x="402.2" y="807.38">35.0</text>
<text x="402.2" y="883.15">30.0</text>
<text x="402.2" y="958.92">25.0</text>
<text x="402.2" y="1034.7">20.0</text>
<text x="402.2" y="1110.47">15.0</text>
<text x="402.2" y="1186.25">10.0</text>
<text x="402.2" y="1262.02">5.0</text>
<text x="402.2" y="1337.8">0.0</text>
</g>
<g font-size="10.2" fill="#000" stroke="#000" stroke-width="0.25" text-anchor="end">
<text transform="translate(424.7,1344.2) rotate(-45)">1</text>
<text transform="translate(444.62,1344.2) rotate(-45)">2</text>
<text transform="translate(464.55,1344.2) rotate(-45)">3</text>
<text transform="translate(484.47,1344.2) rotate(-45)">4</text>
<text transform="translate(504.39,1344.2) rotate(-45)">5</text>
<text transform="translate(524.32,1344.2) rotate(-45)">6</text>
<text transform="translate(544.24,1344.2) rotate(-45)">7</text>
<text transform="translate(564.16,1344.2) rotate(-45)">8</text>
<text transform="translate(584.08,1344.2) rotate(-45)">9</text>
<text transform="translate(604.01,1344.2) rotate(-45)">10</text>
<text transform="translate(623.93,1344.2) rotate(-45)">11</text>
<text transform="translate(643.85,1344.2) rotate(-45)">12</text>
<text transform="translate(663.78,1344.2) rotate(-45)">13</text>
<text transform="translate(683.7,1344.2) rotate(-45)">14</text>
</g>
<text x="549.6" y="1367.3" text-anchor="middle" font-size="13.05" fill="#000" stroke="#000" stroke-width="0.2">Age by days(s)</text>
<text transform="translate(375.6,1030.5) rotate(-90)" text-anchor="middle" font-size="12.4" fill="#000" stroke="#000" stroke-width="0.2">μM</text>
<line x1="611.1" x2="611.1" y1="713.7" y2="730.9" stroke="#e1675f" stroke-width="2" stroke-linecap="round"/>
<rect x="602.5" y="716.1" width="17.2" height="12.4" rx="1.2" fill="#e1675f"/>
<path d="M604.9 719.9H617.3M604.9 724.7H617.3" stroke="#fff" stroke-opacity="0.45" stroke-width="1.6" stroke-dasharray="2.6 0.6" fill="none"/>
<circle cx="611.1" cy="722.3" r="2.4" fill="#fff"/>
<text x="627.5" y="726.3" font-size="10.3" fill="#000" stroke="#000" stroke-width="0.3">Female</text>
<line x1="611.1" x2="611.1" y1="734.15" y2="751.35" stroke="#64bdc6" stroke-width="2" stroke-linecap="round"/>
<rect x="602.5" y="736.55" width="17.2" height="12.4" rx="1.2" fill="#64bdc6"/>
<path d="M604.9 740.35H617.3M604.9 745.15H617.3" stroke="#fff" stroke-opacity="0.45" stroke-width="1.6" stroke-dasharray="2.6 0.6" fill="none"/>
<circle cx="611.1" cy="742.75" r="2.4" fill="#fff"/>
<text x="627.5" y="746.75" font-size="10.3" fill="#000" stroke="#000" stroke-width="0.3">Male</text>
</g>
<g>
<text x="910.5" y="717.1" text-anchor="middle" font-size="18.8" font-weight="bold" fill="#000" stroke="#000" stroke-width="0.1">CIT</text>
<g stroke="#dd4a3c" stroke-width="2.1" stroke-linecap="round" fill="none">
<line x1="780.9" x2="780.9" y1="943.1" y2="1079.1"/>
<line x1="780.9" x2="780.9" y1="1210" y2="1303.8"/>
<line x1="800.85" x2="800.85" y1="920.5" y2="1075"/>
<line x1="800.85" x2="800.85" y1="1215.8" y2="1313"/>
<line x1="820.79" x2="820.79" y1="881.3" y2="1050.5"/>
<line x1="820.79" x2="820.79" y1="1202.2" y2="1303.8"/>
<line x1="840.74" x2="840.74" y1="879.1" y2="1046.7"/>
<line x1="840.74" x2="840.74" y1="1196.8" y2="1298.4"/>
<line x1="860.68" x2="860.68" y1="899.7" y2="1059.5"/>
<line x1="860.68" x2="860.68" y1="1203.3" y2="1301.8"/>
<line x1="880.63" x2="880.63" y1="898.2" y2="1055.6"/>
<line x1="880.63" x2="880.63" y1="1199.8" y2="1301.8"/>
<line x1="900.58" x2="900.58" y1="891.1" y2="1052"/>
<line x1="900.58" x2="900.58" y1="1198.2" y2="1302.8"/>
<line x1="920.52" x2="920.52" y1="869.1" y2="1040.3"/>
<line x1="920.52" x2="920.52" y1="1192.3" y2="1305.5"/>
<line x1="940.47" x2="940.47" y1="844.4" y2="1021.6"/>
<line x1="940.47" x2="940.47" y1="1183.1" y2="1301.8"/>
<line x1="960.42" x2="960.42" y1="825" y2="1006.9"/>
<line x1="960.42" x2="960.42" y1="1173.2" y2="1294.7"/>
<line x1="980.36" x2="980.36" y1="795.8" y2="990.2"/>
<line x1="980.36" x2="980.36" y1="1166.1" y2="1290"/>
<line x1="1000.31" x2="1000.31" y1="791.1" y2="983.8"/>
<line x1="1000.31" x2="1000.31" y1="1154.9" y2="1284.1"/>
<line x1="1020.25" x2="1020.25" y1="775.4" y2="968.7"/>
<line x1="1020.25" x2="1020.25" y1="1147" y2="1271.3"/>
<line x1="1040.2" x2="1040.2" y1="757.1" y2="956.7"/>
<line x1="1040.2" x2="1040.2" y1="1139.3" y2="1272.5"/>
</g>
<g stroke="#db4a3d" stroke-width="1.6" stroke-linejoin="round" fill="#f3c5c1">
<rect x="773.05" y="1079.1" width="15.7" height="130.9"/>
<rect x="793" y="1075" width="15.7" height="140.8"/>
<rect x="812.94" y="1050.5" width="15.7" height="151.7"/>
<rect x="832.89" y="1046.7" width="15.7" height="150.1"/>
<rect x="852.83" y="1059.5" width="15.7" height="143.8"/>
<rect x="872.78" y="1055.6" width="15.7" height="144.2"/>
<rect x="892.73" y="1052" width="15.7" height="146.2"/>
<rect x="912.67" y="1040.3" width="15.7" height="152"/>
<rect x="932.62" y="1021.6" width="15.7" height="161.5"/>
<rect x="952.57" y="1006.9" width="15.7" height="166.3"/>
<rect x="972.51" y="990.2" width="15.7" height="175.9"/>
<rect x="992.46" y="983.8" width="15.7" height="171.1"/>
<rect x="1012.4" y="968.7" width="15.7" height="178.3"/>
<rect x="1032.35" y="956.7" width="15.7" height="182.6"/>
</g>
<g fill="#a4bbbe"><rect x="773.3" y="1085.8" width="15.2" height="124.2"/><rect x="793.25" y="1085.2" width="15.2" height="130.6"/><rect x="813.19" y="1066.4" width="15.2" height="135.8"/><rect x="833.14" y="1066.8" width="15.2" height="130"/><rect x="853.08" y="1080.5" width="15.2" height="122.8"/><rect x="873.03" y="1076.2" width="15.2" height="123.6"/><rect x="892.98" y="1066.8" width="15.2" height="131.4"/><rect x="912.92" y="1055.2" width="15.2" height="137.1"/><rect x="932.87" y="1036.7" width="15.2" height="146.4"/><rect x="952.82" y="1022.8" width="15.2" height="150.4"/><rect x="972.76" y="1006.5" width="15.2" height="159.6"/><rect x="992.71" y="994.6" width="15.2" height="160.3"/><rect x="1012.65" y="984.5" width="15.2" height="162.5"/><rect x="1032.6" y="974" width="15.2" height="165.3"/></g>
<g fill="#b6e6e9"><rect x="773.3" y="1210" width="15.2" height="5.4"/><rect x="793.25" y="1215.8" width="15.2" height="7.8"/><rect x="813.19" y="1202.2" width="15.2" height="12.4"/><rect x="833.14" y="1196.8" width="15.2" height="14.8"/><rect x="853.08" y="1203.3" width="15.2" height="15"/><rect x="873.03" y="1199.8" width="15.2" height="14.2"/><rect x="892.98" y="1198.2" width="15.2" height="14.2"/><rect x="912.92" y="1192.3" width="15.2" height="12.8"/><rect x="932.87" y="1183.1" width="15.2" height="10.2"/><rect x="952.82" y="1173.2" width="15.2" height="10.8"/><rect x="972.76" y="1166.1" width="15.2" height="8.9"/><rect x="992.71" y="1154.9" width="15.2" height="7.5"/><rect x="1012.65" y="1147" width="15.2" height="8.5"/><rect x="1032.6" y="1139.3" width="15.2" height="12.3"/></g>
<g stroke="#968a88" stroke-width="1.7" fill="none">
<line x1="774" x2="787.8" y1="1210" y2="1210"/>
<line x1="780.9" x2="780.9" y1="1210" y2="1214.6" stroke-width="2.1"/>
<line x1="793.95" x2="807.75" y1="1215.8" y2="1215.8"/>
<line x1="800.85" x2="800.85" y1="1215.8" y2="1222.8" stroke-width="2.1"/>
<line x1="813.89" x2="827.69" y1="1202.2" y2="1202.2"/>
<line x1="820.79" x2="820.79" y1="1202.2" y2="1213.8" stroke-width="2.1"/>
<line x1="833.84" x2="847.64" y1="1196.8" y2="1196.8"/>
<line x1="840.74" x2="840.74" y1="1196.8" y2="1210.8" stroke-width="2.1"/>
<line x1="853.78" x2="867.58" y1="1203.3" y2="1203.3"/>
<line x1="860.68" x2="860.68" y1="1203.3" y2="1217.5" stroke-width="2.1"/>
<line x1="873.73" x2="887.53" y1="1199.8" y2="1199.8"/>
<line x1="880.63" x2="880.63" y1="1199.8" y2="1213.2" stroke-width="2.1"/>
<line x1="893.68" x2="907.48" y1="1198.2" y2="1198.2"/>
<line x1="900.58" x2="900.58" y1="1198.2" y2="1211.6" stroke-width="2.1"/>
<line x1="913.62" x2="927.42" y1="1192.3" y2="1192.3"/>
<line x1="920.52" x2="920.52" y1="1192.3" y2="1204.3" stroke-width="2.1"/>
<line x1="933.57" x2="947.37" y1="1183.1" y2="1183.1"/>
<line x1="940.47" x2="940.47" y1="1183.1" y2="1192.5" stroke-width="2.1"/>
<line x1="953.52" x2="967.32" y1="1173.2" y2="1173.2"/>
<line x1="960.42" x2="960.42" y1="1173.2" y2="1183.2" stroke-width="2.1"/>
<line x1="973.46" x2="987.26" y1="1166.1" y2="1166.1"/>
<line x1="980.36" x2="980.36" y1="1166.1" y2="1174.2" stroke-width="2.1"/>
<line x1="993.41" x2="1007.21" y1="1154.9" y2="1154.9"/>
<line x1="1000.31" x2="1000.31" y1="1154.9" y2="1161.6" stroke-width="2.1"/>
<line x1="1013.35" x2="1027.15" y1="1147" y2="1147"/>
<line x1="1020.25" x2="1020.25" y1="1147" y2="1154.7" stroke-width="2.1"/>
<line x1="1033.3" x2="1047.1" y1="1139.3" y2="1139.3"/>
<line x1="1040.2" x2="1040.2" y1="1139.3" y2="1150.8" stroke-width="2.1"/>
</g>
<g stroke="#62c4ce" stroke-width="1.5" stroke-linecap="round" fill="none">
<line x1="780.9" x2="780.9" y1="941.4" y2="1085.8"/>
<line x1="780.9" x2="780.9" y1="1215.4" y2="1308.8"/>
<line x1="800.85" x2="800.85" y1="932.8" y2="1085.2"/>
<line x1="800.85" x2="800.85" y1="1223.6" y2="1318.4"/>
<line x1="820.79" x2="820.79" y1="901.6" y2="1066.4"/>
<line x1="820.79" x2="820.79" y1="1214.6" y2="1313.9"/>
<line x1="840.74" x2="840.74" y1="905.1" y2="1066.8"/>
<line x1="840.74" x2="840.74" y1="1211.6" y2="1310"/>
<line x1="860.68" x2="860.68" y1="927.1" y2="1080.5"/>
<line x1="860.68" x2="860.68" y1="1218.3" y2="1314.9"/>
<line x1="880.63" x2="880.63" y1="924.4" y2="1076.2"/>
<line x1="880.63" x2="880.63" y1="1214" y2="1313.3"/>
<line x1="900.58" x2="900.58" y1="910.4" y2="1066.8"/>
<line x1="900.58" x2="900.58" y1="1212.4" y2="1315.3"/>
<line x1="920.52" x2="920.52" y1="891.4" y2="1055.2"/>
<line x1="920.52" x2="920.52" y1="1205.1" y2="1314.3"/>
<line x1="940.47" x2="940.47" y1="866.5" y2="1036.7"/>
<line x1="940.47" x2="940.47" y1="1193.3" y2="1313.7"/>
<line x1="960.42" x2="960.42" y1="840.6" y2="1022.8"/>
<line x1="960.42" x2="960.42" y1="1184" y2="1306.2"/>
<line x1="980.36" x2="980.36" y1="822.1" y2="1006.5"/>
<line x1="980.36" x2="980.36" y1="1175" y2="1298.4"/>
<line x1="1000.31" x2="1000.31" y1="805.3" y2="994.6"/>
<line x1="1000.31" x2="1000.31" y1="1162.4" y2="1280.8"/>
<line x1="1020.25" x2="1020.25" y1="793.1" y2="984.5"/>
<line x1="1020.25" x2="1020.25" y1="1155.5" y2="1284.8"/>
<line x1="1040.2" x2="1040.2" y1="781.3" y2="974"/>
<line x1="1040.2" x2="1040.2" y1="1151.6" y2="1280.8"/>
</g>
<g stroke="#e8c9c4" stroke-width="2.5" fill="none"><line x1="780.9" x2="780.9" y1="942.1" y2="1079.1"/><line x1="780.9" x2="780.9" y1="1215.4" y2="1304.8"/><line x1="800.85" x2="800.85" y1="932.1" y2="1075"/><line x1="800.85" x2="800.85" y1="1223.6" y2="1314"/><line x1="820.79" x2="820.79" y1="900.9" y2="1050.5"/><line x1="820.79" x2="820.79" y1="1214.6" y2="1304.8"/><line x1="840.74" x2="840.74" y1="904.4" y2="1046.7"/><line x1="840.74" x2="840.74" y1="1211.6" y2="1299.4"/><line x1="860.68" x2="860.68" y1="926.4" y2="1059.5"/><line x1="860.68" x2="860.68" y1="1218.3" y2="1302.8"/><line x1="880.63" x2="880.63" y1="923.7" y2="1055.6"/><line x1="880.63" x2="880.63" y1="1214" y2="1302.8"/><line x1="900.58" x2="900.58" y1="909.7" y2="1052"/><line x1="900.58" x2="900.58" y1="1212.4" y2="1303.8"/><line x1="920.52" x2="920.52" y1="890.7" y2="1040.3"/><line x1="920.52" x2="920.52" y1="1205.1" y2="1306.5"/><line x1="940.47" x2="940.47" y1="865.8" y2="1021.6"/><line x1="940.47" x2="940.47" y1="1193.3" y2="1302.8"/><line x1="960.42" x2="960.42" y1="839.9" y2="1006.9"/><line x1="960.42" x2="960.42" y1="1184" y2="1295.7"/><line x1="980.36" x2="980.36" y1="821.4" y2="990.2"/><line x1="980.36" x2="980.36" y1="1175" y2="1291"/><line x1="1000.31" x2="1000.31" y1="804.6" y2="983.8"/><line x1="1000.31" x2="1000.31" y1="1162.4" y2="1281.5"/><line x1="1020.25" x2="1020.25" y1="792.4" y2="968.7"/><line x1="1020.25" x2="1020.25" y1="1155.5" y2="1272.3"/><line x1="1040.2" x2="1040.2" y1="780.6" y2="956.7"/><line x1="1040.2" x2="1040.2" y1="1151.6" y2="1273.5"/></g>
<g stroke="#4f979b" stroke-width="1.5" fill="none"><line x1="780.9" x2="780.9" y1="942.1" y2="1079.1"/><line x1="780.9" x2="780.9" y1="1215.4" y2="1304.8"/><line x1="800.85" x2="800.85" y1="932.1" y2="1075"/><line x1="800.85" x2="800.85" y1="1223.6" y2="1314"/><line x1="820.79" x2="820.79" y1="900.9" y2="1050.5"/><line x1="820.79" x2="820.79" y1="1214.6" y2="1304.8"/><line x1="840.74" x2="840.74" y1="904.4" y2="1046.7"/><line x1="840.74" x2="840.74" y1="1211.6" y2="1299.4"/><line x1="860.68" x2="860.68" y1="926.4" y2="1059.5"/><line x1="860.68" x2="860.68" y1="1218.3" y2="1302.8"/><line x1="880.63" x2="880.63" y1="923.7" y2="1055.6"/><line x1="880.63" x2="880.63" y1="1214" y2="1302.8"/><line x1="900.58" x2="900.58" y1="909.7" y2="1052"/><line x1="900.58" x2="900.58" y1="1212.4" y2="1303.8"/><line x1="920.52" x2="920.52" y1="890.7" y2="1040.3"/><line x1="920.52" x2="920.52" y1="1205.1" y2="1306.5"/><line x1="940.47" x2="940.47" y1="865.8" y2="1021.6"/><line x1="940.47" x2="940.47" y1="1193.3" y2="1302.8"/><line x1="960.42" x2="960.42" y1="839.9" y2="1006.9"/><line x1="960.42" x2="960.42" y1="1184" y2="1295.7"/><line x1="980.36" x2="980.36" y1="821.4" y2="990.2"/><line x1="980.36" x2="980.36" y1="1175" y2="1291"/><line x1="1000.31" x2="1000.31" y1="804.6" y2="983.8"/><line x1="1000.31" x2="1000.31" y1="1162.4" y2="1281.5"/><line x1="1020.25" x2="1020.25" y1="792.4" y2="968.7"/><line x1="1020.25" x2="1020.25" y1="1155.5" y2="1272.3"/><line x1="1040.2" x2="1040.2" y1="780.6" y2="956.7"/><line x1="1040.2" x2="1040.2" y1="1151.6" y2="1273.5"/></g>
<g stroke="rgba(78,192,203,0.85)" stroke-width="1.6" stroke-linejoin="round" fill="none">
<rect x="773.3" y="1085.8" width="15.2" height="129.6"/>
<rect x="793.25" y="1085.2" width="15.2" height="138.4"/>
<rect x="813.19" y="1066.4" width="15.2" height="148.2"/>
<rect x="833.14" y="1066.8" width="15.2" height="144.8"/>
<rect x="853.08" y="1080.5" width="15.2" height="137.8"/>
<rect x="873.03" y="1076.2" width="15.2" height="137.8"/>
<rect x="892.98" y="1066.8" width="15.2" height="145.6"/>
<rect x="912.92" y="1055.2" width="15.2" height="149.9"/>
<rect x="932.87" y="1036.7" width="15.2" height="156.6"/>
<rect x="952.82" y="1022.8" width="15.2" height="161.2"/>
<rect x="972.76" y="1006.5" width="15.2" height="168.5"/>
<rect x="992.71" y="994.6" width="15.2" height="167.8"/>
<rect x="1012.65" y="984.5" width="15.2" height="171"/>
<rect x="1032.6" y="974" width="15.2" height="177.6"/>
</g>
<polyline points="780.9,1150.5 800.85,1151.1 820.79,1133.1 840.74,1128.2 860.68,1136.8 880.63,1133.3 900.58,1129.1 920.52,1121.7 940.47,1108.9 960.42,1095.8 980.36,1085.6 1000.31,1076.4 1020.25,1065.2 1040.2,1056.4" fill="none" stroke="#e0493b" stroke-width="2.0" stroke-linejoin="round"/>
<polyline points="780.9,1155.6 800.85,1159.6 820.79,1147.2 840.74,1145.4 860.68,1155 880.63,1151.3 900.58,1145.2 920.52,1134.8 940.47,1121.7 960.42,1110.1 980.36,1095.4 1000.31,1084.6 1020.25,1075.6 1040.2,1070.1" fill="none" stroke="#5ccbd6" stroke-width="1.6" stroke-linejoin="round"/>
<g fill="#fff">
<circle cx="780.9" cy="1150.5" r="2.6"/>
<circle cx="800.85" cy="1151.1" r="2.6"/>
<circle cx="820.79" cy="1133.1" r="2.6"/>
<circle cx="840.74" cy="1128.2" r="2.6"/>
<circle cx="860.68" cy="1136.8" r="2.6"/>
<circle cx="880.63" cy="1133.3" r="2.6"/>
<circle cx="900.58" cy="1129.1" r="2.6"/>
<circle cx="920.52" cy="1121.7" r="2.6"/>
<circle cx="940.47" cy="1108.9" r="2.6"/>
<circle cx="960.42" cy="1095.8" r="2.6"/>
<circle cx="980.36" cy="1085.6" r="2.6"/>
<circle cx="1000.31" cy="1076.4" r="2.6"/>
<circle cx="1020.25" cy="1065.2" r="2.6"/>
<circle cx="1040.2" cy="1056.4" r="2.6"/>
</g>
<g fill="#fff">
<circle cx="780.9" cy="1155.6" r="2.6"/>
<circle cx="800.85" cy="1159.6" r="2.6"/>
<circle cx="820.79" cy="1147.2" r="2.6"/>
<circle cx="840.74" cy="1145.4" r="2.6"/>
<circle cx="860.68" cy="1155" r="2.6"/>
<circle cx="880.63" cy="1151.3" r="2.6"/>
<circle cx="900.58" cy="1145.2" r="2.6"/>
<circle cx="920.52" cy="1134.8" r="2.6"/>
<circle cx="940.47" cy="1121.7" r="2.6"/>
<circle cx="960.42" cy="1110.1" r="2.6"/>
<circle cx="980.36" cy="1095.4" r="2.6"/>
<circle cx="1000.31" cy="1084.6" r="2.6"/>
<circle cx="1020.25" cy="1075.6" r="2.6"/>
<circle cx="1040.2" cy="1070.1" r="2.6"/>
</g>
<g stroke="#0a0a0a" stroke-width="1.6" fill="none">
<line x1="768.8" x2="768.8" y1="726.8" y2="1334.25"/>
<line x1="766.2" x2="1051.9" y1="1333.6" y2="1333.6"/>
<line x1="765.2" x2="768.8" y1="727.4" y2="727.4"/>
<line x1="765.2" x2="768.8" y1="848.64" y2="848.64"/>
<line x1="765.2" x2="768.8" y1="969.88" y2="969.88"/>
<line x1="765.2" x2="768.8" y1="1091.12" y2="1091.12"/>
<line x1="765.2" x2="768.8" y1="1212.36" y2="1212.36"/>
<line x1="765.2" x2="768.8" y1="1333.6" y2="1333.6"/>
<line x1="780.9" x2="780.9" y1="1333.6" y2="1337.4"/>
<line x1="800.85" x2="800.85" y1="1333.6" y2="1337.4"/>
<line x1="820.79" x2="820.79" y1="1333.6" y2="1337.4"/>
<line x1="840.74" x2="840.74" y1="1333.6" y2="1337.4"/>
<line x1="860.68" x2="860.68" y1="1333.6" y2="1337.4"/>
<line x1="880.63" x2="880.63" y1="1333.6" y2="1337.4"/>
<line x1="900.58" x2="900.58" y1="1333.6" y2="1337.4"/>
<line x1="920.52" x2="920.52" y1="1333.6" y2="1337.4"/>
<line x1="940.47" x2="940.47" y1="1333.6" y2="1337.4"/>
<line x1="960.42" x2="960.42" y1="1333.6" y2="1337.4"/>
<line x1="980.36" x2="980.36" y1="1333.6" y2="1337.4"/>
<line x1="1000.31" x2="1000.31" y1="1333.6" y2="1337.4"/>
<line x1="1020.25" x2="1020.25" y1="1333.6" y2="1337.4"/>
<line x1="1040.2" x2="1040.2" y1="1333.6" y2="1337.4"/>
</g>
<g font-size="10.2" fill="#000" stroke="#000" stroke-width="0.25" text-anchor="end">
<text x="762.8" y="731.6">27.0</text>
<text x="762.8" y="852.84">23.0</text>
<text x="762.8" y="974.08">19.0</text>
<text x="762.8" y="1095.32">15.0</text>
<text x="762.8" y="1216.56">11.0</text>
<text x="762.8" y="1337.8">7.0</text>
</g>
<g font-size="10.2" fill="#000" stroke="#000" stroke-width="0.25" text-anchor="end">
<text transform="translate(785.5,1344.2) rotate(-45)">1</text>
<text transform="translate(805.45,1344.2) rotate(-45)">2</text>
<text transform="translate(825.39,1344.2) rotate(-45)">3</text>
<text transform="translate(845.34,1344.2) rotate(-45)">4</text>
<text transform="translate(865.28,1344.2) rotate(-45)">5</text>
<text transform="translate(885.23,1344.2) rotate(-45)">6</text>
<text transform="translate(905.18,1344.2) rotate(-45)">7</text>
<text transform="translate(925.12,1344.2) rotate(-45)">8</text>
<text transform="translate(945.07,1344.2) rotate(-45)">9</text>
<text transform="translate(965.02,1344.2) rotate(-45)">10</text>
<text transform="translate(984.96,1344.2) rotate(-45)">11</text>
<text transform="translate(1004.91,1344.2) rotate(-45)">12</text>
<text transform="translate(1024.85,1344.2) rotate(-45)">13</text>
<text transform="translate(1044.8,1344.2) rotate(-45)">14</text>
</g>
<text x="910.6" y="1367.3" text-anchor="middle" font-size="13.05" fill="#000" stroke="#000" stroke-width="0.2">Age by days(s)</text>
<text transform="translate(736.2,1030.5) rotate(-90)" text-anchor="middle" font-size="12.4" fill="#000" stroke="#000" stroke-width="0.2">μM</text>
<line x1="967" x2="967" y1="713.7" y2="730.9" stroke="#e1675f" stroke-width="2" stroke-linecap="round"/>
<rect x="958.4" y="716.1" width="17.2" height="12.4" rx="1.2" fill="#e1675f"/>
<path d="M960.8 719.9H973.2M960.8 724.7H973.2" stroke="#fff" stroke-opacity="0.45" stroke-width="1.6" stroke-dasharray="2.6 0.6" fill="none"/>
<circle cx="967" cy="722.3" r="2.4" fill="#fff"/>
<text x="983.4" y="726.3" font-size="10.3" fill="#000" stroke="#000" stroke-width="0.3">Female</text>
<line x1="967" x2="967" y1="734.15" y2="751.35" stroke="#64bdc6" stroke-width="2" stroke-linecap="round"/>
<rect x="958.4" y="736.55" width="17.2" height="12.4" rx="1.2" fill="#64bdc6"/>
<path d="M960.8 740.35H973.2M960.8 745.15H973.2" stroke="#fff" stroke-opacity="0.45" stroke-width="1.6" stroke-dasharray="2.6 0.6" fill="none"/>
<circle cx="967" cy="742.75" r="2.4" fill="#fff"/>
<text x="983.4" y="746.75" font-size="10.3" fill="#000" stroke="#000" stroke-width="0.3">Male</text>
</g>
<g>
<text x="1265.8" y="717.1" text-anchor="middle" font-size="18.8" font-weight="bold" fill="#000" stroke="#000" stroke-width="0.1">GLY</text>
<g stroke="#dd4a3c" stroke-width="2.1" stroke-linecap="round" fill="none">
<line x1="1138.9" x2="1138.9" y1="822.2" y2="970"/>
<line x1="1138.9" x2="1138.9" y1="1102.7" y2="1210"/>
<line x1="1158.42" x2="1158.42" y1="757.5" y2="951.6"/>
<line x1="1158.42" x2="1158.42" y1="1117.8" y2="1226"/>
<line x1="1177.93" x2="1177.93" y1="732.6" y2="932.6"/>
<line x1="1177.93" x2="1177.93" y1="1109.7" y2="1228.1"/>
<line x1="1197.45" x2="1197.45" y1="759.7" y2="956.3"/>
<line x1="1197.45" x2="1197.45" y1="1129.1" y2="1241.9"/>
<line x1="1216.96" x2="1216.96" y1="869.5" y2="1039.1"/>
<line x1="1216.96" x2="1216.96" y1="1187" y2="1279.9"/>
<line x1="1236.48" x2="1236.48" y1="925.5" y2="1080.3"/>
<line x1="1236.48" x2="1236.48" y1="1213.8" y2="1298.8"/>
<line x1="1255.99" x2="1255.99" y1="952.6" y2="1101.5"/>
<line x1="1255.99" x2="1255.99" y1="1229.1" y2="1308.9"/>
<line x1="1275.51" x2="1275.51" y1="965.3" y2="1111.1"/>
<line x1="1275.51" x2="1275.51" y1="1235.4" y2="1313"/>
<line x1="1295.02" x2="1295.02" y1="984.4" y2="1123.3"/>
<line x1="1295.02" x2="1295.02" y1="1239.8" y2="1314.6"/>
<line x1="1314.54" x2="1314.54" y1="995" y2="1130.5"/>
<line x1="1314.54" x2="1314.54" y1="1243.5" y2="1318.1"/>
<line x1="1334.05" x2="1334.05" y1="1006.3" y2="1137.8"/>
<line x1="1334.05" x2="1334.05" y1="1248.6" y2="1319.1"/>
<line x1="1353.57" x2="1353.57" y1="1027.7" y2="1150.3"/>
<line x1="1353.57" x2="1353.57" y1="1255.1" y2="1325.8"/>
<line x1="1373.08" x2="1373.08" y1="1028.1" y2="1151.1"/>
<line x1="1373.08" x2="1373.08" y1="1257.1" y2="1324.2"/>
<line x1="1392.6" x2="1392.6" y1="1041.1" y2="1160.9"/>
<line x1="1392.6" x2="1392.6" y1="1262.4" y2="1327.2"/>
</g>
<g stroke="#db4a3d" stroke-width="1.6" stroke-linejoin="round" fill="#f3c5c1">
<rect x="1131.05" y="970" width="15.7" height="132.7"/>
<rect x="1150.57" y="951.6" width="15.7" height="166.2"/>
<rect x="1170.08" y="932.6" width="15.7" height="177.1"/>
<rect x="1189.6" y="956.3" width="15.7" height="172.8"/>
<rect x="1209.11" y="1039.1" width="15.7" height="147.9"/>
<rect x="1228.63" y="1080.3" width="15.7" height="133.5"/>
<rect x="1248.14" y="1101.5" width="15.7" height="127.6"/>
<rect x="1267.66" y="1111.1" width="15.7" height="124.3"/>
<rect x="1287.17" y="1123.3" width="15.7" height="116.5"/>
<rect x="1306.69" y="1130.5" width="15.7" height="113"/>
<rect x="1326.2" y="1137.8" width="15.7" height="110.8"/>
<rect x="1345.72" y="1150.3" width="15.7" height="104.8"/>
<rect x="1365.23" y="1151.1" width="15.7" height="106"/>
<rect x="1384.75" y="1160.9" width="15.7" height="101.5"/>
</g>
<g fill="#a4bbbe"><rect x="1131.3" y="980.4" width="15.2" height="122.3"/><rect x="1150.82" y="966.7" width="15.2" height="151.1"/><rect x="1170.33" y="946.3" width="15.2" height="163.4"/><rect x="1189.85" y="972.8" width="15.2" height="156.3"/><rect x="1209.36" y="1055.6" width="15.2" height="131.4"/><rect x="1228.88" y="1093.2" width="15.2" height="120.6"/><rect x="1248.39" y="1115.8" width="15.2" height="113.3"/><rect x="1267.91" y="1125.2" width="15.2" height="110.2"/><rect x="1287.42" y="1135.2" width="15.2" height="104.6"/><rect x="1306.94" y="1141.3" width="15.2" height="102.2"/><rect x="1326.45" y="1144.8" width="15.2" height="103.8"/><rect x="1345.97" y="1157.6" width="15.2" height="97.5"/><rect x="1365.48" y="1162.1" width="15.2" height="95"/><rect x="1385" y="1165.2" width="15.2" height="97.2"/></g>
<g fill="#b6e6e9"><rect x="1131.3" y="1102.7" width="15.2" height="12.5"/><rect x="1150.82" y="1117.8" width="15.2" height="13.7"/><rect x="1170.33" y="1109.7" width="15.2" height="13.8"/><rect x="1189.85" y="1129.1" width="15.2" height="15.9"/><rect x="1209.36" y="1187" width="15.2" height="15.2"/><rect x="1228.88" y="1213.8" width="15.2" height="13"/><rect x="1248.39" y="1229.1" width="15.2" height="11.1"/><rect x="1267.91" y="1235.4" width="15.2" height="10.3"/><rect x="1287.42" y="1239.8" width="15.2" height="10.2"/><rect x="1306.94" y="1243.5" width="15.2" height="8.9"/><rect x="1326.45" y="1248.6" width="15.2" height="7.9"/><rect x="1345.97" y="1255.1" width="15.2" height="7.3"/><rect x="1365.48" y="1257.1" width="15.2" height="6.3"/><rect x="1385" y="1262.4" width="15.2" height="6.3"/></g>
<g stroke="#968a88" stroke-width="1.7" fill="none">
<line x1="1132" x2="1145.8" y1="1102.7" y2="1102.7"/>
<line x1="1138.9" x2="1138.9" y1="1102.7" y2="1114.4" stroke-width="2.1"/>
<line x1="1151.52" x2="1165.32" y1="1117.8" y2="1117.8"/>
<line x1="1158.42" x2="1158.42" y1="1117.8" y2="1130.7" stroke-width="2.1"/>
<line x1="1171.03" x2="1184.83" y1="1109.7" y2="1109.7"/>
<line x1="1177.93" x2="1177.93" y1="1109.7" y2="1122.7" stroke-width="2.1"/>
<line x1="1190.55" x2="1204.35" y1="1129.1" y2="1129.1"/>
<line x1="1197.45" x2="1197.45" y1="1129.1" y2="1144.2" stroke-width="2.1"/>
<line x1="1210.06" x2="1223.86" y1="1187" y2="1187"/>
<line x1="1216.96" x2="1216.96" y1="1187" y2="1201.4" stroke-width="2.1"/>
<line x1="1229.58" x2="1243.38" y1="1213.8" y2="1213.8"/>
<line x1="1236.48" x2="1236.48" y1="1213.8" y2="1226" stroke-width="2.1"/>
<line x1="1249.09" x2="1262.89" y1="1229.1" y2="1229.1"/>
<line x1="1255.99" x2="1255.99" y1="1229.1" y2="1239.4" stroke-width="2.1"/>
<line x1="1268.61" x2="1282.41" y1="1235.4" y2="1235.4"/>
<line x1="1275.51" x2="1275.51" y1="1235.4" y2="1244.9" stroke-width="2.1"/>
<line x1="1288.12" x2="1301.92" y1="1239.8" y2="1239.8"/>
<line x1="1295.02" x2="1295.02" y1="1239.8" y2="1249.2" stroke-width="2.1"/>
<line x1="1307.64" x2="1321.44" y1="1243.5" y2="1243.5"/>
<line x1="1314.54" x2="1314.54" y1="1243.5" y2="1251.6" stroke-width="2.1"/>
<line x1="1327.15" x2="1340.95" y1="1248.6" y2="1248.6"/>
<line x1="1334.05" x2="1334.05" y1="1248.6" y2="1255.7" stroke-width="2.1"/>
<line x1="1346.67" x2="1360.47" y1="1255.1" y2="1255.1"/>
<line x1="1353.57" x2="1353.57" y1="1255.1" y2="1261.6" stroke-width="2.1"/>
<line x1="1366.18" x2="1379.98" y1="1257.1" y2="1257.1"/>
<line x1="1373.08" x2="1373.08" y1="1257.1" y2="1262.6" stroke-width="2.1"/>
<line x1="1385.7" x2="1399.5" y1="1262.4" y2="1262.4"/>
<line x1="1392.6" x2="1392.6" y1="1262.4" y2="1267.9" stroke-width="2.1"/>
</g>
<g stroke="#62c4ce" stroke-width="1.5" stroke-linecap="round" fill="none">
<line x1="1138.9" x2="1138.9" y1="830.8" y2="980.4"/>
<line x1="1138.9" x2="1138.9" y1="1115.2" y2="1217.2"/>
<line x1="1158.42" x2="1158.42" y1="773.1" y2="966.7"/>
<line x1="1158.42" x2="1158.42" y1="1131.5" y2="1239.1"/>
<line x1="1177.93" x2="1177.93" y1="743.5" y2="946.3"/>
<line x1="1177.93" x2="1177.93" y1="1123.5" y2="1241.6"/>
<line x1="1197.45" x2="1197.45" y1="774.5" y2="972.8"/>
<line x1="1197.45" x2="1197.45" y1="1145" y2="1256.4"/>
<line x1="1216.96" x2="1216.96" y1="885.3" y2="1055.6"/>
<line x1="1216.96" x2="1216.96" y1="1202.2" y2="1293"/>
<line x1="1236.48" x2="1236.48" y1="938" y2="1093.2"/>
<line x1="1236.48" x2="1236.48" y1="1226.8" y2="1308.8"/>
<line x1="1255.99" x2="1255.99" y1="969.6" y2="1115.8"/>
<line x1="1255.99" x2="1255.99" y1="1240.2" y2="1318.8"/>
<line x1="1275.51" x2="1275.51" y1="981.3" y2="1125.2"/>
<line x1="1275.51" x2="1275.51" y1="1245.7" y2="1321.4"/>
<line x1="1295.02" x2="1295.02" y1="996.6" y2="1135.2"/>
<line x1="1295.02" x2="1295.02" y1="1250" y2="1325.1"/>
<line x1="1314.54" x2="1314.54" y1="1007.8" y2="1141.3"/>
<line x1="1314.54" x2="1314.54" y1="1252.4" y2="1324.9"/>
<line x1="1334.05" x2="1334.05" y1="1014.9" y2="1144.8"/>
<line x1="1334.05" x2="1334.05" y1="1256.5" y2="1328.7"/>
<line x1="1353.57" x2="1353.57" y1="1034.5" y2="1157.6"/>
<line x1="1353.57" x2="1353.57" y1="1262.4" y2="1331.6"/>
<line x1="1373.08" x2="1373.08" y1="1038.4" y2="1162.1"/>
<line x1="1373.08" x2="1373.08" y1="1263.4" y2="1331"/>
<line x1="1392.6" x2="1392.6" y1="1043.1" y2="1165.2"/>
<line x1="1392.6" x2="1392.6" y1="1268.7" y2="1332.2"/>
</g>
<g stroke="#e8c9c4" stroke-width="2.5" fill="none"><line x1="1138.9" x2="1138.9" y1="830.1" y2="970"/><line x1="1138.9" x2="1138.9" y1="1115.2" y2="1211"/><line x1="1158.42" x2="1158.42" y1="772.4" y2="951.6"/><line x1="1158.42" x2="1158.42" y1="1131.5" y2="1227"/><line x1="1177.93" x2="1177.93" y1="742.8" y2="932.6"/><line x1="1177.93" x2="1177.93" y1="1123.5" y2="1229.1"/><line x1="1197.45" x2="1197.45" y1="773.8" y2="956.3"/><line x1="1197.45" x2="1197.45" y1="1145" y2="1242.9"/><line x1="1216.96" x2="1216.96" y1="884.6" y2="1039.1"/><line x1="1216.96" x2="1216.96" y1="1202.2" y2="1280.9"/><line x1="1236.48" x2="1236.48" y1="937.3" y2="1080.3"/><line x1="1236.48" x2="1236.48" y1="1226.8" y2="1299.8"/><line x1="1255.99" x2="1255.99" y1="968.9" y2="1101.5"/><line x1="1255.99" x2="1255.99" y1="1240.2" y2="1309.9"/><line x1="1275.51" x2="1275.51" y1="980.6" y2="1111.1"/><line x1="1275.51" x2="1275.51" y1="1245.7" y2="1314"/><line x1="1295.02" x2="1295.02" y1="995.9" y2="1123.3"/><line x1="1295.02" x2="1295.02" y1="1250" y2="1315.6"/><line x1="1314.54" x2="1314.54" y1="1007.1" y2="1130.5"/><line x1="1314.54" x2="1314.54" y1="1252.4" y2="1319.1"/><line x1="1334.05" x2="1334.05" y1="1014.2" y2="1137.8"/><line x1="1334.05" x2="1334.05" y1="1256.5" y2="1320.1"/><line x1="1353.57" x2="1353.57" y1="1033.8" y2="1150.3"/><line x1="1353.57" x2="1353.57" y1="1262.4" y2="1326.8"/><line x1="1373.08" x2="1373.08" y1="1037.7" y2="1151.1"/><line x1="1373.08" x2="1373.08" y1="1263.4" y2="1325.2"/><line x1="1392.6" x2="1392.6" y1="1042.4" y2="1160.9"/><line x1="1392.6" x2="1392.6" y1="1268.7" y2="1328.2"/></g>
<g stroke="#4f979b" stroke-width="1.5" fill="none"><line x1="1138.9" x2="1138.9" y1="830.1" y2="970"/><line x1="1138.9" x2="1138.9" y1="1115.2" y2="1211"/><line x1="1158.42" x2="1158.42" y1="772.4" y2="951.6"/><line x1="1158.42" x2="1158.42" y1="1131.5" y2="1227"/><line x1="1177.93" x2="1177.93" y1="742.8" y2="932.6"/><line x1="1177.93" x2="1177.93" y1="1123.5" y2="1229.1"/><line x1="1197.45" x2="1197.45" y1="773.8" y2="956.3"/><line x1="1197.45" x2="1197.45" y1="1145" y2="1242.9"/><line x1="1216.96" x2="1216.96" y1="884.6" y2="1039.1"/><line x1="1216.96" x2="1216.96" y1="1202.2" y2="1280.9"/><line x1="1236.48" x2="1236.48" y1="937.3" y2="1080.3"/><line x1="1236.48" x2="1236.48" y1="1226.8" y2="1299.8"/><line x1="1255.99" x2="1255.99" y1="968.9" y2="1101.5"/><line x1="1255.99" x2="1255.99" y1="1240.2" y2="1309.9"/><line x1="1275.51" x2="1275.51" y1="980.6" y2="1111.1"/><line x1="1275.51" x2="1275.51" y1="1245.7" y2="1314"/><line x1="1295.02" x2="1295.02" y1="995.9" y2="1123.3"/><line x1="1295.02" x2="1295.02" y1="1250" y2="1315.6"/><line x1="1314.54" x2="1314.54" y1="1007.1" y2="1130.5"/><line x1="1314.54" x2="1314.54" y1="1252.4" y2="1319.1"/><line x1="1334.05" x2="1334.05" y1="1014.2" y2="1137.8"/><line x1="1334.05" x2="1334.05" y1="1256.5" y2="1320.1"/><line x1="1353.57" x2="1353.57" y1="1033.8" y2="1150.3"/><line x1="1353.57" x2="1353.57" y1="1262.4" y2="1326.8"/><line x1="1373.08" x2="1373.08" y1="1037.7" y2="1151.1"/><line x1="1373.08" x2="1373.08" y1="1263.4" y2="1325.2"/><line x1="1392.6" x2="1392.6" y1="1042.4" y2="1160.9"/><line x1="1392.6" x2="1392.6" y1="1268.7" y2="1328.2"/></g>
<g stroke="rgba(78,192,203,0.85)" stroke-width="1.6" stroke-linejoin="round" fill="none">
<rect x="1131.3" y="980.4" width="15.2" height="134.8"/>
<rect x="1150.82" y="966.7" width="15.2" height="164.8"/>
<rect x="1170.33" y="946.3" width="15.2" height="177.2"/>
<rect x="1189.85" y="972.8" width="15.2" height="172.2"/>
<rect x="1209.36" y="1055.6" width="15.2" height="146.6"/>
<rect x="1228.88" y="1093.2" width="15.2" height="133.6"/>
<rect x="1248.39" y="1115.8" width="15.2" height="124.4"/>
<rect x="1267.91" y="1125.2" width="15.2" height="120.5"/>
<rect x="1287.42" y="1135.2" width="15.2" height="114.8"/>
<rect x="1306.94" y="1141.3" width="15.2" height="111.1"/>
<rect x="1326.45" y="1144.8" width="15.2" height="111.7"/>
<rect x="1345.97" y="1157.6" width="15.2" height="104.8"/>
<rect x="1365.48" y="1162.1" width="15.2" height="101.3"/>
<rect x="1385" y="1165.2" width="15.2" height="103.5"/>
</g>
<polyline points="1138.9,1040.7 1158.42,1043.6 1177.93,1029.5 1197.45,1051.1 1216.96,1121.5 1236.48,1154.9 1255.99,1173 1275.51,1180.7 1295.02,1188.4 1314.54,1193.7 1334.05,1200.6 1353.57,1208.7 1373.08,1211 1392.6,1217.1" fill="none" stroke="#e0493b" stroke-width="2.0" stroke-linejoin="round"/>
<polyline points="1138.9,1051.8 1158.42,1057.7 1177.93,1043.6 1197.45,1067.5 1216.96,1137.2 1236.48,1168.1 1255.99,1185.4 1275.51,1193.3 1295.02,1199 1314.54,1203 1334.05,1206.9 1353.57,1215.4 1373.08,1218.1 1392.6,1224.6" fill="none" stroke="#5ccbd6" stroke-width="1.6" stroke-linejoin="round"/>
<g fill="#fff">
<circle cx="1138.9" cy="1040.7" r="2.6"/>
<circle cx="1158.42" cy="1043.6" r="2.6"/>
<circle cx="1177.93" cy="1029.5" r="2.6"/>
<circle cx="1197.45" cy="1051.1" r="2.6"/>
<circle cx="1216.96" cy="1121.5" r="2.6"/>
<circle cx="1236.48" cy="1154.9" r="2.6"/>
<circle cx="1255.99" cy="1173" r="2.6"/>
<circle cx="1275.51" cy="1180.7" r="2.6"/>
<circle cx="1295.02" cy="1188.4" r="2.6"/>
<circle cx="1314.54" cy="1193.7" r="2.6"/>
<circle cx="1334.05" cy="1200.6" r="2.6"/>
<circle cx="1353.57" cy="1208.7" r="2.6"/>
<circle cx="1373.08" cy="1211" r="2.6"/>
<circle cx="1392.6" cy="1217.1" r="2.6"/>
</g>
<g fill="#fff">
<circle cx="1138.9" cy="1051.8" r="2.6"/>
<circle cx="1158.42" cy="1057.7" r="2.6"/>
<circle cx="1177.93" cy="1043.6" r="2.6"/>
<circle cx="1197.45" cy="1067.5" r="2.6"/>
<circle cx="1216.96" cy="1137.2" r="2.6"/>
<circle cx="1236.48" cy="1168.1" r="2.6"/>
<circle cx="1255.99" cy="1185.4" r="2.6"/>
<circle cx="1275.51" cy="1193.3" r="2.6"/>
<circle cx="1295.02" cy="1199" r="2.6"/>
<circle cx="1314.54" cy="1203" r="2.6"/>
<circle cx="1334.05" cy="1206.9" r="2.6"/>
<circle cx="1353.57" cy="1215.4" r="2.6"/>
<circle cx="1373.08" cy="1218.1" r="2.6"/>
<circle cx="1392.6" cy="1224.6" r="2.6"/>
</g>
<g stroke="#0a0a0a" stroke-width="1.6" fill="none">
<line x1="1127.1" x2="1127.1" y1="726.8" y2="1334.25"/>
<line x1="1124.5" x2="1404.2" y1="1333.6" y2="1333.6"/>
<line x1="1123.5" x2="1127.1" y1="727.4" y2="727.4"/>
<line x1="1123.5" x2="1127.1" y1="788.02" y2="788.02"/>
<line x1="1123.5" x2="1127.1" y1="848.64" y2="848.64"/>
<line x1="1123.5" x2="1127.1" y1="909.26" y2="909.26"/>
<line x1="1123.5" x2="1127.1" y1="969.88" y2="969.88"/>
<line x1="1123.5" x2="1127.1" y1="1030.5" y2="1030.5"/>
<line x1="1123.5" x2="1127.1" y1="1091.12" y2="1091.12"/>
<line x1="1123.5" x2="1127.1" y1="1151.74" y2="1151.74"/>
<line x1="1123.5" x2="1127.1" y1="1212.36" y2="1212.36"/>
<line x1="1123.5" x2="1127.1" y1="1272.98" y2="1272.98"/>
<line x1="1123.5" x2="1127.1" y1="1333.6" y2="1333.6"/>
<line x1="1138.9" x2="1138.9" y1="1333.6" y2="1337.4"/>
<line x1="1158.42" x2="1158.42" y1="1333.6" y2="1337.4"/>
<line x1="1177.93" x2="1177.93" y1="1333.6" y2="1337.4"/>
<line x1="1197.45" x2="1197.45" y1="1333.6" y2="1337.4"/>
<line x1="1216.96" x2="1216.96" y1="1333.6" y2="1337.4"/>
<line x1="1236.48" x2="1236.48" y1="1333.6" y2="1337.4"/>
<line x1="1255.99" x2="1255.99" y1="1333.6" y2="1337.4"/>
<line x1="1275.51" x2="1275.51" y1="1333.6" y2="1337.4"/>
<line x1="1295.02" x2="1295.02" y1="1333.6" y2="1337.4"/>
<line x1="1314.54" x2="1314.54" y1="1333.6" y2="1337.4"/>
<line x1="1334.05" x2="1334.05" y1="1333.6" y2="1337.4"/>
<line x1="1353.57" x2="1353.57" y1="1333.6" y2="1337.4"/>
<line x1="1373.08" x2="1373.08" y1="1333.6" y2="1337.4"/>
<line x1="1392.6" x2="1392.6" y1="1333.6" y2="1337.4"/>
</g>
<g font-size="10.2" fill="#000" stroke="#000" stroke-width="0.25" text-anchor="end">
<text x="1121.1" y="731.6">780.0</text>
<text x="1121.1" y="792.22">722.0</text>
<text x="1121.1" y="852.84">664.0</text>
<text x="1121.1" y="913.46">606.0</text>
<text x="1121.1" y="974.08">548.0</text>
<text x="1121.1" y="1034.7">490.0</text>
<text x="1121.1" y="1095.32">432.0</text>
<text x="1121.1" y="1155.94">374.0</text>
<text x="1121.1" y="1216.56">316.0</text>
<text x="1121.1" y="1277.18">258.0</text>
<text x="1121.1" y="1337.8">200.0</text>
</g>
<g font-size="10.2" fill="#000" stroke="#000" stroke-width="0.25" text-anchor="end">
<text transform="translate(1143.5,1344.2) rotate(-45)">1</text>
<text transform="translate(1163.02,1344.2) rotate(-45)">2</text>
<text transform="translate(1182.53,1344.2) rotate(-45)">3</text>
<text transform="translate(1202.05,1344.2) rotate(-45)">4</text>
<text transform="translate(1221.56,1344.2) rotate(-45)">5</text>
<text transform="translate(1241.08,1344.2) rotate(-45)">6</text>
<text transform="translate(1260.59,1344.2) rotate(-45)">7</text>
<text transform="translate(1280.11,1344.2) rotate(-45)">8</text>
<text transform="translate(1299.62,1344.2) rotate(-45)">9</text>
<text transform="translate(1319.14,1344.2) rotate(-45)">10</text>
<text transform="translate(1338.65,1344.2) rotate(-45)">11</text>
<text transform="translate(1358.17,1344.2) rotate(-45)">12</text>
<text transform="translate(1377.68,1344.2) rotate(-45)">13</text>
<text transform="translate(1397.2,1344.2) rotate(-45)">14</text>
</g>
<text x="1265.7" y="1367.3" text-anchor="middle" font-size="13.05" fill="#000" stroke="#000" stroke-width="0.2">Age by days(s)</text>
<text transform="translate(1089.6,1030.5) rotate(-90)" text-anchor="middle" font-size="12.4" fill="#000" stroke="#000" stroke-width="0.2">μM</text>
<line x1="1322.8" x2="1322.8" y1="713.7" y2="730.9" stroke="#e1675f" stroke-width="2" stroke-linecap="round"/>
<rect x="1314.2" y="716.1" width="17.2" height="12.4" rx="1.2" fill="#e1675f"/>
<path d="M1316.6 719.9H1329M1316.6 724.7H1329" stroke="#fff" stroke-opacity="0.45" stroke-width="1.6" stroke-dasharray="2.6 0.6" fill="none"/>
<circle cx="1322.8" cy="722.3" r="2.4" fill="#fff"/>
<text x="1339.2" y="726.3" font-size="10.3" fill="#000" stroke="#000" stroke-width="0.3">Female</text>
<line x1="1322.8" x2="1322.8" y1="734.15" y2="751.35" stroke="#64bdc6" stroke-width="2" stroke-linecap="round"/>
<rect x="1314.2" y="736.55" width="17.2" height="12.4" rx="1.2" fill="#64bdc6"/>
<path d="M1316.6 740.35H1329M1316.6 745.15H1329" stroke="#fff" stroke-opacity="0.45" stroke-width="1.6" stroke-dasharray="2.6 0.6" fill="none"/>
<circle cx="1322.8" cy="742.75" r="2.4" fill="#fff"/>
<text x="1339.2" y="746.75" font-size="10.3" fill="#000" stroke="#000" stroke-width="0.3">Male</text>
</g>
<g>
<text x="1627.4" y="717.1" text-anchor="middle" font-size="18.8" font-weight="bold" fill="#000" stroke="#000" stroke-width="0.1">PHE</text>
<g stroke="#dd4a3c" stroke-width="2.1" stroke-linecap="round" fill="none">
<line x1="1497.9" x2="1497.9" y1="795.4" y2="960.8"/>
<line x1="1497.9" x2="1497.9" y1="1117.4" y2="1239.8"/>
<line x1="1517.83" x2="1517.83" y1="789.1" y2="974.5"/>
<line x1="1517.83" x2="1517.83" y1="1140.9" y2="1262.2"/>
<line x1="1537.76" x2="1537.76" y1="732" y2="932.6"/>
<line x1="1537.76" x2="1537.76" y1="1118.2" y2="1254.7"/>
<line x1="1557.69" x2="1557.69" y1="739.1" y2="939.4"/>
<line x1="1557.69" x2="1557.69" y1="1125" y2="1261.2"/>
<line x1="1577.62" x2="1577.62" y1="795.6" y2="991.8"/>
<line x1="1577.62" x2="1577.62" y1="1169.3" y2="1295.1"/>
<line x1="1597.55" x2="1597.55" y1="807.1" y2="1000.2"/>
<line x1="1597.55" x2="1597.55" y1="1176.8" y2="1303.8"/>
<line x1="1617.48" x2="1617.48" y1="816.2" y2="1008.9"/>
<line x1="1617.48" x2="1617.48" y1="1188" y2="1311.4"/>
<line x1="1637.42" x2="1637.42" y1="811.3" y2="1010.1"/>
<line x1="1637.42" x2="1637.42" y1="1190.7" y2="1320.1"/>
<line x1="1657.35" x2="1657.35" y1="814" y2="1011.6"/>
<line x1="1657.35" x2="1657.35" y1="1190.5" y2="1317.4"/>
<line x1="1677.28" x2="1677.28" y1="814.4" y2="1013.8"/>
<line x1="1677.28" x2="1677.28" y1="1193.5" y2="1319.1"/>
<line x1="1697.21" x2="1697.21" y1="832.1" y2="1024.8"/>
<line x1="1697.21" x2="1697.21" y1="1197.8" y2="1322.1"/>
<line x1="1717.14" x2="1717.14" y1="845.2" y2="1029.1"/>
<line x1="1717.14" x2="1717.14" y1="1200" y2="1320.1"/>
<line x1="1737.07" x2="1737.07" y1="837.7" y2="1027.9"/>
<line x1="1737.07" x2="1737.07" y1="1200.4" y2="1318.7"/>
<line x1="1757" x2="1757" y1="854.6" y2="1038.3"/>
<line x1="1757" x2="1757" y1="1199.8" y2="1317"/>
</g>
<g stroke="#db4a3d" stroke-width="1.6" stroke-linejoin="round" fill="#f3c5c1">
<rect x="1490.05" y="960.8" width="15.7" height="156.6"/>
<rect x="1509.98" y="974.5" width="15.7" height="166.4"/>
<rect x="1529.91" y="932.6" width="15.7" height="185.6"/>
<rect x="1549.84" y="939.4" width="15.7" height="185.6"/>
<rect x="1569.77" y="991.8" width="15.7" height="177.5"/>
<rect x="1589.7" y="1000.2" width="15.7" height="176.6"/>
<rect x="1609.63" y="1008.9" width="15.7" height="179.1"/>
<rect x="1629.57" y="1010.1" width="15.7" height="180.6"/>
<rect x="1649.5" y="1011.6" width="15.7" height="178.9"/>
<rect x="1669.43" y="1013.8" width="15.7" height="179.7"/>
<rect x="1689.36" y="1024.8" width="15.7" height="173"/>
<rect x="1709.29" y="1029.1" width="15.7" height="170.9"/>
<rect x="1729.22" y="1027.9" width="15.7" height="172.5"/>
<rect x="1749.15" y="1038.3" width="15.7" height="161.5"/>
</g>
<g fill="#a4bbbe"><rect x="1490.3" y="960.8" width="15.2" height="147"/><rect x="1510.23" y="974.5" width="15.2" height="166.4"/><rect x="1530.16" y="936.3" width="15.2" height="181.9"/><rect x="1550.09" y="942" width="15.2" height="183"/><rect x="1570.02" y="993.8" width="15.2" height="175.5"/><rect x="1589.95" y="1002.6" width="15.2" height="174.2"/><rect x="1609.88" y="1012.2" width="15.2" height="175.8"/><rect x="1629.82" y="1015.5" width="15.2" height="175.2"/><rect x="1649.75" y="1021" width="15.2" height="169.5"/><rect x="1669.68" y="1026.7" width="15.2" height="166.8"/><rect x="1689.61" y="1038.3" width="15.2" height="159.5"/><rect x="1709.54" y="1042.6" width="15.2" height="157.4"/><rect x="1729.47" y="1044" width="15.2" height="156.4"/><rect x="1749.4" y="1052" width="15.2" height="147.8"/></g>
<g fill="#b6e6e9"><rect x="1490.3" y="947.5" width="15.2" height="13.3"/><rect x="1510.23" y="974" width="15.2" height="0.5"/><rect x="1510.23" y="1140.9" width="15.2" height="0.6"/><rect x="1530.16" y="1118.2" width="15.2" height="3.1"/><rect x="1550.09" y="1125" width="15.2" height="1.8"/><rect x="1570.02" y="1169.3" width="15.2" height="1.2"/><rect x="1589.95" y="1176.8" width="15.2" height="4.1"/><rect x="1609.88" y="1188" width="15.2" height="3.3"/><rect x="1629.82" y="1190.7" width="15.2" height="3"/><rect x="1649.75" y="1190.5" width="15.2" height="9.1"/><rect x="1669.68" y="1193.5" width="15.2" height="8.3"/><rect x="1689.61" y="1197.8" width="15.2" height="10.5"/><rect x="1709.54" y="1200" width="15.2" height="11.6"/><rect x="1729.47" y="1200.4" width="15.2" height="10.8"/><rect x="1749.4" y="1199.8" width="15.2" height="15.4"/></g>
<g stroke="#968a88" stroke-width="1.7" fill="none">
<line x1="1491" x2="1504.8" y1="960.8" y2="960.8"/>
<line x1="1497.9" x2="1497.9" y1="948.3" y2="960.8" stroke-width="2.1"/>
<line x1="1530.86" x2="1544.66" y1="1118.2" y2="1118.2"/>
<line x1="1537.76" x2="1537.76" y1="1118.2" y2="1120.5" stroke-width="2.1"/>
<line x1="1550.79" x2="1564.59" y1="1125" y2="1125"/>
<line x1="1557.69" x2="1557.69" y1="1125" y2="1126" stroke-width="2.1"/>
<line x1="1590.65" x2="1604.45" y1="1176.8" y2="1176.8"/>
<line x1="1597.55" x2="1597.55" y1="1176.8" y2="1180.1" stroke-width="2.1"/>
<line x1="1610.58" x2="1624.38" y1="1188" y2="1188"/>
<line x1="1617.48" x2="1617.48" y1="1188" y2="1190.5" stroke-width="2.1"/>
<line x1="1630.52" x2="1644.32" y1="1190.7" y2="1190.7"/>
<line x1="1637.42" x2="1637.42" y1="1190.7" y2="1192.9" stroke-width="2.1"/>
<line x1="1650.45" x2="1664.25" y1="1190.5" y2="1190.5"/>
<line x1="1657.35" x2="1657.35" y1="1190.5" y2="1198.8" stroke-width="2.1"/>
<line x1="1670.38" x2="1684.18" y1="1193.5" y2="1193.5"/>
<line x1="1677.28" x2="1677.28" y1="1193.5" y2="1201" stroke-width="2.1"/>
<line x1="1690.31" x2="1704.11" y1="1197.8" y2="1197.8"/>
<line x1="1697.21" x2="1697.21" y1="1197.8" y2="1207.5" stroke-width="2.1"/>
<line x1="1710.24" x2="1724.04" y1="1200" y2="1200"/>
<line x1="1717.14" x2="1717.14" y1="1200" y2="1210.8" stroke-width="2.1"/>
<line x1="1730.17" x2="1743.97" y1="1200.4" y2="1200.4"/>
<line x1="1737.07" x2="1737.07" y1="1200.4" y2="1210.4" stroke-width="2.1"/>
<line x1="1750.1" x2="1763.9" y1="1199.8" y2="1199.8"/>
<line x1="1757" x2="1757" y1="1199.8" y2="1214.4" stroke-width="2.1"/>
</g>
<g stroke="#62c4ce" stroke-width="1.5" stroke-linecap="round" fill="none">
<line x1="1497.9" x2="1497.9" y1="774.7" y2="947.5"/>
<line x1="1497.9" x2="1497.9" y1="1107.8" y2="1232"/>
<line x1="1517.83" x2="1517.83" y1="788" y2="974"/>
<line x1="1517.83" x2="1517.83" y1="1141.5" y2="1263.1"/>
<line x1="1537.76" x2="1537.76" y1="736.4" y2="936.3"/>
<line x1="1537.76" x2="1537.76" y1="1121.3" y2="1255.6"/>
<line x1="1557.69" x2="1557.69" y1="740.9" y2="942"/>
<line x1="1557.69" x2="1557.69" y1="1126.8" y2="1262.1"/>
<line x1="1577.62" x2="1577.62" y1="799.6" y2="993.8"/>
<line x1="1577.62" x2="1577.62" y1="1170.5" y2="1296.4"/>
<line x1="1597.55" x2="1597.55" y1="805.3" y2="1002.6"/>
<line x1="1597.55" x2="1597.55" y1="1180.9" y2="1307.2"/>
<line x1="1617.48" x2="1617.48" y1="815.3" y2="1012.2"/>
<line x1="1617.48" x2="1617.48" y1="1191.3" y2="1316.3"/>
<line x1="1637.42" x2="1637.42" y1="820.4" y2="1015.5"/>
<line x1="1637.42" x2="1637.42" y1="1193.7" y2="1321"/>
<line x1="1657.35" x2="1657.35" y1="825.1" y2="1021"/>
<line x1="1657.35" x2="1657.35" y1="1199.6" y2="1325.1"/>
<line x1="1677.28" x2="1677.28" y1="828.2" y2="1026.7"/>
<line x1="1677.28" x2="1677.28" y1="1201.8" y2="1326.1"/>
<line x1="1697.21" x2="1697.21" y1="850" y2="1038.3"/>
<line x1="1697.21" x2="1697.21" y1="1208.3" y2="1328.3"/>
<line x1="1717.14" x2="1717.14" y1="855.1" y2="1042.6"/>
<line x1="1717.14" x2="1717.14" y1="1211.6" y2="1329.1"/>
<line x1="1737.07" x2="1737.07" y1="861.8" y2="1044"/>
<line x1="1737.07" x2="1737.07" y1="1211.2" y2="1329.1"/>
<line x1="1757" x2="1757" y1="866.9" y2="1052"/>
<line x1="1757" x2="1757" y1="1215.2" y2="1330.5"/>
</g>
<g stroke="#e8c9c4" stroke-width="2.5" fill="none"><line x1="1497.9" x2="1497.9" y1="794.4" y2="947.5"/><line x1="1497.9" x2="1497.9" y1="1117.4" y2="1232.7"/><line x1="1517.83" x2="1517.83" y1="788.1" y2="974"/><line x1="1517.83" x2="1517.83" y1="1141.5" y2="1263.2"/><line x1="1537.76" x2="1537.76" y1="735.7" y2="932.6"/><line x1="1537.76" x2="1537.76" y1="1121.3" y2="1255.7"/><line x1="1557.69" x2="1557.69" y1="740.2" y2="939.4"/><line x1="1557.69" x2="1557.69" y1="1126.8" y2="1262.2"/><line x1="1577.62" x2="1577.62" y1="798.9" y2="991.8"/><line x1="1577.62" x2="1577.62" y1="1170.5" y2="1296.1"/><line x1="1597.55" x2="1597.55" y1="806.1" y2="1000.2"/><line x1="1597.55" x2="1597.55" y1="1180.9" y2="1304.8"/><line x1="1617.48" x2="1617.48" y1="815.2" y2="1008.9"/><line x1="1617.48" x2="1617.48" y1="1191.3" y2="1312.4"/><line x1="1637.42" x2="1637.42" y1="819.7" y2="1010.1"/><line x1="1637.42" x2="1637.42" y1="1193.7" y2="1321.1"/><line x1="1657.35" x2="1657.35" y1="824.4" y2="1011.6"/><line x1="1657.35" x2="1657.35" y1="1199.6" y2="1318.4"/><line x1="1677.28" x2="1677.28" y1="827.5" y2="1013.8"/><line x1="1677.28" x2="1677.28" y1="1201.8" y2="1320.1"/><line x1="1697.21" x2="1697.21" y1="849.3" y2="1024.8"/><line x1="1697.21" x2="1697.21" y1="1208.3" y2="1323.1"/><line x1="1717.14" x2="1717.14" y1="854.4" y2="1029.1"/><line x1="1717.14" x2="1717.14" y1="1211.6" y2="1321.1"/><line x1="1737.07" x2="1737.07" y1="861.1" y2="1027.9"/><line x1="1737.07" x2="1737.07" y1="1211.2" y2="1319.7"/><line x1="1757" x2="1757" y1="866.2" y2="1038.3"/><line x1="1757" x2="1757" y1="1215.2" y2="1318"/></g>
<g stroke="#4f979b" stroke-width="1.5" fill="none"><line x1="1497.9" x2="1497.9" y1="794.4" y2="947.5"/><line x1="1497.9" x2="1497.9" y1="1117.4" y2="1232.7"/><line x1="1517.83" x2="1517.83" y1="788.1" y2="974"/><line x1="1517.83" x2="1517.83" y1="1141.5" y2="1263.2"/><line x1="1537.76" x2="1537.76" y1="735.7" y2="932.6"/><line x1="1537.76" x2="1537.76" y1="1121.3" y2="1255.7"/><line x1="1557.69" x2="1557.69" y1="740.2" y2="939.4"/><line x1="1557.69" x2="1557.69" y1="1126.8" y2="1262.2"/><line x1="1577.62" x2="1577.62" y1="798.9" y2="991.8"/><line x1="1577.62" x2="1577.62" y1="1170.5" y2="1296.1"/><line x1="1597.55" x2="1597.55" y1="806.1" y2="1000.2"/><line x1="1597.55" x2="1597.55" y1="1180.9" y2="1304.8"/><line x1="1617.48" x2="1617.48" y1="815.2" y2="1008.9"/><line x1="1617.48" x2="1617.48" y1="1191.3" y2="1312.4"/><line x1="1637.42" x2="1637.42" y1="819.7" y2="1010.1"/><line x1="1637.42" x2="1637.42" y1="1193.7" y2="1321.1"/><line x1="1657.35" x2="1657.35" y1="824.4" y2="1011.6"/><line x1="1657.35" x2="1657.35" y1="1199.6" y2="1318.4"/><line x1="1677.28" x2="1677.28" y1="827.5" y2="1013.8"/><line x1="1677.28" x2="1677.28" y1="1201.8" y2="1320.1"/><line x1="1697.21" x2="1697.21" y1="849.3" y2="1024.8"/><line x1="1697.21" x2="1697.21" y1="1208.3" y2="1323.1"/><line x1="1717.14" x2="1717.14" y1="854.4" y2="1029.1"/><line x1="1717.14" x2="1717.14" y1="1211.6" y2="1321.1"/><line x1="1737.07" x2="1737.07" y1="861.1" y2="1027.9"/><line x1="1737.07" x2="1737.07" y1="1211.2" y2="1319.7"/><line x1="1757" x2="1757" y1="866.2" y2="1038.3"/><line x1="1757" x2="1757" y1="1215.2" y2="1318"/></g>
<g stroke="rgba(78,192,203,0.85)" stroke-width="1.6" stroke-linejoin="round" fill="none">
<rect x="1490.3" y="947.5" width="15.2" height="160.3"/>
<rect x="1510.23" y="974" width="15.2" height="167.5"/>
<rect x="1530.16" y="936.3" width="15.2" height="185"/>
<rect x="1550.09" y="942" width="15.2" height="184.8"/>
<rect x="1570.02" y="993.8" width="15.2" height="176.7"/>
<rect x="1589.95" y="1002.6" width="15.2" height="178.3"/>
<rect x="1609.88" y="1012.2" width="15.2" height="179.1"/>
<rect x="1629.82" y="1015.5" width="15.2" height="178.2"/>
<rect x="1649.75" y="1021" width="15.2" height="178.6"/>
<rect x="1669.68" y="1026.7" width="15.2" height="175.1"/>
<rect x="1689.61" y="1038.3" width="15.2" height="170"/>
<rect x="1709.54" y="1042.6" width="15.2" height="169"/>
<rect x="1729.47" y="1044" width="15.2" height="167.2"/>
<rect x="1749.4" y="1052" width="15.2" height="163.2"/>
</g>
<polyline points="1497.9,1044.2 1517.83,1064.4 1537.76,1032.2 1557.69,1038.9 1577.62,1087.9 1597.55,1095.4 1617.48,1105.2 1637.42,1107.8 1657.35,1108.5 1677.28,1112.1 1697.21,1117.6 1717.14,1122.3 1737.07,1122.3 1757,1124.6" fill="none" stroke="#e0493b" stroke-width="2.0" stroke-linejoin="round"/>
<polyline points="1497.9,1031.4 1517.83,1064.4 1537.76,1035.4 1557.69,1040.7 1577.62,1089.3 1597.55,1097.9 1617.48,1109.7 1637.42,1111.3 1657.35,1116.6 1677.28,1120.9 1697.21,1128.6 1717.14,1132.3 1737.07,1135.2 1757,1140.9" fill="none" stroke="#5ccbd6" stroke-width="1.6" stroke-linejoin="round"/>
<g fill="#fff">
<circle cx="1497.9" cy="1044.2" r="2.6"/>
<circle cx="1517.83" cy="1064.4" r="2.6"/>
<circle cx="1537.76" cy="1032.2" r="2.6"/>
<circle cx="1557.69" cy="1038.9" r="2.6"/>
<circle cx="1577.62" cy="1087.9" r="2.6"/>
<circle cx="1597.55" cy="1095.4" r="2.6"/>
<circle cx="1617.48" cy="1105.2" r="2.6"/>
<circle cx="1637.42" cy="1107.8" r="2.6"/>
<circle cx="1657.35" cy="1108.5" r="2.6"/>
<circle cx="1677.28" cy="1112.1" r="2.6"/>
<circle cx="1697.21" cy="1117.6" r="2.6"/>
<circle cx="1717.14" cy="1122.3" r="2.6"/>
<circle cx="1737.07" cy="1122.3" r="2.6"/>
<circle cx="1757" cy="1124.6" r="2.6"/>
</g>
<g fill="#fff">
<circle cx="1497.9" cy="1031.4" r="2.6"/>
<circle cx="1517.83" cy="1064.4" r="2.6"/>
<circle cx="1537.76" cy="1035.4" r="2.6"/>
<circle cx="1557.69" cy="1040.7" r="2.6"/>
<circle cx="1577.62" cy="1089.3" r="2.6"/>
<circle cx="1597.55" cy="1097.9" r="2.6"/>
<circle cx="1617.48" cy="1109.7" r="2.6"/>
<circle cx="1637.42" cy="1111.3" r="2.6"/>
<circle cx="1657.35" cy="1116.6" r="2.6"/>
<circle cx="1677.28" cy="1120.9" r="2.6"/>
<circle cx="1697.21" cy="1128.6" r="2.6"/>
<circle cx="1717.14" cy="1132.3" r="2.6"/>
<circle cx="1737.07" cy="1135.2" r="2.6"/>
<circle cx="1757" cy="1140.9" r="2.6"/>
</g>
<g stroke="#0a0a0a" stroke-width="1.6" fill="none">
<line x1="1485.8" x2="1485.8" y1="726.8" y2="1334.25"/>
<line x1="1483.2" x2="1768.8" y1="1333.6" y2="1333.6"/>
<line x1="1482.2" x2="1485.8" y1="727.4" y2="727.4"/>
<line x1="1482.2" x2="1485.8" y1="848.64" y2="848.64"/>
<line x1="1482.2" x2="1485.8" y1="969.88" y2="969.88"/>
<line x1="1482.2" x2="1485.8" y1="1091.12" y2="1091.12"/>
<line x1="1482.2" x2="1485.8" y1="1212.36" y2="1212.36"/>
<line x1="1482.2" x2="1485.8" y1="1333.6" y2="1333.6"/>
<line x1="1497.9" x2="1497.9" y1="1333.6" y2="1337.4"/>
<line x1="1517.83" x2="1517.83" y1="1333.6" y2="1337.4"/>
<line x1="1537.76" x2="1537.76" y1="1333.6" y2="1337.4"/>
<line x1="1557.69" x2="1557.69" y1="1333.6" y2="1337.4"/>
<line x1="1577.62" x2="1577.62" y1="1333.6" y2="1337.4"/>
<line x1="1597.55" x2="1597.55" y1="1333.6" y2="1337.4"/>
<line x1="1617.48" x2="1617.48" y1="1333.6" y2="1337.4"/>
<line x1="1637.42" x2="1637.42" y1="1333.6" y2="1337.4"/>
<line x1="1657.35" x2="1657.35" y1="1333.6" y2="1337.4"/>
<line x1="1677.28" x2="1677.28" y1="1333.6" y2="1337.4"/>
<line x1="1697.21" x2="1697.21" y1="1333.6" y2="1337.4"/>
<line x1="1717.14" x2="1717.14" y1="1333.6" y2="1337.4"/>
<line x1="1737.07" x2="1737.07" y1="1333.6" y2="1337.4"/>
<line x1="1757" x2="1757" y1="1333.6" y2="1337.4"/>
</g>
<g font-size="10.2" fill="#000" stroke="#000" stroke-width="0.25" text-anchor="end">
<text x="1479.8" y="731.6">79.0</text>
<text x="1479.8" y="852.84">69.0</text>
<text x="1479.8" y="974.08">59.0</text>
<text x="1479.8" y="1095.32">49.0</text>
<text x="1479.8" y="1216.56">39.0</text>
<text x="1479.8" y="1337.8">29.0</text>
</g>
<g font-size="10.2" fill="#000" stroke="#000" stroke-width="0.25" text-anchor="end">
<text transform="translate(1502.5,1344.2) rotate(-45)">1</text>
<text transform="translate(1522.43,1344.2) rotate(-45)">2</text>
<text transform="translate(1542.36,1344.2) rotate(-45)">3</text>
<text transform="translate(1562.29,1344.2) rotate(-45)">4</text>
<text transform="translate(1582.22,1344.2) rotate(-45)">5</text>
<text transform="translate(1602.15,1344.2) rotate(-45)">6</text>
<text transform="translate(1622.08,1344.2) rotate(-45)">7</text>
<text transform="translate(1642.02,1344.2) rotate(-45)">8</text>
<text transform="translate(1661.95,1344.2) rotate(-45)">9</text>
<text transform="translate(1681.88,1344.2) rotate(-45)">10</text>
<text transform="translate(1701.81,1344.2) rotate(-45)">11</text>
<text transform="translate(1721.74,1344.2) rotate(-45)">12</text>
<text transform="translate(1741.67,1344.2) rotate(-45)">13</text>
<text transform="translate(1761.6,1344.2) rotate(-45)">14</text>
</g>
<text x="1627.7" y="1367.3" text-anchor="middle" font-size="13.05" fill="#000" stroke="#000" stroke-width="0.2">Age by days(s)</text>
<text transform="translate(1453.2,1030.5) rotate(-90)" text-anchor="middle" font-size="12.4" fill="#000" stroke="#000" stroke-width="0.2">μM</text>
<line x1="1678.4" x2="1678.4" y1="713.7" y2="730.9" stroke="#e1675f" stroke-width="2" stroke-linecap="round"/>
<rect x="1669.8" y="716.1" width="17.2" height="12.4" rx="1.2" fill="#e1675f"/>
<path d="M1672.2 719.9H1684.6M1672.2 724.7H1684.6" stroke="#fff" stroke-opacity="0.45" stroke-width="1.6" stroke-dasharray="2.6 0.6" fill="none"/>
<circle cx="1678.4" cy="722.3" r="2.4" fill="#fff"/>
<text x="1694.8" y="726.3" font-size="10.3" fill="#000" stroke="#000" stroke-width="0.3">Female</text>
<line x1="1678.4" x2="1678.4" y1="734.15" y2="751.35" stroke="#64bdc6" stroke-width="2" stroke-linecap="round"/>
<rect x="1669.8" y="736.55" width="17.2" height="12.4" rx="1.2" fill="#64bdc6"/>
<path d="M1672.2 740.35H1684.6M1672.2 745.15H1684.6" stroke="#fff" stroke-opacity="0.45" stroke-width="1.6" stroke-dasharray="2.6 0.6" fill="none"/>
<circle cx="1678.4" cy="742.75" r="2.4" fill="#fff"/>
<text x="1694.8" y="746.75" font-size="10.3" fill="#000" stroke="#000" stroke-width="0.3">Male</text>
</g>
</svg>
</body>
</html>
